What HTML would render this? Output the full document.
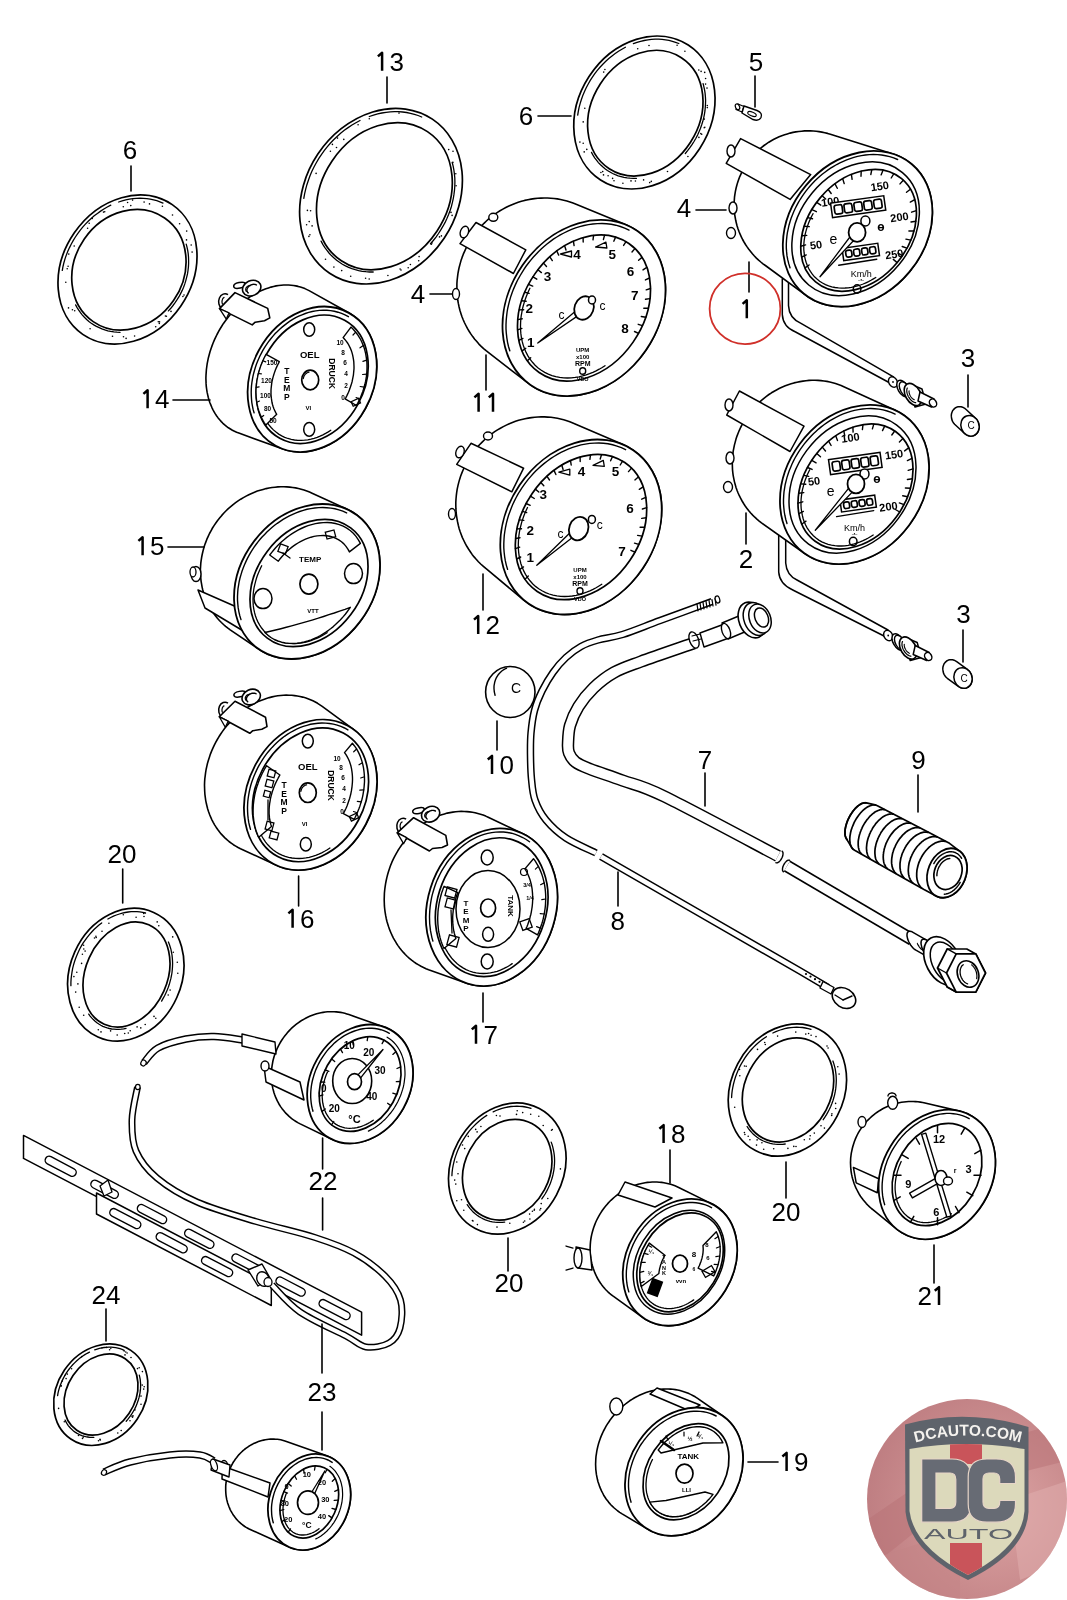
<!DOCTYPE html>
<html><head><meta charset="utf-8"><style>
html,body{margin:0;padding:0;background:#fff;}
svg{display:block;will-change:transform;}
text{font-family:"Liberation Sans",sans-serif;fill:#000;}
</style></head><body>
<svg width="1067" height="1600" viewBox="0 0 1067 1600">
<rect width="1067" height="1600" fill="#fff"/>
<ellipse cx="127.5" cy="269.5" rx="64.6" ry="78.8" fill="none" stroke="#000" stroke-width="1.7" transform="rotate(34.6 127.5 269.5)"/>
<ellipse cx="128.9" cy="269.8" rx="54.2" ry="62.9" fill="none" stroke="#000" stroke-width="1.7" transform="rotate(34.6 128.9 269.8)"/>
<path d="M62.3 270.4 L63 266.5 L63.9 262.7 L65 258.9 L66.3 255.1 L67.8 251.3 L69.5 247.6 L71.3 244 L73.3 240.4 L75.4 237 L77.7 233.6 L80.1 230.3 L82.7 227.1 L85.4 224.1 L88.2 221.2 L91.2 218.4 L94.2 215.8 L97.4 213.4 L100.6 211.1 L103.9 209 L107.3 207 L110.8 205.2" fill="none" stroke="#000" stroke-width="1.3" stroke-linecap="round"/>
<path d="M118.7 202 L122.2 200.8 L125.8 199.9 L129.4 199.2 L132.9 198.6 L136.4 198.3 L140 198.2 L143.4 198.3 L146.9 198.6 L150.2 199.1 L153.6 199.8 L156.8 200.7 L159.9 201.8 L163 203.1" fill="none" stroke="#000" stroke-width="1.3" stroke-linecap="round"/>
<path d="M186.2 244.1 L187 247.2 L187.7 250.4 L188.2 253.7 L188.5 257 L188.6 260.3 L188.6 263.7 L188.4 267.1 L188 270.5 L187.5 273.9 L186.7 277.2 L185.8 280.6 L184.8 283.9 L183.6 287.2 L182.2 290.4 L180.6 293.6 L179 296.7 L177.1 299.7 L175.1 302.7 L173 305.5 L170.8 308.3 L168.4 310.9" fill="none" stroke="#000" stroke-width="1.3" stroke-linecap="round"/>
<path d="M120 332.4 L116.9 332.2 L113.8 331.9 L110.7 331.4 L107.8 330.8 L104.8 329.9 L101.9 328.9 L99.2 327.7 L96.4 326.4 L93.8 324.9 L91.3 323.2 L88.9 321.4 L86.6 319.4 L84.4 317.3 L82.4 315.1 L80.5 312.7 L78.7 310.2 L77.1 307.6 L75.6 304.9" fill="none" stroke="#000" stroke-width="1.3" stroke-linecap="round"/>
<circle cx="68.5" cy="307.9" r="0.8" fill="#000"/>
<circle cx="132.6" cy="200.1" r="0.8" fill="#000"/>
<circle cx="89.2" cy="223.2" r="0.8" fill="#000"/>
<circle cx="159.5" cy="321.9" r="0.8" fill="#000"/>
<circle cx="166.4" cy="316.3" r="0.8" fill="#000"/>
<circle cx="155.7" cy="326.7" r="0.8" fill="#000"/>
<circle cx="68.1" cy="266.2" r="0.8" fill="#000"/>
<circle cx="134.6" cy="336" r="0.8" fill="#000"/>
<circle cx="123.3" cy="206.7" r="0.8" fill="#000"/>
<circle cx="103.5" cy="212.1" r="0.8" fill="#000"/>
<circle cx="184" cy="295" r="0.8" fill="#000"/>
<circle cx="191.2" cy="245" r="0.8" fill="#000"/>
<circle cx="126.1" cy="338.4" r="0.8" fill="#000"/>
<circle cx="74.7" cy="310.7" r="0.8" fill="#000"/>
<circle cx="112.5" cy="336.3" r="0.8" fill="#000"/>
<circle cx="127.6" cy="202.5" r="0.8" fill="#000"/>
<circle cx="92.2" cy="218.4" r="0.8" fill="#000"/>
<circle cx="159.3" cy="323.5" r="0.8" fill="#000"/>
<circle cx="144.1" cy="202.1" r="0.8" fill="#000"/>
<circle cx="72.4" cy="309.7" r="0.8" fill="#000"/>
<circle cx="68.8" cy="254.1" r="0.8" fill="#000"/>
<circle cx="179.6" cy="223.7" r="0.8" fill="#000"/>
<circle cx="90.1" cy="328.8" r="0.8" fill="#000"/>
<circle cx="87.6" cy="228.3" r="0.8" fill="#000"/>
<circle cx="162.4" cy="206.3" r="0.8" fill="#000"/>
<circle cx="182.9" cy="296.5" r="0.8" fill="#000"/>
<circle cx="67.2" cy="268.8" r="0.8" fill="#000"/>
<circle cx="123.5" cy="336.8" r="0.8" fill="#000"/>
<circle cx="165.4" cy="316" r="0.8" fill="#000"/>
<circle cx="172.5" cy="215" r="0.8" fill="#000"/>
<circle cx="192.1" cy="252.1" r="0.8" fill="#000"/>
<circle cx="149.5" cy="203.9" r="0.8" fill="#000"/>
<circle cx="104.7" cy="211.8" r="0.8" fill="#000"/>
<circle cx="186.5" cy="239.9" r="0.8" fill="#000"/>
<circle cx="74.2" cy="246" r="0.8" fill="#000"/>
<circle cx="158.3" cy="321.8" r="0.8" fill="#000"/>
<circle cx="130.8" cy="205.6" r="0.8" fill="#000"/>
<circle cx="186.7" cy="231.1" r="0.8" fill="#000"/>
<circle cx="65.8" cy="282.3" r="0.8" fill="#000"/>
<circle cx="171" cy="311.4" r="0.8" fill="#000"/>
<ellipse cx="381" cy="196.2" rx="75.9" ry="92.6" fill="none" stroke="#000" stroke-width="1.7" transform="rotate(33.7 381 196.2)"/>
<ellipse cx="384.4" cy="196.2" rx="63.1" ry="77.6" fill="none" stroke="#000" stroke-width="1.7" transform="rotate(33.7 384.4 196.2)"/>
<path d="M303.8 198.4 L304.6 193.8 L305.7 189.2 L306.9 184.7 L308.4 180.2 L310 175.7 L311.9 171.3 L314 167 L316.3 162.8 L318.7 158.6 L321.4 154.6 L324.2 150.7 L327.2 146.9 L330.3 143.3 L333.6 139.8 L337.1 136.5 L340.6 133.3 L344.3 130.3 L348.1 127.6 L352 125 L355.9 122.7 L360 120.5" fill="none" stroke="#000" stroke-width="1.3" stroke-linecap="round"/>
<path d="M369.3 116.5 L373.5 115.1 L377.7 113.9 L381.9 113 L386.1 112.3 L390.2 111.9 L394.4 111.7 L398.5 111.7 L402.6 112 L406.6 112.5 L410.5 113.3 L414.4 114.3 L418.1 115.5 L421.7 117" fill="none" stroke="#000" stroke-width="1.3" stroke-linecap="round"/>
<path d="M452.2 162.5 L453.2 166.3 L453.9 170.1 L454.4 174 L454.8 177.9 L454.9 181.9 L454.8 186 L454.5 190.1 L454 194.2 L453.3 198.3 L452.4 202.4 L451.4 206.5 L450.1 210.5 L448.6 214.5 L446.9 218.5 L445.1 222.4 L443 226.2 L440.8 229.9 L438.5 233.5 L436 237.1 L433.3 240.5 L430.5 243.7" fill="none" stroke="#000" stroke-width="1.3" stroke-linecap="round"/>
<path d="M373.2 272 L369.5 272 L365.9 271.7 L362.3 271.3 L358.7 270.6 L355.3 269.7 L351.9 268.7 L348.6 267.4 L345.5 265.9 L342.4 264.2 L339.5 262.3 L336.6 260.3 L334 258 L331.4 255.6 L329 253 L326.8 250.2 L324.7 247.3 L322.8 244.3 L321.1 241.1" fill="none" stroke="#000" stroke-width="1.3" stroke-linecap="round"/>
<circle cx="369.2" cy="279" r="0.8" fill="#000"/>
<circle cx="419.1" cy="256.6" r="0.8" fill="#000"/>
<circle cx="387.9" cy="275.5" r="0.8" fill="#000"/>
<circle cx="310.6" cy="210.7" r="0.8" fill="#000"/>
<circle cx="410.4" cy="264.5" r="0.8" fill="#000"/>
<circle cx="343.8" cy="139.4" r="0.8" fill="#000"/>
<circle cx="448.7" cy="149.6" r="0.8" fill="#000"/>
<circle cx="325.5" cy="259.3" r="0.8" fill="#000"/>
<circle cx="312.1" cy="225.9" r="0.8" fill="#000"/>
<circle cx="452.1" cy="215.4" r="0.8" fill="#000"/>
<circle cx="365.6" cy="278.3" r="0.8" fill="#000"/>
<circle cx="341.7" cy="270.6" r="0.8" fill="#000"/>
<circle cx="358.1" cy="124.7" r="0.8" fill="#000"/>
<circle cx="439.5" cy="236.9" r="0.8" fill="#000"/>
<circle cx="309.2" cy="221.6" r="0.8" fill="#000"/>
<circle cx="451" cy="212.4" r="0.8" fill="#000"/>
<circle cx="330.4" cy="151.3" r="0.8" fill="#000"/>
<circle cx="399" cy="113.1" r="0.8" fill="#000"/>
<circle cx="456.1" cy="185.8" r="0.8" fill="#000"/>
<circle cx="455.8" cy="173.7" r="0.8" fill="#000"/>
<circle cx="307.4" cy="210.4" r="0.8" fill="#000"/>
<circle cx="400.1" cy="269" r="0.8" fill="#000"/>
<circle cx="418.7" cy="260.8" r="0.8" fill="#000"/>
<circle cx="350.7" cy="276.3" r="0.8" fill="#000"/>
<circle cx="308.9" cy="236.4" r="0.8" fill="#000"/>
<circle cx="441.4" cy="235.9" r="0.8" fill="#000"/>
<circle cx="401" cy="270" r="0.8" fill="#000"/>
<circle cx="431.4" cy="244.3" r="0.8" fill="#000"/>
<circle cx="369.3" cy="118.7" r="0.8" fill="#000"/>
<circle cx="333.9" cy="267.1" r="0.8" fill="#000"/>
<circle cx="306.6" cy="224.8" r="0.8" fill="#000"/>
<circle cx="452.9" cy="162.4" r="0.8" fill="#000"/>
<circle cx="316.1" cy="173.4" r="0.8" fill="#000"/>
<circle cx="408.2" cy="267.7" r="0.8" fill="#000"/>
<circle cx="309.9" cy="234.7" r="0.8" fill="#000"/>
<circle cx="453" cy="151.3" r="0.8" fill="#000"/>
<circle cx="432" cy="243" r="0.8" fill="#000"/>
<circle cx="332.4" cy="144.4" r="0.8" fill="#000"/>
<circle cx="337.5" cy="138.1" r="0.8" fill="#000"/>
<circle cx="336.5" cy="147.5" r="0.8" fill="#000"/>
<ellipse cx="644.4" cy="112.5" rx="66" ry="80.5" fill="none" stroke="#000" stroke-width="1.7" transform="rotate(33 644.4 112.5)"/>
<ellipse cx="645.3" cy="113.2" rx="53.7" ry="66.2" fill="none" stroke="#000" stroke-width="1.7" transform="rotate(33 645.3 113.2)"/>
<path d="M577.7 115.2 L578.3 111.3 L579.1 107.3 L580.2 103.4 L581.4 99.5 L582.8 95.6 L584.4 91.8 L586.1 88 L588.1 84.3 L590.1 80.7 L592.4 77.2 L594.8 73.7 L597.3 70.4 L600 67.3 L602.8 64.2 L605.8 61.3 L608.8 58.5 L612 55.9 L615.2 53.5 L618.5 51.2 L621.9 49.2 L625.4 47.3" fill="none" stroke="#000" stroke-width="1.3" stroke-linecap="round"/>
<path d="M633.4 43.7 L637 42.4 L640.6 41.4 L644.2 40.5 L647.9 39.9 L651.5 39.4 L655.1 39.2 L658.6 39.2 L662.1 39.4 L665.6 39.8 L669 40.4 L672.4 41.3 L675.6 42.3 L678.8 43.5" fill="none" stroke="#000" stroke-width="1.3" stroke-linecap="round"/>
<path d="M703.1 83.6 L703.9 86.8 L704.6 90.1 L705.1 93.4 L705.4 96.8 L705.6 100.2 L705.5 103.7 L705.3 107.2 L705 110.7 L704.4 114.3 L703.7 117.8 L702.8 121.3 L701.7 124.8 L700.5 128.2 L699.1 131.6 L697.6 135 L695.9 138.3 L694 141.5 L692 144.7 L689.9 147.7 L687.6 150.7 L685.3 153.5" fill="none" stroke="#000" stroke-width="1.3" stroke-linecap="round"/>
<path d="M636.4 178.4 L633.3 178.4 L630.1 178.2 L627.1 177.9 L624 177.4 L621.1 176.6 L618.2 175.8 L615.3 174.7 L612.6 173.5 L610 172 L607.4 170.5 L605 168.7 L602.7 166.8 L600.5 164.8 L598.4 162.6 L596.5 160.2 L594.7 157.8 L593 155.2 L591.5 152.4" fill="none" stroke="#000" stroke-width="1.3" stroke-linecap="round"/>
<circle cx="707" cy="88.1" r="0.8" fill="#000"/>
<circle cx="600.9" cy="172.5" r="0.8" fill="#000"/>
<circle cx="635.4" cy="181" r="0.8" fill="#000"/>
<circle cx="604.9" cy="69.5" r="0.8" fill="#000"/>
<circle cx="584.2" cy="151.9" r="0.8" fill="#000"/>
<circle cx="698.8" cy="70" r="0.8" fill="#000"/>
<circle cx="705.6" cy="84.1" r="0.8" fill="#000"/>
<circle cx="701.1" cy="71.4" r="0.8" fill="#000"/>
<circle cx="612.6" cy="178.4" r="0.8" fill="#000"/>
<circle cx="579.9" cy="142.1" r="0.8" fill="#000"/>
<circle cx="687.9" cy="156.5" r="0.8" fill="#000"/>
<circle cx="602.7" cy="171.6" r="0.8" fill="#000"/>
<circle cx="704.2" cy="127.8" r="0.8" fill="#000"/>
<circle cx="704.3" cy="119.1" r="0.8" fill="#000"/>
<circle cx="704.8" cy="127.2" r="0.8" fill="#000"/>
<circle cx="614" cy="180.7" r="0.8" fill="#000"/>
<circle cx="622.9" cy="183.2" r="0.8" fill="#000"/>
<circle cx="637.7" cy="48.7" r="0.8" fill="#000"/>
<circle cx="705.6" cy="78.5" r="0.8" fill="#000"/>
<circle cx="649" cy="45.5" r="0.8" fill="#000"/>
<circle cx="667.5" cy="171.5" r="0.8" fill="#000"/>
<circle cx="707.3" cy="107.6" r="0.8" fill="#000"/>
<circle cx="684.9" cy="51.3" r="0.8" fill="#000"/>
<circle cx="631" cy="180.9" r="0.8" fill="#000"/>
<circle cx="586.8" cy="149.4" r="0.8" fill="#000"/>
<circle cx="701.7" cy="134.3" r="0.8" fill="#000"/>
<circle cx="583.2" cy="121.9" r="0.8" fill="#000"/>
<circle cx="677.1" cy="45.2" r="0.8" fill="#000"/>
<circle cx="651.3" cy="181.4" r="0.8" fill="#000"/>
<circle cx="707.3" cy="105.5" r="0.8" fill="#000"/>
<circle cx="643.6" cy="179.9" r="0.8" fill="#000"/>
<circle cx="698.9" cy="137.4" r="0.8" fill="#000"/>
<circle cx="583.2" cy="143.2" r="0.8" fill="#000"/>
<circle cx="649.7" cy="182.6" r="0.8" fill="#000"/>
<circle cx="700.8" cy="133.6" r="0.8" fill="#000"/>
<circle cx="603.7" cy="72.1" r="0.8" fill="#000"/>
<circle cx="584.8" cy="108.2" r="0.8" fill="#000"/>
<circle cx="704.7" cy="72.4" r="0.8" fill="#000"/>
<circle cx="603.5" cy="174.9" r="0.8" fill="#000"/>
<circle cx="608.1" cy="175.8" r="0.8" fill="#000"/>
<ellipse cx="125.8" cy="974.7" rx="55.9" ry="68.2" fill="none" stroke="#000" stroke-width="1.7" transform="rotate(24.1 125.8 974.7)"/>
<ellipse cx="126.5" cy="974.5" rx="40.9" ry="54.5" fill="none" stroke="#000" stroke-width="1.7" transform="rotate(24.1 126.5 974.5)"/>
<path d="M70.9 985.7 L70.9 982.3 L71.1 978.9 L71.5 975.5 L72 972.1 L72.6 968.7 L73.4 965.3 L74.4 962 L75.5 958.7 L76.8 955.4 L78.2 952.2 L79.7 949 L81.4 945.9 L83.2 942.9 L85.2 940.1 L87.2 937.3 L89.4 934.6 L91.7 932 L94 929.5 L96.5 927.2 L99 925.1 L101.7 923" fill="none" stroke="#000" stroke-width="1.3" stroke-linecap="round"/>
<path d="M107.9 919 L110.7 917.5 L113.5 916.1 L116.4 915 L119.4 914 L122.3 913.1 L125.2 912.5 L128.2 912 L131.1 911.7 L134.1 911.6 L137 911.7 L139.8 911.9 L142.7 912.4 L145.5 913" fill="none" stroke="#000" stroke-width="1.3" stroke-linecap="round"/>
<path d="M168.4 942 L169.4 944.4 L170.2 947 L171 949.6 L171.5 952.3 L172 955 L172.3 957.9 L172.5 960.7 L172.6 963.6 L172.5 966.6 L172.3 969.5 L172 972.5 L171.5 975.5 L170.9 978.4 L170.1 981.4 L169.3 984.3 L168.3 987.2 L167.2 990.1 L165.9 992.9 L164.6 995.7 L163.1 998.4 L161.6 1001.1" fill="none" stroke="#000" stroke-width="1.3" stroke-linecap="round"/>
<path d="M126.1 1028.3 L123.7 1028.8 L121.2 1029.2 L118.8 1029.4 L116.4 1029.4 L114 1029.2 L111.7 1029 L109.4 1028.5 L107.2 1027.9 L105 1027.2 L102.8 1026.3 L100.8 1025.2 L98.8 1024 L96.9 1022.7 L95.1 1021.2 L93.3 1019.6 L91.7 1017.9 L90.1 1016.1 L88.7 1014.1" fill="none" stroke="#000" stroke-width="1.3" stroke-linecap="round"/>
<circle cx="98.3" cy="1029.7" r="0.8" fill="#000"/>
<circle cx="137.1" cy="1026.9" r="0.8" fill="#000"/>
<circle cx="79.2" cy="1007.2" r="0.8" fill="#000"/>
<circle cx="102" cy="931.3" r="0.8" fill="#000"/>
<circle cx="77.9" cy="983.9" r="0.8" fill="#000"/>
<circle cx="82.4" cy="954.3" r="0.8" fill="#000"/>
<circle cx="83.6" cy="945.3" r="0.8" fill="#000"/>
<circle cx="73.9" cy="976.6" r="0.8" fill="#000"/>
<circle cx="168.2" cy="995" r="0.8" fill="#000"/>
<circle cx="124.7" cy="1033.5" r="0.8" fill="#000"/>
<circle cx="144" cy="916.5" r="0.8" fill="#000"/>
<circle cx="83.7" cy="1015.2" r="0.8" fill="#000"/>
<circle cx="94.5" cy="938" r="0.8" fill="#000"/>
<circle cx="145.2" cy="1024.5" r="0.8" fill="#000"/>
<circle cx="101" cy="1031.9" r="0.8" fill="#000"/>
<circle cx="157.2" cy="921.9" r="0.8" fill="#000"/>
<circle cx="95.9" cy="936.2" r="0.8" fill="#000"/>
<circle cx="177.3" cy="962.2" r="0.8" fill="#000"/>
<circle cx="108.9" cy="923.2" r="0.8" fill="#000"/>
<circle cx="85.1" cy="951.1" r="0.8" fill="#000"/>
<circle cx="76.8" cy="972.2" r="0.8" fill="#000"/>
<circle cx="81.6" cy="963.4" r="0.8" fill="#000"/>
<circle cx="136.1" cy="917.3" r="0.8" fill="#000"/>
<circle cx="177.8" cy="973.3" r="0.8" fill="#000"/>
<circle cx="96.2" cy="937.5" r="0.8" fill="#000"/>
<circle cx="172.7" cy="936.9" r="0.8" fill="#000"/>
<circle cx="140.8" cy="1027.9" r="0.8" fill="#000"/>
<circle cx="155.8" cy="1018.2" r="0.8" fill="#000"/>
<circle cx="154" cy="1016.4" r="0.8" fill="#000"/>
<circle cx="158.8" cy="925.8" r="0.8" fill="#000"/>
<circle cx="130.2" cy="1030.8" r="0.8" fill="#000"/>
<circle cx="123.3" cy="914.7" r="0.8" fill="#000"/>
<circle cx="173.3" cy="952.3" r="0.8" fill="#000"/>
<circle cx="110.6" cy="1030.9" r="0.8" fill="#000"/>
<circle cx="75.7" cy="992.1" r="0.8" fill="#000"/>
<circle cx="170.1" cy="990.1" r="0.8" fill="#000"/>
<circle cx="128.3" cy="1033" r="0.8" fill="#000"/>
<circle cx="83.8" cy="949" r="0.8" fill="#000"/>
<circle cx="117.2" cy="1035" r="0.8" fill="#000"/>
<circle cx="143.7" cy="913.5" r="0.8" fill="#000"/>
<ellipse cx="507.3" cy="1168.5" rx="55.8" ry="68" fill="none" stroke="#000" stroke-width="1.7" transform="rotate(28.1 507.3 1168.5)"/>
<ellipse cx="507.2" cy="1169.7" rx="42.3" ry="52.3" fill="none" stroke="#000" stroke-width="1.7" transform="rotate(28.1 507.2 1169.7)"/>
<path d="M451.9 1175.7 L452.1 1172.3 L452.5 1169 L453.1 1165.6 L453.9 1162.2 L454.7 1158.9 L455.8 1155.6 L457 1152.3 L458.3 1149.1 L459.8 1145.9 L461.4 1142.8 L463.2 1139.8 L465.1 1136.8 L467.1 1134 L469.2 1131.2 L471.4 1128.6 L473.8 1126.1 L476.2 1123.7 L478.7 1121.4 L481.3 1119.3 L484 1117.3 L486.8 1115.4" fill="none" stroke="#000" stroke-width="1.3" stroke-linecap="round"/>
<path d="M493.2 1111.9 L496.1 1110.5 L499.1 1109.4 L502 1108.4 L505 1107.6 L508 1107 L511 1106.5 L513.9 1106.3 L516.9 1106.2 L519.8 1106.3 L522.7 1106.5 L525.5 1107 L528.3 1107.6 L531 1108.4" fill="none" stroke="#000" stroke-width="1.3" stroke-linecap="round"/>
<path d="M551.2 1142.1 L552.1 1144.6 L552.8 1147.1 L553.4 1149.8 L553.9 1152.4 L554.3 1155.2 L554.5 1157.9 L554.6 1160.7 L554.5 1163.6 L554.3 1166.4 L554 1169.3 L553.5 1172.1 L552.9 1175 L552.2 1177.8 L551.3 1180.6 L550.3 1183.4 L549.2 1186.1 L547.9 1188.8 L546.6 1191.4 L545.1 1194 L543.5 1196.5 L541.8 1198.9" fill="none" stroke="#000" stroke-width="1.3" stroke-linecap="round"/>
<path d="M504.7 1222.1 L502.2 1222.3 L499.7 1222.4 L497.2 1222.3 L494.8 1222.1 L492.4 1221.8 L490 1221.3 L487.7 1220.6 L485.4 1219.8 L483.2 1218.9 L481.1 1217.8 L479.1 1216.6 L477.1 1215.2 L475.2 1213.8 L473.4 1212.2 L471.7 1210.4 L470.1 1208.6 L468.6 1206.6 L467.2 1204.6" fill="none" stroke="#000" stroke-width="1.3" stroke-linecap="round"/>
<circle cx="475.7" cy="1129.4" r="0.8" fill="#000"/>
<circle cx="547.8" cy="1198.5" r="0.8" fill="#000"/>
<circle cx="496.4" cy="1115.5" r="0.8" fill="#000"/>
<circle cx="534.4" cy="1209.2" r="0.8" fill="#000"/>
<circle cx="543.2" cy="1125.5" r="0.8" fill="#000"/>
<circle cx="524.7" cy="1221" r="0.8" fill="#000"/>
<circle cx="541.2" cy="1203.6" r="0.8" fill="#000"/>
<circle cx="472.4" cy="1220.5" r="0.8" fill="#000"/>
<circle cx="458" cy="1173.7" r="0.8" fill="#000"/>
<circle cx="552.3" cy="1129.5" r="0.8" fill="#000"/>
<circle cx="509.8" cy="1223.3" r="0.8" fill="#000"/>
<circle cx="480.9" cy="1126.5" r="0.8" fill="#000"/>
<circle cx="529.9" cy="1219" r="0.8" fill="#000"/>
<circle cx="517.2" cy="1110.7" r="0.8" fill="#000"/>
<circle cx="532.4" cy="1211.3" r="0.8" fill="#000"/>
<circle cx="500" cy="1116" r="0.8" fill="#000"/>
<circle cx="529.6" cy="1214.1" r="0.8" fill="#000"/>
<circle cx="534.2" cy="1210.3" r="0.8" fill="#000"/>
<circle cx="456.8" cy="1162" r="0.8" fill="#000"/>
<circle cx="477.1" cy="1131.9" r="0.8" fill="#000"/>
<circle cx="473" cy="1221" r="0.8" fill="#000"/>
<circle cx="468.3" cy="1136.4" r="0.8" fill="#000"/>
<circle cx="523.4" cy="1222.3" r="0.8" fill="#000"/>
<circle cx="540.7" cy="1208.6" r="0.8" fill="#000"/>
<circle cx="463.8" cy="1210.2" r="0.8" fill="#000"/>
<circle cx="538.8" cy="1116.2" r="0.8" fill="#000"/>
<circle cx="462.5" cy="1145" r="0.8" fill="#000"/>
<circle cx="456.8" cy="1200.7" r="0.8" fill="#000"/>
<circle cx="477.4" cy="1224.6" r="0.8" fill="#000"/>
<circle cx="530.7" cy="1114.2" r="0.8" fill="#000"/>
<circle cx="497" cy="1227.1" r="0.8" fill="#000"/>
<circle cx="560.4" cy="1168.9" r="0.8" fill="#000"/>
<circle cx="551.5" cy="1130.3" r="0.8" fill="#000"/>
<circle cx="464.7" cy="1148.6" r="0.8" fill="#000"/>
<circle cx="455.8" cy="1184.1" r="0.8" fill="#000"/>
<circle cx="516.5" cy="1114.4" r="0.8" fill="#000"/>
<circle cx="461.5" cy="1199.8" r="0.8" fill="#000"/>
<circle cx="522.7" cy="1112.6" r="0.8" fill="#000"/>
<circle cx="454.7" cy="1180.1" r="0.8" fill="#000"/>
<circle cx="539.9" cy="1210" r="0.8" fill="#000"/>
<ellipse cx="787.4" cy="1090" rx="56.2" ry="68.5" fill="none" stroke="#000" stroke-width="1.7" transform="rotate(27.8 787.4 1090)"/>
<ellipse cx="788" cy="1090" rx="43" ry="54.2" fill="none" stroke="#000" stroke-width="1.7" transform="rotate(27.8 788 1090)"/>
<path d="M731.6 1097.5 L731.8 1094.1 L732.2 1090.7 L732.8 1087.3 L733.5 1084 L734.4 1080.6 L735.4 1077.3 L736.6 1074 L737.9 1070.7 L739.4 1067.5 L741 1064.4 L742.8 1061.3 L744.6 1058.3 L746.6 1055.5 L748.8 1052.7 L751 1050 L753.4 1047.4 L755.8 1045 L758.3 1042.7 L761 1040.5 L763.7 1038.5 L766.4 1036.7" fill="none" stroke="#000" stroke-width="1.3" stroke-linecap="round"/>
<path d="M772.9 1033 L775.8 1031.7 L778.8 1030.5 L781.7 1029.5 L784.7 1028.7 L787.7 1028 L790.7 1027.6 L793.7 1027.3 L796.7 1027.2 L799.6 1027.3 L802.5 1027.5 L805.4 1028 L808.2 1028.6 L811 1029.4" fill="none" stroke="#000" stroke-width="1.3" stroke-linecap="round"/>
<path d="M832.9 1061 L833.8 1063.6 L834.5 1066.2 L835.2 1068.9 L835.6 1071.6 L836 1074.4 L836.2 1077.3 L836.3 1080.1 L836.2 1083.1 L836 1086 L835.7 1088.9 L835.2 1091.9 L834.6 1094.8 L833.8 1097.8 L832.9 1100.7 L831.9 1103.5 L830.7 1106.4 L829.4 1109.2 L828 1111.9 L826.5 1114.6 L824.9 1117.2 L823.2 1119.7" fill="none" stroke="#000" stroke-width="1.3" stroke-linecap="round"/>
<path d="M785.2 1144 L782.7 1144.3 L780.2 1144.4 L777.6 1144.4 L775.1 1144.2 L772.7 1143.8 L770.3 1143.3 L767.9 1142.7 L765.6 1141.9 L763.4 1141 L761.2 1139.9 L759.1 1138.7 L757.1 1137.3 L755.2 1135.8 L753.4 1134.2 L751.6 1132.4 L750 1130.5 L748.5 1128.6 L747.1 1126.5" fill="none" stroke="#000" stroke-width="1.3" stroke-linecap="round"/>
<circle cx="814.3" cy="1133.1" r="0.8" fill="#000"/>
<circle cx="756.5" cy="1145.1" r="0.8" fill="#000"/>
<circle cx="810.2" cy="1135.8" r="0.8" fill="#000"/>
<circle cx="837.8" cy="1066.8" r="0.8" fill="#000"/>
<circle cx="749.9" cy="1139.7" r="0.8" fill="#000"/>
<circle cx="748.2" cy="1136.3" r="0.8" fill="#000"/>
<circle cx="787.9" cy="1148.4" r="0.8" fill="#000"/>
<circle cx="757.1" cy="1139.9" r="0.8" fill="#000"/>
<circle cx="835.6" cy="1103.4" r="0.8" fill="#000"/>
<circle cx="761.9" cy="1142.7" r="0.8" fill="#000"/>
<circle cx="744.4" cy="1132.6" r="0.8" fill="#000"/>
<circle cx="831.9" cy="1113.8" r="0.8" fill="#000"/>
<circle cx="739.8" cy="1075.8" r="0.8" fill="#000"/>
<circle cx="773.7" cy="1148.7" r="0.8" fill="#000"/>
<circle cx="831.7" cy="1115.4" r="0.8" fill="#000"/>
<circle cx="809.7" cy="1139" r="0.8" fill="#000"/>
<circle cx="824.4" cy="1128.1" r="0.8" fill="#000"/>
<circle cx="744.9" cy="1134.5" r="0.8" fill="#000"/>
<circle cx="764.7" cy="1042.5" r="0.8" fill="#000"/>
<circle cx="816" cy="1036.6" r="0.8" fill="#000"/>
<circle cx="805.8" cy="1034.1" r="0.8" fill="#000"/>
<circle cx="734.7" cy="1107.2" r="0.8" fill="#000"/>
<circle cx="835.7" cy="1108.5" r="0.8" fill="#000"/>
<circle cx="808.6" cy="1033.5" r="0.8" fill="#000"/>
<circle cx="821" cy="1125.7" r="0.8" fill="#000"/>
<circle cx="839.1" cy="1074.1" r="0.8" fill="#000"/>
<circle cx="811.1" cy="1035.3" r="0.8" fill="#000"/>
<circle cx="793.8" cy="1146.4" r="0.8" fill="#000"/>
<circle cx="746.2" cy="1066.3" r="0.8" fill="#000"/>
<circle cx="828.1" cy="1048" r="0.8" fill="#000"/>
<circle cx="765.3" cy="1044.5" r="0.8" fill="#000"/>
<circle cx="795.8" cy="1032.1" r="0.8" fill="#000"/>
<circle cx="763.7" cy="1149.2" r="0.8" fill="#000"/>
<circle cx="796" cy="1146.5" r="0.8" fill="#000"/>
<circle cx="804.3" cy="1139.8" r="0.8" fill="#000"/>
<circle cx="757.5" cy="1049.4" r="0.8" fill="#000"/>
<circle cx="777.6" cy="1036.1" r="0.8" fill="#000"/>
<circle cx="739.5" cy="1069.5" r="0.8" fill="#000"/>
<circle cx="827" cy="1046" r="0.8" fill="#000"/>
<circle cx="744.5" cy="1066" r="0.8" fill="#000"/>
<ellipse cx="100.8" cy="1394.7" rx="43.9" ry="53.5" fill="none" stroke="#000" stroke-width="1.7" transform="rotate(34.1 100.8 1394.7)"/>
<ellipse cx="101" cy="1394.5" rx="33.8" ry="43.2" fill="none" stroke="#000" stroke-width="1.7" transform="rotate(34.1 101 1394.5)"/>
<path d="M57.6 1395.7 L58 1393.2 L58.6 1390.6 L59.3 1388.1 L60.2 1385.5 L61.2 1383 L62.2 1380.6 L63.4 1378.1 L64.7 1375.8 L66.1 1373.4 L67.6 1371.2 L69.2 1369 L70.9 1366.9 L72.7 1364.8 L74.6 1362.9 L76.5 1361 L78.5 1359.2 L80.6 1357.6 L82.8 1356 L84.9 1354.6 L87.2 1353.3 L89.5 1352.1" fill="none" stroke="#000" stroke-width="1.3" stroke-linecap="round"/>
<path d="M94.7 1349.8 L97.1 1349.1 L99.4 1348.4 L101.8 1347.9 L104.1 1347.5 L106.5 1347.3 L108.8 1347.2 L111.1 1347.2 L113.4 1347.4 L115.7 1347.7 L117.9 1348.1 L120 1348.7 L122.1 1349.4 L124.1 1350.3" fill="none" stroke="#000" stroke-width="1.3" stroke-linecap="round"/>
<path d="M139.3 1375.2 L139.8 1377.3 L140.2 1379.4 L140.4 1381.6 L140.6 1383.9 L140.6 1386.1 L140.5 1388.4 L140.3 1390.7 L140 1393.1 L139.5 1395.4 L139 1397.7 L138.3 1400 L137.5 1402.3 L136.7 1404.6 L135.7 1406.9 L134.6 1409.1 L133.4 1411.2 L132.1 1413.4 L130.8 1415.4 L129.3 1417.4 L127.8 1419.4 L126.2 1421.2" fill="none" stroke="#000" stroke-width="1.3" stroke-linecap="round"/>
<path d="M93.8 1437.4 L91.7 1437.4 L89.7 1437.3 L87.7 1437 L85.7 1436.7 L83.8 1436.2 L81.9 1435.6 L80.1 1434.9 L78.4 1434 L76.7 1433.1 L75.1 1432.1 L73.5 1430.9 L72 1429.6 L70.6 1428.3 L69.3 1426.8 L68.1 1425.3 L67 1423.6 L66 1421.9 L65.1 1420.1" fill="none" stroke="#000" stroke-width="1.3" stroke-linecap="round"/>
<circle cx="106.5" cy="1347.4" r="0.8" fill="#000"/>
<circle cx="125.8" cy="1352" r="0.8" fill="#000"/>
<circle cx="117.8" cy="1433" r="0.8" fill="#000"/>
<circle cx="124.2" cy="1351" r="0.8" fill="#000"/>
<circle cx="125" cy="1354.9" r="0.8" fill="#000"/>
<circle cx="67.3" cy="1374.1" r="0.8" fill="#000"/>
<circle cx="66.1" cy="1378.6" r="0.8" fill="#000"/>
<circle cx="131" cy="1357.5" r="0.8" fill="#000"/>
<circle cx="101.9" cy="1348" r="0.8" fill="#000"/>
<circle cx="98.5" cy="1440.7" r="0.8" fill="#000"/>
<circle cx="127.1" cy="1353" r="0.8" fill="#000"/>
<circle cx="81.8" cy="1356.5" r="0.8" fill="#000"/>
<circle cx="121.2" cy="1430.5" r="0.8" fill="#000"/>
<circle cx="109.6" cy="1349.8" r="0.8" fill="#000"/>
<circle cx="110.8" cy="1348.2" r="0.8" fill="#000"/>
<circle cx="71.6" cy="1368.7" r="0.8" fill="#000"/>
<circle cx="62.3" cy="1381.1" r="0.8" fill="#000"/>
<circle cx="144.2" cy="1386.8" r="0.8" fill="#000"/>
<circle cx="134.9" cy="1409.9" r="0.8" fill="#000"/>
<circle cx="130" cy="1420.8" r="0.8" fill="#000"/>
<circle cx="137.5" cy="1368.6" r="0.8" fill="#000"/>
<circle cx="61" cy="1386.1" r="0.8" fill="#000"/>
<circle cx="83.3" cy="1437.1" r="0.8" fill="#000"/>
<circle cx="82.5" cy="1438.4" r="0.8" fill="#000"/>
<circle cx="100" cy="1439.4" r="0.8" fill="#000"/>
<circle cx="141" cy="1404.2" r="0.8" fill="#000"/>
<circle cx="139.2" cy="1367.7" r="0.8" fill="#000"/>
<circle cx="142.2" cy="1385.1" r="0.8" fill="#000"/>
<circle cx="78.5" cy="1435.4" r="0.8" fill="#000"/>
<circle cx="64.8" cy="1375.5" r="0.8" fill="#000"/>
<circle cx="132.5" cy="1417.3" r="0.8" fill="#000"/>
<circle cx="61.2" cy="1385.8" r="0.8" fill="#000"/>
<circle cx="100.3" cy="1440" r="0.8" fill="#000"/>
<circle cx="64.3" cy="1421.7" r="0.8" fill="#000"/>
<circle cx="132" cy="1416.3" r="0.8" fill="#000"/>
<circle cx="142.4" cy="1371.6" r="0.8" fill="#000"/>
<circle cx="141" cy="1396.1" r="0.8" fill="#000"/>
<circle cx="143.7" cy="1389.1" r="0.8" fill="#000"/>
<circle cx="58.6" cy="1408.4" r="0.8" fill="#000"/>
<circle cx="133" cy="1415.9" r="0.8" fill="#000"/>
<path d="M456.9 287.2 L456.9 283.8 L457.1 280.5 L457.5 277.1 L457.9 273.8 L458.5 270.5 L459.2 267.2 L460.1 263.9 L461 260.6 L462.1 257.4 L463.3 254.2 L464.7 251.1 L466.1 248 L467.7 245 L469.4 242.1 L471.1 239.2 L473 236.3 L475 233.6 L477.1 230.9 L479.3 228.3 L481.6 225.8 L484 223.3 L486.4 221 L489 218.7 L491.6 216.6 L494.3 214.6 L497.1 212.6 L500 210.8 L502.9 209.1 L505.8 207.5 L508.9 206 L511.9 204.7 L515 203.4 L518.2 202.3 L521.4 201.3 L524.6 200.4 L527.9 199.7 L531.1 199.1 L534.4 198.6 L537.7 198.3 L541 198.1 L544.3 198 L547.5 198 L550.8 198.2 L554.1 198.5 L557.3 198.9 L560.5 199.5 L563.7 200.2 L566.9 201 L570 202 L573 203.1 L576.1 204.3 L627.2 225.3 L629.8 226.6 L632.5 228 L635 229.5 L637.4 231.1 L639.8 232.8 L642.1 234.7 L644.3 236.6 L646.4 238.7 L648.4 240.9 L650.3 243.2 L652.1 245.6 L653.8 248.1 L655.4 250.6 L656.9 253.3 L658.3 256.1 L659.5 258.9 L660.7 261.8 L661.7 264.8 L662.6 267.8 L663.4 270.9 L664.1 274.1 L664.6 277.3 L665 280.5 L665.3 283.8 L665.5 287.2 L665.5 290.6 L665.4 293.9 L665.2 297.4 L664.9 300.8 L664.4 304.3 L663.8 307.7 L663.1 311.2 L662.2 314.6 L661.3 318.1 L660.2 321.5 L659 324.9 L657.7 328.3 L656.3 331.6 L654.8 334.9 L653.1 338.2 L651.4 341.4 L649.5 344.6 L647.6 347.7 L645.5 350.8 L643.4 353.7 L641.1 356.7 L638.8 359.5 L636.4 362.3 L633.9 364.9 L631.4 367.5 L628.7 370 L626 372.4 L623.2 374.7 L620.4 376.9 L617.5 379 L614.6 381 L611.6 382.9 L608.5 384.6 L605.5 386.3 L602.4 387.8 L599.2 389.2 L596.1 390.5 L592.9 391.6 L589.7 392.6 L586.5 393.5 L583.3 394.2 L580.1 394.9 L576.9 395.4 L573.8 395.7 L570.6 395.9 L567.4 396 L564.3 395.9 L561.2 395.8 L558.2 395.4 L555.2 395 L552.2 394.4 L549.3 393.6 L546.4 392.8 L543.6 391.8 L540.8 390.7 L538.2 389.4 L535.5 388 L533 386.5 L530.6 384.9 L528.2 383.2 L488.6 352.7 L486.1 350.7 L483.6 348.6 L481.2 346.4 L478.9 344.1 L476.8 341.6 L474.7 339.2 L472.7 336.6 L470.8 333.9 L469.1 331.2 L467.4 328.4 L465.9 325.5 L464.4 322.5 L463.1 319.5 L461.9 316.5 L460.9 313.4 L459.9 310.2 L459.1 307 L458.4 303.7 L457.8 300.5 L457.4 297.2 L457.1 293.9 L456.9 290.5Z" fill="#fff" stroke="#000" stroke-width="1.6" stroke-linejoin="round" stroke-linecap="round"/>
<path d="M476 222.5 L460 243.6 L513.4 273.5 L525.8 249.8Z" fill="#fff" stroke="#000" stroke-width="1.5" stroke-linejoin="round" stroke-linecap="round"/>
<ellipse cx="584" cy="308" rx="74.9" ry="93.7" fill="#fff" stroke="#000" stroke-width="1.8" transform="rotate(34.8 584 308)"/>
<path d="M509.8 350.8 L508.5 346.5 L507.5 342.1 L506.8 337.6 L506.3 333.2 L506 328.9 L506 324.6 L506.2 320.3 L506.6 316.1 L507.1 312 L507.8 308 L508.7 304.1 L509.7 300.2 L510.8 296.4 L512.1 292.7 L513.5 289.1 L515 285.6 L516.6 282.1 L518.3 278.8 L520.2 275.5 L522.1 272.3 L524.1 269.1 L526.2 266 L528.5 263 L530.8 260.1 L533.2 257.2 L535.8 254.4 L538.4 251.7 L541.2 249 L544 246.5 L547 244 L550.1 241.6 L553.4 239.2 L556.8 237 L560.3 234.9 L563.9 233 L567.7 231.1 L571.6 229.4 L575.6 227.9 L579.7 226.6 L584 225.5 L588.4 224.6 L592.8 224 L597.4 223.6 L602 223.5 L606.6 223.7 L611.2 224.3 L615.8 225.2 L620.3 226.5 L624.7 228.1 L629 230.1" fill="none" stroke="#000" stroke-width="1.4" stroke-linecap="round"/>
<ellipse cx="584" cy="308" rx="59.8" ry="78.6" fill="none" stroke="#000" stroke-width="1.7" transform="rotate(34.8 584 308)"/>
<path d="M605 365.7 L602.2 367.5 L599.2 369.2 L596.1 370.8 L592.9 372.3 L589.6 373.7 L586.2 374.9 L582.6 375.9 L579 376.8 L575.2 377.4 L571.4 377.9 L567.5 378 L563.6 377.9 L559.7 377.4 L555.8 376.7 L552 375.6 L548.3 374.2 L544.7 372.4 L541.3 370.3 L538.1 367.9 L535.1 365.3 L532.5 362.3 L530 359.2 L527.9 355.9 L526.1 352.4 L524.5 348.8 L523.2 345.1 L522.2 341.4 L521.4 337.6 L520.9 333.9 L520.6 330.2 L520.5 326.5 L520.6 322.9 L520.8 319.4 L521.2 315.9 L521.8 312.6 L522.4 309.2 L523.2 306 L524.1 302.9 L525.1 299.8 L526.2 296.8 L527.3 293.9 L528.6 291.1 L529.9 288.3" fill="none" stroke="#000" stroke-width="1.3" stroke-linecap="round"/>
<ellipse cx="464.4" cy="232" rx="4" ry="6" fill="#fff" stroke="#000" stroke-width="1.4" transform="rotate(20 464.4 232)"/>
<ellipse cx="493.3" cy="217.3" rx="4.5" ry="4" fill="#fff" stroke="#000" stroke-width="1.4"/>
<line x1="527.4" y1="360.7" x2="530.7" y2="357.7" stroke="#000" stroke-width="1.4" stroke-linecap="round"/>
<line x1="522.1" y1="350.9" x2="525.8" y2="348.3" stroke="#000" stroke-width="1.4" stroke-linecap="round"/>
<line x1="518.9" y1="340.4" x2="522.9" y2="338.4" stroke="#000" stroke-width="1.4" stroke-linecap="round"/>
<line x1="517.6" y1="329.8" x2="521.9" y2="328.4" stroke="#000" stroke-width="1.4" stroke-linecap="round"/>
<line x1="517.8" y1="319.6" x2="522.2" y2="318.8" stroke="#000" stroke-width="1.4" stroke-linecap="round"/>
<line x1="519.2" y1="309.9" x2="523.7" y2="309.8" stroke="#000" stroke-width="1.4" stroke-linecap="round"/>
<line x1="521.6" y1="300.8" x2="526.1" y2="301.3" stroke="#000" stroke-width="1.4" stroke-linecap="round"/>
<line x1="524.7" y1="292.3" x2="529.1" y2="293.4" stroke="#000" stroke-width="1.4" stroke-linecap="round"/>
<line x1="528.5" y1="284.3" x2="532.7" y2="286.1" stroke="#000" stroke-width="1.4" stroke-linecap="round"/>
<line x1="532.9" y1="276.8" x2="536.8" y2="279.2" stroke="#000" stroke-width="1.4" stroke-linecap="round"/>
<line x1="537.9" y1="269.8" x2="541.4" y2="272.6" stroke="#000" stroke-width="1.4" stroke-linecap="round"/>
<line x1="543.5" y1="263.1" x2="546.5" y2="266.5" stroke="#000" stroke-width="1.4" stroke-linecap="round"/>
<line x1="549.8" y1="256.9" x2="552.3" y2="260.6" stroke="#000" stroke-width="1.4" stroke-linecap="round"/>
<line x1="556.8" y1="251" x2="558.7" y2="255.1" stroke="#000" stroke-width="1.4" stroke-linecap="round"/>
<line x1="564.6" y1="245.7" x2="566" y2="250" stroke="#000" stroke-width="1.4" stroke-linecap="round"/>
<line x1="573.4" y1="241.2" x2="574.1" y2="245.6" stroke="#000" stroke-width="1.4" stroke-linecap="round"/>
<line x1="583.1" y1="237.6" x2="583.2" y2="242.1" stroke="#000" stroke-width="1.4" stroke-linecap="round"/>
<line x1="593.6" y1="235.4" x2="593" y2="239.9" stroke="#000" stroke-width="1.4" stroke-linecap="round"/>
<line x1="604.6" y1="235.1" x2="603.4" y2="239.5" stroke="#000" stroke-width="1.4" stroke-linecap="round"/>
<line x1="615.6" y1="237.1" x2="613.8" y2="241.2" stroke="#000" stroke-width="1.4" stroke-linecap="round"/>
<line x1="626" y1="241.6" x2="623.6" y2="245.4" stroke="#000" stroke-width="1.4" stroke-linecap="round"/>
<line x1="634.9" y1="248.6" x2="632" y2="252" stroke="#000" stroke-width="1.4" stroke-linecap="round"/>
<line x1="642" y1="257.4" x2="638.6" y2="260.3" stroke="#000" stroke-width="1.4" stroke-linecap="round"/>
<line x1="646.8" y1="267.4" x2="643" y2="269.9" stroke="#000" stroke-width="1.4" stroke-linecap="round"/>
<line x1="649.5" y1="278" x2="645.4" y2="279.9" stroke="#000" stroke-width="1.4" stroke-linecap="round"/>
<line x1="650.5" y1="288.5" x2="646.2" y2="289.8" stroke="#000" stroke-width="1.4" stroke-linecap="round"/>
<line x1="650" y1="298.6" x2="645.5" y2="299.3" stroke="#000" stroke-width="1.4" stroke-linecap="round"/>
<line x1="648.3" y1="308.2" x2="643.8" y2="308.2" stroke="#000" stroke-width="1.4" stroke-linecap="round"/>
<line x1="645.8" y1="317.2" x2="641.3" y2="316.5" stroke="#000" stroke-width="1.4" stroke-linecap="round"/>
<line x1="642.5" y1="325.6" x2="638.2" y2="324.3" stroke="#000" stroke-width="1.4" stroke-linecap="round"/>
<line x1="638.5" y1="333.4" x2="634.5" y2="331.5" stroke="#000" stroke-width="1.4" stroke-linecap="round"/>
<text x="530.7" y="346.6" font-size="13.5" text-anchor="middle" font-weight="bold">1</text>
<text x="529.3" y="312.9" font-size="13.5" text-anchor="middle" font-weight="bold">2</text>
<text x="547.6" y="280.5" font-size="13.5" text-anchor="middle" font-weight="bold">3</text>
<text x="577" y="259.4" font-size="13.5" text-anchor="middle" font-weight="bold">4</text>
<text x="612.3" y="258.6" font-size="13.5" text-anchor="middle" font-weight="bold">5</text>
<text x="630.5" y="276.3" font-size="13.5" text-anchor="middle" font-weight="bold">6</text>
<text x="634.7" y="300.2" font-size="13.5" text-anchor="middle" font-weight="bold">7</text>
<text x="625" y="332.5" font-size="13.5" text-anchor="middle" font-weight="bold">8</text>
<path d="M560.5 254 L571.5 251 L571.5 257Z" fill="none" stroke="#000" stroke-width="1.3" stroke-linejoin="round" stroke-linecap="round"/>
<path d="M595.6 247 L605.9 242.1 L606.9 248Z" fill="none" stroke="#000" stroke-width="1.3" stroke-linejoin="round" stroke-linecap="round"/>
<path d="M582.2 305.6 L537.8 343 L585.8 310.4Z" fill="#fff" stroke="#000" stroke-width="1.3" stroke-linejoin="round" stroke-linecap="round"/>
<ellipse cx="584" cy="308" rx="9.5" ry="12" fill="#fff" stroke="#000" stroke-width="1.8" transform="rotate(20 584 308)"/>
<ellipse cx="592" cy="300" rx="3.5" ry="4" fill="#fff" stroke="#000" stroke-width="1.5"/>
<text x="561.6" y="318.7" font-size="12" text-anchor="middle" font-weight="normal">c</text>
<text x="602.4" y="310.3" font-size="12" text-anchor="middle" font-weight="normal">c</text>
<text x="582.7" y="352.2" font-size="6" text-anchor="middle" font-weight="bold">UPM</text>
<text x="582.7" y="358.7" font-size="6" text-anchor="middle" font-weight="bold">x100</text>
<text x="582.7" y="365.5" font-size="7" text-anchor="middle" font-weight="bold">RPM</text>
<ellipse cx="582.7" cy="371" rx="3" ry="3.3" fill="none" stroke="#000" stroke-width="1.4"/>
<text x="582.7" y="381" font-size="5.5" text-anchor="middle" font-weight="bold">VDO</text>
<ellipse cx="456" cy="294" rx="3.5" ry="5.5" fill="#fff" stroke="#000" stroke-width="1.4"/>
<path d="M455.8 505.6 L455.8 502.3 L456 499 L456.3 495.7 L456.7 492.4 L457.2 489.1 L457.9 485.9 L458.7 482.6 L459.6 479.4 L460.6 476.2 L461.8 473.1 L463.1 470 L464.5 466.9 L466 463.9 L467.6 461 L469.3 458.1 L471.2 455.3 L473.1 452.5 L475.1 449.9 L477.3 447.3 L479.5 444.8 L481.9 442.4 L484.3 440 L486.8 437.8 L489.3 435.7 L492 433.6 L494.7 431.7 L497.5 429.9 L500.4 428.2 L503.3 426.6 L506.3 425.1 L509.3 423.7 L512.4 422.5 L515.5 421.3 L518.6 420.3 L521.8 419.5 L525 418.7 L528.2 418.1 L531.5 417.6 L534.7 417.2 L538 417 L541.2 416.9 L544.5 416.9 L547.7 417.1 L551 417.3 L554.2 417.8 L557.4 418.3 L560.5 419 L563.7 419.8 L566.8 420.7 L569.8 421.7 L572.8 422.9 L623 444.5 L625.7 445.8 L628.3 447.1 L630.8 448.6 L633.3 450.1 L635.6 451.8 L637.9 453.6 L640.1 455.6 L642.2 457.6 L644.2 459.8 L646.2 462 L648 464.4 L649.7 466.8 L651.3 469.4 L652.8 472 L654.2 474.7 L655.5 477.5 L656.6 480.4 L657.7 483.3 L658.6 486.3 L659.4 489.4 L660.1 492.5 L660.7 495.7 L661.1 498.9 L661.4 502.2 L661.6 505.5 L661.7 508.9 L661.6 512.2 L661.5 515.6 L661.2 519.1 L660.7 522.5 L660.2 525.9 L659.5 529.4 L658.7 532.8 L657.8 536.2 L656.8 539.6 L655.6 543 L654.4 546.4 L653 549.7 L651.5 553 L649.9 556.3 L648.2 559.5 L646.4 562.6 L644.5 565.8 L642.5 568.8 L640.4 571.8 L638.2 574.7 L635.9 577.5 L633.6 580.3 L631.1 583 L628.6 585.6 L626 588.1 L623.3 590.5 L620.6 592.8 L617.8 595 L615 597.1 L612.1 599.1 L609.1 601 L606.1 602.8 L603.1 604.5 L600 606 L596.9 607.4 L593.8 608.7 L590.7 609.9 L587.5 610.9 L584.4 611.8 L581.2 612.6 L578 613.2 L574.9 613.8 L571.7 614.1 L568.6 614.4 L565.5 614.5 L562.4 614.5 L559.3 614.3 L556.2 614 L553.2 613.6 L550.3 613 L547.4 612.3 L544.5 611.5 L541.7 610.5 L539 609.5 L536.3 608.2 L533.7 606.9 L531.2 605.5 L528.7 603.9 L526.4 602.2 L524.1 600.4 L485.5 568.2 L483.1 566.1 L480.7 564 L478.4 561.7 L476.2 559.3 L474.1 556.9 L472.1 554.4 L470.3 551.7 L468.5 549 L466.8 546.3 L465.2 543.4 L463.8 540.5 L462.4 537.6 L461.2 534.5 L460.1 531.5 L459.1 528.4 L458.3 525.2 L457.6 522 L457 518.8 L456.5 515.5 L456.1 512.2 L455.9 508.9Z" fill="#fff" stroke="#000" stroke-width="1.6" stroke-linejoin="round" stroke-linecap="round"/>
<path d="M471 443.3 L456.7 464.3 L511.8 491.8 L523.6 468.2Z" fill="#fff" stroke="#000" stroke-width="1.5" stroke-linejoin="round" stroke-linecap="round"/>
<ellipse cx="581" cy="527" rx="74.4" ry="92.9" fill="#fff" stroke="#000" stroke-width="1.8" transform="rotate(34.2 581 527)"/>
<path d="M507.6 569.4 L506.3 565.1 L505.3 560.7 L504.6 556.3 L504.1 552 L503.8 547.7 L503.8 543.4 L504 539.2 L504.3 535.1 L504.9 531 L505.6 527 L506.4 523.1 L507.4 519.3 L508.5 515.5 L509.8 511.9 L511.2 508.3 L512.6 504.8 L514.2 501.4 L515.9 498 L517.7 494.7 L519.6 491.5 L521.6 488.4 L523.7 485.4 L525.9 482.4 L528.2 479.4 L530.6 476.6 L533.1 473.8 L535.7 471.1 L538.4 468.4 L541.3 465.9 L544.3 463.4 L547.4 461 L550.6 458.7 L553.9 456.5 L557.4 454.4 L561 452.4 L564.8 450.6 L568.6 448.9 L572.6 447.4 L576.8 446.1 L581 444.9 L585.3 444.1 L589.8 443.4 L594.3 443.1 L598.9 443 L603.4 443.3 L608 443.8 L612.6 444.8 L617 446.1 L621.4 447.7 L625.6 449.7" fill="none" stroke="#000" stroke-width="1.4" stroke-linecap="round"/>
<ellipse cx="581" cy="527" rx="59.2" ry="77.9" fill="none" stroke="#000" stroke-width="1.7" transform="rotate(34.2 581 527)"/>
<path d="M601.8 584.3 L599 586 L596.1 587.8 L593 589.4 L589.9 590.9 L586.6 592.2 L583.2 593.4 L579.6 594.5 L576 595.3 L572.3 596 L568.5 596.4 L564.6 596.5 L560.7 596.4 L556.9 595.9 L553 595.1 L549.2 594 L545.6 592.6 L542 590.8 L538.7 588.7 L535.5 586.4 L532.6 583.7 L530 580.8 L527.6 577.6 L525.5 574.3 L523.7 570.9 L522.2 567.3 L520.9 563.7 L520 560 L519.2 556.3 L518.7 552.6 L518.4 548.9 L518.3 545.3 L518.4 541.8 L518.6 538.3 L519 534.8 L519.5 531.5 L520.2 528.2 L521 525 L521.8 521.9 L522.8 518.9 L523.8 516 L525 513.1 L526.2 510.3 L527.5 507.5" fill="none" stroke="#000" stroke-width="1.3" stroke-linecap="round"/>
<ellipse cx="460" cy="452" rx="4" ry="6" fill="#fff" stroke="#000" stroke-width="1.4" transform="rotate(20 460 452)"/>
<ellipse cx="488" cy="436" rx="4.5" ry="4" fill="#fff" stroke="#000" stroke-width="1.4"/>
<ellipse cx="452" cy="514" rx="3.5" ry="5.5" fill="#fff" stroke="#000" stroke-width="1.4"/>
<line x1="525" y1="579.2" x2="528.3" y2="576.1" stroke="#000" stroke-width="1.4" stroke-linecap="round"/>
<line x1="519.8" y1="569.4" x2="523.5" y2="566.9" stroke="#000" stroke-width="1.4" stroke-linecap="round"/>
<line x1="516.7" y1="559" x2="520.7" y2="557" stroke="#000" stroke-width="1.4" stroke-linecap="round"/>
<line x1="515.4" y1="548.6" x2="519.7" y2="547.2" stroke="#000" stroke-width="1.4" stroke-linecap="round"/>
<line x1="515.6" y1="538.5" x2="520" y2="537.7" stroke="#000" stroke-width="1.4" stroke-linecap="round"/>
<line x1="517" y1="528.9" x2="521.5" y2="528.7" stroke="#000" stroke-width="1.4" stroke-linecap="round"/>
<line x1="519.3" y1="519.9" x2="523.8" y2="520.4" stroke="#000" stroke-width="1.4" stroke-linecap="round"/>
<line x1="522.4" y1="511.4" x2="526.7" y2="512.6" stroke="#000" stroke-width="1.4" stroke-linecap="round"/>
<line x1="526.1" y1="503.5" x2="530.2" y2="505.3" stroke="#000" stroke-width="1.4" stroke-linecap="round"/>
<line x1="530.4" y1="496.1" x2="534.3" y2="498.5" stroke="#000" stroke-width="1.4" stroke-linecap="round"/>
<line x1="535.3" y1="489.1" x2="538.8" y2="492" stroke="#000" stroke-width="1.4" stroke-linecap="round"/>
<line x1="540.8" y1="482.5" x2="543.8" y2="485.8" stroke="#000" stroke-width="1.4" stroke-linecap="round"/>
<line x1="547" y1="476.3" x2="549.5" y2="480" stroke="#000" stroke-width="1.4" stroke-linecap="round"/>
<line x1="554" y1="470.4" x2="555.9" y2="474.5" stroke="#000" stroke-width="1.4" stroke-linecap="round"/>
<line x1="561.8" y1="465.2" x2="563.1" y2="469.5" stroke="#000" stroke-width="1.4" stroke-linecap="round"/>
<line x1="570.5" y1="460.6" x2="571.2" y2="465" stroke="#000" stroke-width="1.4" stroke-linecap="round"/>
<line x1="580.1" y1="457" x2="580.2" y2="461.5" stroke="#000" stroke-width="1.4" stroke-linecap="round"/>
<line x1="590.5" y1="454.9" x2="589.9" y2="459.4" stroke="#000" stroke-width="1.4" stroke-linecap="round"/>
<line x1="601.5" y1="454.7" x2="600.2" y2="459" stroke="#000" stroke-width="1.4" stroke-linecap="round"/>
<line x1="612.4" y1="456.7" x2="610.6" y2="460.8" stroke="#000" stroke-width="1.4" stroke-linecap="round"/>
<line x1="622.6" y1="461.2" x2="620.2" y2="465" stroke="#000" stroke-width="1.4" stroke-linecap="round"/>
<line x1="631.5" y1="468.1" x2="628.5" y2="471.6" stroke="#000" stroke-width="1.4" stroke-linecap="round"/>
<line x1="638.3" y1="476.9" x2="634.9" y2="479.9" stroke="#000" stroke-width="1.4" stroke-linecap="round"/>
<line x1="643.1" y1="486.9" x2="639.3" y2="489.3" stroke="#000" stroke-width="1.4" stroke-linecap="round"/>
<line x1="645.8" y1="497.3" x2="641.7" y2="499.2" stroke="#000" stroke-width="1.4" stroke-linecap="round"/>
<line x1="646.7" y1="507.7" x2="642.4" y2="509" stroke="#000" stroke-width="1.4" stroke-linecap="round"/>
<line x1="646.2" y1="517.8" x2="641.7" y2="518.4" stroke="#000" stroke-width="1.4" stroke-linecap="round"/>
<line x1="644.6" y1="527.2" x2="640.1" y2="527.2" stroke="#000" stroke-width="1.4" stroke-linecap="round"/>
<line x1="642.1" y1="536.1" x2="637.6" y2="535.4" stroke="#000" stroke-width="1.4" stroke-linecap="round"/>
<line x1="638.8" y1="544.4" x2="634.5" y2="543.1" stroke="#000" stroke-width="1.4" stroke-linecap="round"/>
<line x1="635" y1="552.2" x2="630.9" y2="550.3" stroke="#000" stroke-width="1.4" stroke-linecap="round"/>
<text x="530.2" y="562.3" font-size="13.5" text-anchor="middle" font-weight="bold">1</text>
<text x="530.2" y="534.8" font-size="13.5" text-anchor="middle" font-weight="bold">2</text>
<text x="543.3" y="499.4" font-size="13.5" text-anchor="middle" font-weight="bold">3</text>
<text x="581.4" y="475.7" font-size="13.5" text-anchor="middle" font-weight="bold">4</text>
<text x="615.5" y="475.7" font-size="13.5" text-anchor="middle" font-weight="bold">5</text>
<text x="630" y="512.5" font-size="13.5" text-anchor="middle" font-weight="bold">6</text>
<text x="622" y="555.8" font-size="13.5" text-anchor="middle" font-weight="bold">7</text>
<path d="M558.8 472.2 L569.8 469.2 L569.8 475.2Z" fill="none" stroke="#000" stroke-width="1.3" stroke-linejoin="round" stroke-linecap="round"/>
<path d="M593 465.3 L603.3 460.4 L604.3 466.3Z" fill="none" stroke="#000" stroke-width="1.3" stroke-linejoin="round" stroke-linecap="round"/>
<path d="M576.7 526.3 L536.8 565.3 L580.7 530.9Z" fill="#fff" stroke="#000" stroke-width="1.3" stroke-linejoin="round" stroke-linecap="round"/>
<ellipse cx="578.7" cy="528.6" rx="9.5" ry="12" fill="#fff" stroke="#000" stroke-width="1.8" transform="rotate(20 578.7 528.6)"/>
<ellipse cx="591.9" cy="519.4" rx="3.5" ry="4" fill="#fff" stroke="#000" stroke-width="1.5"/>
<text x="560.4" y="538.1" font-size="12" text-anchor="middle" font-weight="normal">c</text>
<text x="599.7" y="528.9" font-size="12" text-anchor="middle" font-weight="normal">c</text>
<text x="580" y="572.2" font-size="6" text-anchor="middle" font-weight="bold">UPM</text>
<text x="580" y="578.7" font-size="6" text-anchor="middle" font-weight="bold">x100</text>
<text x="580" y="585.5" font-size="7" text-anchor="middle" font-weight="bold">RPM</text>
<ellipse cx="580" cy="591" rx="3" ry="3.3" fill="none" stroke="#000" stroke-width="1.4"/>
<text x="580" y="601" font-size="5.5" text-anchor="middle" font-weight="bold">VDO</text>
<path d="M782.3 279 L782.3 314.5 Q783 327 795.6 332 L891.8 384 M788.5 282.5 L788.5 305.6 Q789 318 801 323.4 L893.5 376.8" fill="none" stroke="#000" stroke-width="1.5" stroke-linejoin="round" stroke-linecap="round"/>
<path d="M734.1 205.9 L734.1 203 L734.3 200.1 L734.5 197.2 L734.9 194.3 L735.4 191.4 L736 188.5 L736.7 185.7 L737.5 182.9 L738.4 180.2 L739.4 177.4 L740.6 174.8 L741.8 172.1 L743.2 169.5 L744.6 167 L746.1 164.5 L747.8 162.1 L749.5 159.8 L751.3 157.5 L753.2 155.3 L755.2 153.2 L757.3 151.1 L759.5 149.2 L761.7 147.3 L764 145.5 L766.4 143.8 L768.8 142.2 L771.3 140.7 L773.9 139.3 L776.5 138 L779.1 136.8 L781.8 135.7 L784.6 134.8 L787.3 133.9 L790.1 133.1 L793 132.4 L795.8 131.9 L798.7 131.5 L801.6 131.2 L804.5 130.9 L807.4 130.9 L810.4 130.9 L813.3 131 L816.2 131.3 L819 131.6 L821.9 132.1 L824.8 132.7 L827.6 133.4 L830.4 134.2 L893 153.9 L895.5 154.8 L898 155.8 L900.5 156.9 L902.8 158.1 L905.1 159.5 L907.4 160.9 L909.5 162.4 L911.6 164.1 L913.6 165.8 L915.5 167.7 L917.3 169.6 L919 171.7 L920.7 173.8 L922.2 176 L923.6 178.2 L925 180.6 L926.2 183 L927.3 185.6 L928.3 188.1 L929.2 190.8 L930 193.4 L930.7 196.2 L931.2 199 L931.7 201.8 L932 204.7 L932.3 207.7 L932.4 210.6 L932.4 213.6 L932.3 216.6 L932 219.6 L931.7 222.7 L931.2 225.7 L930.6 228.8 L930 231.8 L929.1 234.9 L928.2 237.9 L927.2 240.9 L926.1 243.9 L924.9 246.9 L923.5 249.9 L922.1 252.8 L920.5 255.7 L918.9 258.5 L917.2 261.3 L915.4 264.1 L913.4 266.8 L911.5 269.4 L909.4 272 L907.2 274.5 L905 276.9 L902.7 279.3 L900.3 281.6 L897.8 283.8 L895.3 285.9 L892.8 287.9 L890.1 289.9 L887.5 291.7 L884.8 293.5 L882 295.1 L879.2 296.7 L876.4 298.1 L873.5 299.4 L870.6 300.7 L867.7 301.8 L864.8 302.8 L861.9 303.7 L859 304.4 L856 305.1 L853.1 305.6 L850.2 306.1 L847.2 306.4 L844.4 306.5 L841.5 306.6 L838.6 306.5 L835.8 306.4 L833 306.1 L830.2 305.6 L827.5 305.1 L824.9 304.5 L822.2 303.7 L819.7 302.8 L817.2 301.8 L814.7 300.7 L812.4 299.5 L810.1 298.1 L807.8 296.7 L805.7 295.1 L765.4 265.5 L763 263.8 L760.8 262 L758.6 260.1 L756.4 258.1 L754.4 256 L752.4 253.8 L750.6 251.6 L748.8 249.3 L747.1 246.9 L745.5 244.5 L744 242 L742.6 239.5 L741.3 236.8 L740.1 234.2 L739 231.5 L738 228.8 L737.1 226 L736.4 223.2 L735.7 220.3 L735.2 217.5 L734.7 214.6 L734.4 211.7 L734.2 208.8Z" fill="#fff" stroke="#000" stroke-width="1.6" stroke-linejoin="round" stroke-linecap="round"/>
<path d="M740.6 138.6 L726.2 163.3 L790.1 199.4 L810.7 174.6Z" fill="#fff" stroke="#000" stroke-width="1.5" stroke-linejoin="round" stroke-linecap="round"/>
<ellipse cx="857.6" cy="228.8" rx="67.4" ry="84.3" fill="#fff" stroke="#000" stroke-width="1.8" transform="rotate(39.8 857.6 228.8)"/>
<path d="M790 267.8 L788.8 263.9 L787.8 259.9 L787 255.9 L786.6 251.9 L786.3 247.9 L786.3 244 L786.5 240.1 L786.9 236.2 L787.4 232.5 L788.2 228.8 L789 225.2 L790 221.7 L791.1 218.3 L792.4 214.9 L793.7 211.7 L795.2 208.5 L796.8 205.4 L798.4 202.4 L800.1 199.5 L802 196.7 L803.9 193.9 L805.9 191.2 L807.9 188.6 L810.1 186 L812.4 183.6 L814.7 181.1 L817.1 178.8 L819.6 176.5 L822.2 174.3 L824.9 172.2 L827.7 170.1 L830.6 168.2 L833.6 166.3 L836.7 164.5 L839.9 162.9 L843.3 161.3 L846.7 159.9 L850.2 158.6 L853.9 157.4 L857.6 156.4 L861.4 155.6 L865.4 155 L869.3 154.6 L873.4 154.5 L877.5 154.6 L881.6 155 L885.7 155.7 L889.7 156.6 L893.7 157.9 L897.6 159.5" fill="none" stroke="#000" stroke-width="1.4" stroke-linecap="round"/>
<ellipse cx="855.6" cy="228.8" rx="56.3" ry="73.2" fill="none" stroke="#000" stroke-width="1.5" transform="rotate(39.8 855.6 228.8)"/>
<ellipse cx="858.6" cy="230.3" rx="50.3" ry="67.2" fill="none" stroke="#000" stroke-width="1.7" transform="rotate(39.8 858.6 230.3)"/>
<path d="M875.8 277.5 L873.4 278.9 L871 280.3 L868.5 281.6 L865.9 282.8 L863.2 284 L860.4 285 L857.5 285.9 L854.5 286.7 L851.4 287.3 L848.2 287.8 L845 288 L841.7 288.1 L838.4 287.9 L835.1 287.5 L831.8 286.8 L828.6 285.8 L825.5 284.6 L822.5 283 L819.6 281.2 L817 279.1 L814.5 276.8 L812.3 274.2 L810.4 271.4 L808.7 268.5 L807.3 265.5 L806.1 262.3 L805.2 259.1 L804.5 255.9 L804.1 252.7 L803.8 249.5 L803.8 246.3 L803.9 243.2 L804.2 240.1 L804.7 237.1 L805.2 234.2 L805.9 231.4 L806.7 228.6 L807.6 225.9 L808.5 223.3 L809.5 220.8 L810.6 218.4 L811.8 216 L813 213.7" fill="none" stroke="#000" stroke-width="1.3" stroke-linecap="round"/>
<ellipse cx="731" cy="151" rx="4" ry="6" fill="#fff" stroke="#000" stroke-width="1.4"/>
<ellipse cx="733" cy="208" rx="4" ry="6" fill="#fff" stroke="#000" stroke-width="1.4"/>
<ellipse cx="731" cy="233" rx="4.5" ry="5.5" fill="#fff" stroke="#000" stroke-width="1.4"/>
<line x1="805" y1="267.8" x2="809.1" y2="265" stroke="#000" stroke-width="1.4" stroke-linecap="round"/>
<line x1="801.7" y1="257.1" x2="806.2" y2="254.9" stroke="#000" stroke-width="1.4" stroke-linecap="round"/>
<line x1="800.8" y1="246.2" x2="805.6" y2="244.9" stroke="#000" stroke-width="1.4" stroke-linecap="round"/>
<line x1="801.8" y1="235.8" x2="806.8" y2="235.4" stroke="#000" stroke-width="1.4" stroke-linecap="round"/>
<line x1="804.3" y1="226.3" x2="809.3" y2="226.6" stroke="#000" stroke-width="1.4" stroke-linecap="round"/>
<line x1="807.7" y1="217.6" x2="812.5" y2="218.8" stroke="#000" stroke-width="1.4" stroke-linecap="round"/>
<line x1="811.9" y1="209.6" x2="816.4" y2="211.7" stroke="#000" stroke-width="1.4" stroke-linecap="round"/>
<line x1="816.7" y1="202.4" x2="820.8" y2="205.2" stroke="#000" stroke-width="1.4" stroke-linecap="round"/>
<line x1="822.1" y1="195.7" x2="825.7" y2="199.1" stroke="#000" stroke-width="1.4" stroke-linecap="round"/>
<line x1="828.2" y1="189.5" x2="831.2" y2="193.5" stroke="#000" stroke-width="1.4" stroke-linecap="round"/>
<line x1="835" y1="183.9" x2="837.3" y2="188.3" stroke="#000" stroke-width="1.4" stroke-linecap="round"/>
<line x1="842.7" y1="178.8" x2="844.2" y2="183.6" stroke="#000" stroke-width="1.4" stroke-linecap="round"/>
<line x1="851.4" y1="174.4" x2="852.1" y2="179.4" stroke="#000" stroke-width="1.4" stroke-linecap="round"/>
<line x1="861.2" y1="171.2" x2="861" y2="176.2" stroke="#000" stroke-width="1.4" stroke-linecap="round"/>
<line x1="871.8" y1="169.6" x2="870.8" y2="174.5" stroke="#000" stroke-width="1.4" stroke-linecap="round"/>
<line x1="883" y1="170.2" x2="881.1" y2="174.9" stroke="#000" stroke-width="1.4" stroke-linecap="round"/>
<line x1="893.9" y1="173.7" x2="891.2" y2="178" stroke="#000" stroke-width="1.4" stroke-linecap="round"/>
<line x1="903.3" y1="180.2" x2="900" y2="183.9" stroke="#000" stroke-width="1.4" stroke-linecap="round"/>
<line x1="910.4" y1="189.2" x2="906.5" y2="192.3" stroke="#000" stroke-width="1.4" stroke-linecap="round"/>
<line x1="914.7" y1="199.7" x2="910.3" y2="202.1" stroke="#000" stroke-width="1.4" stroke-linecap="round"/>
<line x1="916.3" y1="210.6" x2="911.6" y2="212.2" stroke="#000" stroke-width="1.4" stroke-linecap="round"/>
<line x1="915.9" y1="221.2" x2="911" y2="222" stroke="#000" stroke-width="1.4" stroke-linecap="round"/>
<line x1="913.9" y1="231" x2="908.9" y2="231" stroke="#000" stroke-width="1.4" stroke-linecap="round"/>
<line x1="910.8" y1="240.1" x2="905.9" y2="239.1" stroke="#000" stroke-width="1.4" stroke-linecap="round"/>
<line x1="906.9" y1="248.2" x2="902.2" y2="246.5" stroke="#000" stroke-width="1.4" stroke-linecap="round"/>
<line x1="902.3" y1="255.7" x2="898" y2="253.2" stroke="#000" stroke-width="1.4" stroke-linecap="round"/>
<line x1="897.1" y1="262.6" x2="893.3" y2="259.4" stroke="#000" stroke-width="1.4" stroke-linecap="round"/>
<text x="815.9" y="248.7" font-size="11" text-anchor="middle" font-weight="bold" transform="rotate(-8 815.9 244.7)">50</text>
<text x="830.3" y="205.4" font-size="11" text-anchor="middle" font-weight="bold" transform="rotate(-8 830.3 201.4)">100</text>
<text x="879.8" y="190" font-size="11" text-anchor="middle" font-weight="bold" transform="rotate(-8 879.8 186)">150</text>
<text x="899.4" y="220.9" font-size="11" text-anchor="middle" font-weight="bold" transform="rotate(-8 899.4 216.9)">200</text>
<text x="894.2" y="258" font-size="11" text-anchor="middle" font-weight="bold" transform="rotate(-8 894.2 254)">250</text>
<rect x="831.3" y="199.4" width="53.7" height="14.6" rx="0" fill="#fff" stroke="#000" stroke-width="1.5" transform="rotate(-8 858.1 206.7)"/>
<rect x="834.3" y="202.2" width="7.9" height="9" rx="2" fill="none" stroke="#000" stroke-width="1.7" transform="rotate(-8 858.1 206.7)"/>
<rect x="844.2" y="202.2" width="7.9" height="9" rx="2" fill="none" stroke="#000" stroke-width="1.7" transform="rotate(-8 858.1 206.7)"/>
<rect x="854.2" y="202.2" width="7.9" height="9" rx="2" fill="none" stroke="#000" stroke-width="1.7" transform="rotate(-8 858.1 206.7)"/>
<rect x="864.1" y="202.2" width="7.9" height="9" rx="2" fill="none" stroke="#000" stroke-width="1.7" transform="rotate(-8 858.1 206.7)"/>
<rect x="874.1" y="202.2" width="7.9" height="9" rx="2" fill="none" stroke="#000" stroke-width="1.7" transform="rotate(-8 858.1 206.7)"/>
<rect x="842.7" y="245.7" width="36.1" height="12.5" rx="0" fill="#fff" stroke="#000" stroke-width="1.5" transform="rotate(-8 860.8 251.9)"/>
<rect x="845.7" y="248.5" width="6" height="6.9" rx="2" fill="none" stroke="#000" stroke-width="1.7" transform="rotate(-8 860.8 251.9)"/>
<rect x="853.7" y="248.5" width="6" height="6.9" rx="2" fill="none" stroke="#000" stroke-width="1.7" transform="rotate(-8 860.8 251.9)"/>
<rect x="861.8" y="248.5" width="6" height="6.9" rx="2" fill="none" stroke="#000" stroke-width="1.7" transform="rotate(-8 860.8 251.9)"/>
<rect x="869.8" y="248.5" width="6" height="6.9" rx="2" fill="none" stroke="#000" stroke-width="1.7" transform="rotate(-8 860.8 251.9)"/>
<ellipse cx="865.4" cy="221" rx="4.5" ry="5" fill="#fff" stroke="#000" stroke-width="1.5"/>
<path d="M854.8 230.5 L820 276.7 L859.4 234.3Z" fill="#fff" stroke="#000" stroke-width="1.3" stroke-linejoin="round" stroke-linecap="round"/>
<ellipse cx="857.1" cy="232.4" rx="8.5" ry="9.5" fill="#fff" stroke="#000" stroke-width="1.8"/>
<text x="833.4" y="243.6" font-size="14" text-anchor="middle" font-weight="normal">e</text>
<text x="880.8" y="230.5" font-size="12" text-anchor="middle" font-weight="bold">ɵ</text>
<text x="861.2" y="276.8" font-size="9" text-anchor="middle" font-weight="normal">Km/h</text>
<text x="861.2" y="281.9" font-size="5" text-anchor="middle" font-weight="normal">ᵕᵜᵕ</text>
<ellipse cx="857.1" cy="289" rx="3.8" ry="4.2" fill="none" stroke="#000" stroke-width="1.5"/>
<line x1="838.7" y1="265.2" x2="876.8" y2="259.2" stroke="#000" stroke-width="1.4" stroke-linecap="round"/>
<path d="M778.7 533 L778.7 572 Q779.5 584 792.8 590 L886 637 M785.7 536 L785.7 563 Q786.5 575 797 580 L888 630" fill="none" stroke="#000" stroke-width="1.5" stroke-linejoin="round" stroke-linecap="round"/>
<path d="M732.3 463.5 L732.4 460.4 L732.5 457.3 L732.8 454.3 L733.2 451.2 L733.8 448.1 L734.4 445.1 L735.2 442.1 L736 439.1 L737 436.1 L738.1 433.2 L739.3 430.3 L740.6 427.5 L742.1 424.7 L743.6 421.9 L745.2 419.3 L746.9 416.6 L748.8 414.1 L750.7 411.6 L752.7 409.1 L754.7 406.8 L756.9 404.5 L759.2 402.4 L761.5 400.3 L763.9 398.3 L766.4 396.4 L768.9 394.5 L771.5 392.8 L774.2 391.2 L776.9 389.7 L779.6 388.3 L782.4 387 L785.3 385.8 L788.2 384.7 L791.1 383.8 L794 382.9 L797 382.2 L800 381.6 L803 381.1 L806 380.7 L809 380.4 L812 380.3 L815 380.3 L818 380.4 L821 380.6 L824 381 L826.9 381.4 L829.8 382 L832.7 382.7 L835.5 383.5 L838.3 384.5 L841.1 385.5 L843.8 386.7 L895.8 410.6 L898.2 411.8 L900.5 413.1 L902.8 414.5 L905 416 L907.1 417.7 L909.1 419.4 L911.1 421.2 L912.9 423.2 L914.7 425.2 L916.4 427.4 L918 429.6 L919.5 431.9 L920.8 434.2 L922.1 436.7 L923.3 439.2 L924.4 441.8 L925.3 444.5 L926.2 447.2 L926.9 450 L927.5 452.9 L928.1 455.7 L928.5 458.7 L928.8 461.6 L928.9 464.6 L929 467.7 L929 470.8 L928.8 473.8 L928.5 476.9 L928.1 480.1 L927.6 483.2 L927 486.3 L926.2 489.4 L925.4 492.5 L924.4 495.6 L923.4 498.7 L922.2 501.8 L920.9 504.8 L919.5 507.8 L918.1 510.8 L916.5 513.7 L914.8 516.6 L913.1 519.4 L911.2 522.2 L909.3 524.9 L907.2 527.5 L905.1 530.1 L903 532.7 L900.7 535.1 L898.4 537.5 L896 539.8 L893.5 542 L891 544.1 L888.4 546.1 L885.8 548 L883.1 549.9 L880.4 551.6 L877.6 553.2 L874.8 554.7 L872 556.1 L869.1 557.4 L866.3 558.6 L863.4 559.7 L860.5 560.6 L857.5 561.5 L854.6 562.2 L851.7 562.8 L848.8 563.3 L845.9 563.6 L843 563.9 L840.1 564 L837.2 564 L834.4 563.9 L831.6 563.6 L828.8 563.2 L826.1 562.7 L823.4 562.1 L820.8 561.4 L818.2 560.5 L815.7 559.5 L813.2 558.5 L810.8 557.2 L808.5 555.9 L806.2 554.5 L804 553 L761.5 522.9 L759.2 521.1 L756.9 519.2 L754.8 517.2 L752.7 515.1 L750.7 513 L748.8 510.7 L747 508.4 L745.2 506 L743.6 503.5 L742.1 501 L740.7 498.4 L739.3 495.7 L738.1 493 L737 490.2 L736 487.4 L735.2 484.5 L734.4 481.6 L733.8 478.6 L733.2 475.6 L732.8 472.6 L732.5 469.6 L732.4 466.5Z" fill="#fff" stroke="#000" stroke-width="1.6" stroke-linejoin="round" stroke-linecap="round"/>
<path d="M739.4 391 L726.7 415 L790 451.5 L804 426.2Z" fill="#fff" stroke="#000" stroke-width="1.5" stroke-linejoin="round" stroke-linecap="round"/>
<ellipse cx="854.5" cy="484.5" rx="68.1" ry="85.1" fill="#fff" stroke="#000" stroke-width="1.8" transform="rotate(36.4 854.5 484.5)"/>
<path d="M787 523.5 L785.8 519.5 L784.9 515.5 L784.2 511.5 L783.8 507.5 L783.5 503.5 L783.5 499.6 L783.7 495.7 L784 491.9 L784.6 488.2 L785.2 484.5 L786.1 480.9 L787 477.4 L788.1 474 L789.3 470.6 L790.6 467.4 L791.9 464.2 L793.4 461.1 L795 458 L796.7 455.1 L798.5 452.2 L800.3 449.3 L802.3 446.6 L804.3 443.9 L806.5 441.2 L808.7 438.7 L811 436.2 L813.4 433.7 L815.9 431.4 L818.5 429.1 L821.2 426.9 L824 424.7 L827 422.7 L830 420.7 L833.2 418.8 L836.4 417.1 L839.8 415.4 L843.3 413.9 L846.9 412.6 L850.7 411.4 L854.5 410.4 L858.4 409.6 L862.4 409 L866.5 408.6 L870.7 408.5 L874.8 408.7 L879 409.1 L883.1 409.9 L887.2 411 L891.2 412.4 L895.1 414.1" fill="none" stroke="#000" stroke-width="1.4" stroke-linecap="round"/>
<ellipse cx="852.5" cy="484.5" rx="57" ry="74" fill="none" stroke="#000" stroke-width="1.5" transform="rotate(36.4 852.5 484.5)"/>
<ellipse cx="855.5" cy="486.5" rx="50.9" ry="68" fill="none" stroke="#000" stroke-width="1.7" transform="rotate(36.4 855.5 486.5)"/>
<path d="M873.2 535 L870.8 536.5 L868.3 538 L865.7 539.4 L863 540.7 L860.2 541.9 L857.3 542.9 L854.3 543.9 L851.2 544.7 L848.1 545.3 L844.8 545.8 L841.5 546 L838.1 546 L834.8 545.7 L831.4 545.1 L828.1 544.3 L824.9 543.2 L821.8 541.8 L818.8 540.1 L816 538.1 L813.4 535.8 L811.1 533.3 L809 530.6 L807.1 527.8 L805.5 524.8 L804.2 521.7 L803.1 518.5 L802.3 515.2 L801.7 512 L801.2 508.8 L801 505.6 L801 502.4 L801.1 499.3 L801.4 496.3 L801.8 493.3 L802.3 490.4 L803 487.6 L803.7 484.8 L804.5 482.1 L805.4 479.5 L806.4 477 L807.4 474.6 L808.5 472.2 L809.7 469.8" fill="none" stroke="#000" stroke-width="1.3" stroke-linecap="round"/>
<ellipse cx="729" cy="405" rx="4" ry="6" fill="#fff" stroke="#000" stroke-width="1.4"/>
<ellipse cx="730" cy="458" rx="4" ry="6" fill="#fff" stroke="#000" stroke-width="1.4"/>
<ellipse cx="728" cy="487" rx="4.5" ry="5.5" fill="#fff" stroke="#000" stroke-width="1.4"/>
<line x1="801.9" y1="524" x2="806" y2="521.2" stroke="#000" stroke-width="1.4" stroke-linecap="round"/>
<line x1="798.9" y1="513.6" x2="803.4" y2="511.4" stroke="#000" stroke-width="1.4" stroke-linecap="round"/>
<line x1="798" y1="503.2" x2="802.8" y2="501.8" stroke="#000" stroke-width="1.4" stroke-linecap="round"/>
<line x1="798.8" y1="493.2" x2="803.8" y2="492.6" stroke="#000" stroke-width="1.4" stroke-linecap="round"/>
<line x1="800.8" y1="483.9" x2="805.8" y2="484.2" stroke="#000" stroke-width="1.4" stroke-linecap="round"/>
<line x1="803.8" y1="475.4" x2="808.7" y2="476.4" stroke="#000" stroke-width="1.4" stroke-linecap="round"/>
<line x1="807.5" y1="467.5" x2="812.1" y2="469.4" stroke="#000" stroke-width="1.4" stroke-linecap="round"/>
<line x1="811.8" y1="460.3" x2="816.1" y2="462.8" stroke="#000" stroke-width="1.4" stroke-linecap="round"/>
<line x1="816.7" y1="453.5" x2="820.5" y2="456.7" stroke="#000" stroke-width="1.4" stroke-linecap="round"/>
<line x1="822.3" y1="447.1" x2="825.5" y2="451" stroke="#000" stroke-width="1.4" stroke-linecap="round"/>
<line x1="828.6" y1="441.2" x2="831.1" y2="445.5" stroke="#000" stroke-width="1.4" stroke-linecap="round"/>
<line x1="835.7" y1="435.8" x2="837.5" y2="440.5" stroke="#000" stroke-width="1.4" stroke-linecap="round"/>
<line x1="843.8" y1="431" x2="844.8" y2="435.9" stroke="#000" stroke-width="1.4" stroke-linecap="round"/>
<line x1="852.9" y1="427.1" x2="853.1" y2="432.1" stroke="#000" stroke-width="1.4" stroke-linecap="round"/>
<line x1="863" y1="424.6" x2="862.4" y2="429.6" stroke="#000" stroke-width="1.4" stroke-linecap="round"/>
<line x1="873.8" y1="424.1" x2="872.4" y2="428.9" stroke="#000" stroke-width="1.4" stroke-linecap="round"/>
<line x1="884.7" y1="426.1" x2="882.5" y2="430.6" stroke="#000" stroke-width="1.4" stroke-linecap="round"/>
<line x1="894.7" y1="431" x2="891.8" y2="435" stroke="#000" stroke-width="1.4" stroke-linecap="round"/>
<line x1="902.9" y1="438.5" x2="899.4" y2="442" stroke="#000" stroke-width="1.4" stroke-linecap="round"/>
<line x1="908.6" y1="447.9" x2="904.6" y2="450.9" stroke="#000" stroke-width="1.4" stroke-linecap="round"/>
<line x1="911.9" y1="458.3" x2="907.4" y2="460.6" stroke="#000" stroke-width="1.4" stroke-linecap="round"/>
<line x1="913" y1="468.8" x2="908.2" y2="470.3" stroke="#000" stroke-width="1.4" stroke-linecap="round"/>
<line x1="912.4" y1="478.8" x2="907.4" y2="479.5" stroke="#000" stroke-width="1.4" stroke-linecap="round"/>
<line x1="910.4" y1="488.2" x2="905.4" y2="488" stroke="#000" stroke-width="1.4" stroke-linecap="round"/>
<line x1="907.6" y1="496.8" x2="902.7" y2="495.8" stroke="#000" stroke-width="1.4" stroke-linecap="round"/>
<line x1="904" y1="504.7" x2="899.3" y2="502.9" stroke="#000" stroke-width="1.4" stroke-linecap="round"/>
<line x1="899.7" y1="512" x2="895.4" y2="509.5" stroke="#000" stroke-width="1.4" stroke-linecap="round"/>
<text x="813.9" y="485" font-size="11" text-anchor="middle" font-weight="bold" transform="rotate(-8 813.9 481)">50</text>
<text x="850.4" y="441.5" font-size="11" text-anchor="middle" font-weight="bold" transform="rotate(-8 850.4 437.5)">100</text>
<text x="894" y="458.3" font-size="11" text-anchor="middle" font-weight="bold" transform="rotate(-8 894 454.3)">150</text>
<text x="888.4" y="510.4" font-size="11" text-anchor="middle" font-weight="bold" transform="rotate(-8 888.4 506.4)">200</text>
<rect x="829.3" y="456" width="52" height="15" rx="0" fill="#fff" stroke="#000" stroke-width="1.5" transform="rotate(-8 855.3 463.5)"/>
<rect x="832.3" y="458.8" width="7.6" height="9.4" rx="2" fill="none" stroke="#000" stroke-width="1.7" transform="rotate(-8 855.3 463.5)"/>
<rect x="841.9" y="458.8" width="7.6" height="9.4" rx="2" fill="none" stroke="#000" stroke-width="1.7" transform="rotate(-8 855.3 463.5)"/>
<rect x="851.5" y="458.8" width="7.6" height="9.4" rx="2" fill="none" stroke="#000" stroke-width="1.7" transform="rotate(-8 855.3 463.5)"/>
<rect x="861.1" y="458.8" width="7.6" height="9.4" rx="2" fill="none" stroke="#000" stroke-width="1.7" transform="rotate(-8 855.3 463.5)"/>
<rect x="870.7" y="458.8" width="7.6" height="9.4" rx="2" fill="none" stroke="#000" stroke-width="1.7" transform="rotate(-8 855.3 463.5)"/>
<rect x="840.6" y="497.5" width="35.1" height="12.1" rx="0" fill="#fff" stroke="#000" stroke-width="1.5" transform="rotate(-8 858.2 503.6)"/>
<rect x="843.6" y="500.3" width="5.8" height="6.5" rx="2" fill="none" stroke="#000" stroke-width="1.7" transform="rotate(-8 858.2 503.6)"/>
<rect x="851.4" y="500.3" width="5.8" height="6.5" rx="2" fill="none" stroke="#000" stroke-width="1.7" transform="rotate(-8 858.2 503.6)"/>
<rect x="859.2" y="500.3" width="5.8" height="6.5" rx="2" fill="none" stroke="#000" stroke-width="1.7" transform="rotate(-8 858.2 503.6)"/>
<rect x="866.9" y="500.3" width="5.8" height="6.5" rx="2" fill="none" stroke="#000" stroke-width="1.7" transform="rotate(-8 858.2 503.6)"/>
<ellipse cx="864.5" cy="474" rx="4.5" ry="5" fill="#fff" stroke="#000" stroke-width="1.5"/>
<path d="M853.7 481.9 L815.3 530.2 L858.3 485.9Z" fill="#fff" stroke="#000" stroke-width="1.3" stroke-linejoin="round" stroke-linecap="round"/>
<ellipse cx="856" cy="483.9" rx="8.5" ry="9.5" fill="#fff" stroke="#000" stroke-width="1.8"/>
<text x="830.7" y="495.9" font-size="14" text-anchor="middle" font-weight="normal">e</text>
<text x="877" y="482.5" font-size="12" text-anchor="middle" font-weight="bold">ɵ</text>
<text x="854.6" y="530.6" font-size="9" text-anchor="middle" font-weight="normal">Km/h</text>
<text x="854.6" y="535.7" font-size="5" text-anchor="middle" font-weight="normal">ᵕᵜᵕ</text>
<ellipse cx="853.2" cy="541.5" rx="3.8" ry="4.2" fill="none" stroke="#000" stroke-width="1.5"/>
<line x1="836.6" y1="516.6" x2="873.7" y2="510.6" stroke="#000" stroke-width="1.4" stroke-linecap="round"/>
<path d="M205.9 378.2 L206 375.3 L206.2 372.4 L206.4 369.5 L206.8 366.5 L207.2 363.6 L207.8 360.6 L208.4 357.7 L209.2 354.7 L210 351.8 L211 348.8 L212 345.9 L213.1 343 L214.3 340.1 L215.6 337.3 L217 334.5 L218.5 331.7 L220 329 L221.7 326.3 L223.3 323.7 L225.1 321.2 L227 318.7 L228.9 316.2 L230.8 313.9 L232.9 311.6 L235 309.4 L237.1 307.2 L239.3 305.1 L241.6 303.2 L243.9 301.3 L246.2 299.5 L248.6 297.8 L251 296.2 L253.4 294.7 L255.9 293.3 L258.4 292 L260.9 290.8 L263.4 289.7 L265.9 288.7 L268.5 287.9 L271 287.1 L273.6 286.5 L276.1 285.9 L278.7 285.5 L281.2 285.2 L283.7 285 L286.2 285 L288.6 285 L291.1 285.2 L293.5 285.5 L295.8 285.9 L298.1 286.4 L300.4 287 L302.7 287.8 L304.9 288.6 L307 289.6 L309.1 290.6 L348.7 312.8 L350.8 314 L352.8 315.3 L354.7 316.7 L356.6 318.2 L358.4 319.8 L360.1 321.5 L361.8 323.3 L363.4 325.1 L364.9 327.1 L366.3 329.1 L367.6 331.2 L368.9 333.3 L370 335.6 L371.1 337.9 L372.1 340.3 L373 342.7 L373.8 345.2 L374.5 347.7 L375.1 350.3 L375.6 352.9 L376 355.6 L376.3 358.3 L376.6 361.1 L376.7 363.9 L376.7 366.7 L376.6 369.5 L376.4 372.3 L376.1 375.1 L375.8 378 L375.3 380.9 L374.7 383.7 L374.1 386.5 L373.3 389.4 L372.4 392.2 L371.5 395 L370.4 397.8 L369.3 400.5 L368.1 403.2 L366.8 405.9 L365.4 408.5 L363.9 411.1 L362.3 413.6 L360.7 416.1 L359 418.6 L357.2 420.9 L355.4 423.2 L353.5 425.4 L351.5 427.6 L349.4 429.7 L347.4 431.7 L345.2 433.6 L343 435.5 L340.8 437.3 L338.5 438.9 L336.1 440.5 L333.8 442 L331.4 443.4 L328.9 444.7 L326.5 445.9 L324 446.9 L321.5 447.9 L319 448.8 L316.4 449.6 L313.9 450.2 L311.4 450.8 L308.9 451.2 L306.3 451.6 L303.8 451.8 L301.3 451.9 L298.8 451.9 L296.4 451.8 L293.9 451.5 L291.5 451.2 L289.1 450.8 L286.8 450.2 L284.5 449.5 L282.2 448.7 L238.8 433.1 L236.6 432.3 L234.5 431.3 L232.4 430.2 L230.4 429 L228.4 427.8 L226.5 426.4 L224.7 424.9 L222.9 423.3 L221.3 421.6 L219.7 419.8 L218.1 417.9 L216.7 416 L215.3 413.9 L214.1 411.8 L212.9 409.6 L211.8 407.3 L210.8 404.9 L209.8 402.5 L209 400 L208.3 397.5 L207.7 394.9 L207.1 392.2 L206.7 389.5 L206.3 386.7 L206.1 383.9 L206 381.1Z" fill="#fff" stroke="#000" stroke-width="1.6" stroke-linejoin="round" stroke-linecap="round"/>
<ellipse cx="312.2" cy="379.3" rx="60.7" ry="75.8" fill="#fff" stroke="#000" stroke-width="1.8" transform="rotate(28.8 312.2 379.3)"/>
<path d="M254.1 412.9 L253.1 409.4 L252.4 405.9 L251.8 402.5 L251.5 399 L251.3 395.6 L251.2 392.3 L251.3 388.9 L251.5 385.7 L251.9 382.5 L252.4 379.3 L253 376.2 L253.7 373.2 L254.5 370.2 L255.4 367.2 L256.4 364.3 L257.5 361.5 L258.7 358.7 L259.9 356 L261.3 353.4 L262.7 350.7 L264.2 348.1 L265.8 345.6 L267.5 343.1 L269.3 340.7 L271.2 338.3 L273.2 335.9 L275.2 333.6 L277.4 331.4 L279.7 329.2 L282.1 327.1 L284.6 325.1 L287.2 323.1 L289.9 321.2 L292.7 319.4 L295.7 317.7 L298.8 316.2 L302 314.8 L305.3 313.5 L308.7 312.4 L312.2 311.5 L315.8 310.9 L319.4 310.4 L323.1 310.2 L326.9 310.3 L330.6 310.6 L334.3 311.2 L338 312.2 L341.6 313.4 L345 314.9 L348.4 316.7" fill="none" stroke="#000" stroke-width="1.4" stroke-linecap="round"/>
<ellipse cx="312.2" cy="379.3" rx="52.1" ry="67.3" fill="none" stroke="#000" stroke-width="1.7" transform="rotate(28.8 312.2 379.3)"/>
<path d="M330.8 430.3 L328.3 431.9 L325.6 433.4 L322.9 434.8 L320.1 436.1 L317.2 437.3 L314.1 438.3 L311 439.1 L307.8 439.8 L304.5 440.2 L301.2 440.4 L297.8 440.3 L294.5 440 L291.2 439.4 L287.9 438.5 L284.7 437.3 L281.7 435.9 L278.7 434.1 L276 432.1 L273.4 429.9 L271.1 427.5 L268.9 424.9 L267 422.1 L265.4 419.3 L263.9 416.3 L262.6 413.3 L261.6 410.2 L260.8 407.1 L260.1 404 L259.7 400.9 L259.4 397.8 L259.2 394.8 L259.2 391.8 L259.3 388.8 L259.6 386 L259.9 383.1 L260.4 380.4 L260.9 377.6 L261.5 375 L262.2 372.4 L263 369.8 L263.9 367.3 L264.8 364.8 L265.8 362.4" fill="none" stroke="#000" stroke-width="1.3" stroke-linecap="round"/>
<ellipse cx="239.6" cy="285.3" rx="6" ry="2.8" fill="#fff" stroke="#000" stroke-width="1.5" transform="rotate(-12 239.6 285.3)"/>
<ellipse cx="251.7" cy="288.1" rx="9.5" ry="7.5" fill="#fff" stroke="#000" stroke-width="1.6" transform="rotate(-25 251.7 288.1)"/>
<path d="M248.2 292.9 L248 292.8 L247.8 292.6 L247.7 292.4 L247.5 292.2 L247.4 292 L247.3 291.8 L247.2 291.6 L247.1 291.4 L247 291.1 L247 290.9 L246.9 290.7 L246.9 290.4 L246.9 290.2 L246.9 289.9 L246.9 289.7 L247 289.4 L247 289.2 L247.1 288.9 L247.2 288.7 L247.3 288.4 L247.4 288.2 L247.5 287.9 L247.7 287.7 L247.9 287.4 L248 287.2 L248.2 287 L248.4 286.7 L248.6 286.5 L248.9 286.3 L249.1 286.1 L249.3 285.9 L249.6 285.7 L249.9 285.6 L250.1 285.4 L250.4 285.2 L250.7 285.1 L251 285 L251.3 284.8 L251.6 284.7 L251.9 284.6 L252.2 284.6 L252.5 284.5 L252.8 284.4 L253.1 284.4 L253.4 284.4 L253.7 284.3 L254 284.3 L254.3 284.4 L254.6 284.4 L254.9 284.4 L255.1 284.5 L255.4 284.5 L255.7 284.6 L255.9 284.7 L256.2 284.8 L256.4 284.9" fill="none" stroke="#000" stroke-width="1.4" stroke-linecap="round"/>
<path d="M246.3 291.4 L246.2 291.2 L246.1 291.1 L246.1 290.9 L246 290.7 L245.9 290.5 L245.9 290.4 L245.8 290.2 L245.8 290 L245.8 289.8 L245.7 289.6 L245.7 289.4 L245.7 289.3 L245.8 289.1 L245.8 288.9 L245.8 288.7 L245.9 288.5 L246 288.3 L246 288.1 L246.1 288 L246.2 287.8 L246.3 287.6 L246.4 287.4 L246.5 287.3 L246.7 287.1 L246.8 287 L247 286.8 L247.1 286.7 L247.3 286.5 L247.4 286.4 L247.6 286.3 L247.8 286.2 L248 286.1 L248.2 286 L248.4 285.9 L248.6 285.8 L248.7 285.8 L249 285.7 L249.2 285.6 L249.4 285.6 L249.6 285.6 L249.8 285.6 L250 285.6 L250.2 285.6" fill="none" stroke="#000" stroke-width="1.2" stroke-linecap="round"/>
<path d="M228 294.7 A6 7.5 0 0 0 222 308.7" fill="#fff" stroke="#000" stroke-width="1.5"/>
<path d="M222.4 304 L222.4 303.8 L222.3 303.5 L222.2 303.3 L222.2 303.1 L222.1 302.9 L222.1 302.6 L222.1 302.4 L222 302.2 L222 301.9 L222 301.7 L222 301.5 L222 301.2 L222.1 301 L222.1 300.8 L222.1 300.5 L222.2 300.3 L222.2 300.1 L222.3 299.9 L222.4 299.6 L222.4 299.4 L222.5 299.2 L222.6 299 L222.7 298.8 L222.8 298.7 L222.9 298.5 L223 298.3 L223.2 298.2 L223.3 298 L223.4 297.9 L223.6 297.8 L223.7 297.7 L223.9 297.6 L224 297.5" fill="none" stroke="#000" stroke-width="1.2" stroke-linecap="round"/>
<path d="M235 292.6 L267.7 308.4 L269.8 317.9 L264.5 320.7 L255.2 322.2 L252.2 324.9 L219.5 308.6Z" fill="#fff" stroke="#000" stroke-width="1.6" stroke-linejoin="round" stroke-linecap="round"/>
<path d="M219.5 308.6 L226.3 319.1 L229 312.9Z" fill="#fff" stroke="#000" stroke-width="1.3" stroke-linejoin="round" stroke-linecap="round"/>
<ellipse cx="309.2" cy="329.5" rx="5.5" ry="6.8" fill="none" stroke="#000" stroke-width="1.5"/>
<ellipse cx="309.2" cy="429.4" rx="5.5" ry="6.8" fill="none" stroke="#000" stroke-width="1.5"/>
<ellipse cx="310.2" cy="380" rx="8.5" ry="9.8" fill="none" stroke="#000" stroke-width="1.7"/>
<path d="M303.3 378.6 L303.4 378.2 L303.5 377.8 L303.6 377.4 L303.7 377 L303.9 376.6 L304 376.2 L304.2 375.8 L304.4 375.5 L304.6 375.1 L304.9 374.8 L305.1 374.5 L305.4 374.2 L305.7 373.9 L305.9 373.6 L306.3 373.4 L306.6 373.2 L306.9 373 L307.2 372.8 L307.6 372.6 L307.9 372.4 L308.3 372.3 L308.6 372.2 L309 372.1" fill="none" stroke="#000" stroke-width="1.2" stroke-linecap="round"/>
<text x="309.7" y="358.2" font-size="9.5" text-anchor="middle" font-weight="bold">OEL</text>
<text x="308.4" y="410.1" font-size="6" text-anchor="middle" font-weight="bold">VI</text>
<path d="M265.9 425.1 L264.3 422.8 L262.9 420.4 L261.6 417.9 L260.5 415.4 L259.5 412.8 L258.6 410.3 L257.9 407.7 L257.3 405.1 L256.8 402.5 L256.5 399.9 L256.2 397.3 L256.1 394.8 L256 392.2 L256 389.7 L256.2 387.3 L256.4 384.8 L256.7 382.4 L257 380.1 L257.5 377.7 L257.9 375.4 L258.5 373.2 L259.1 371 L259.8 368.8 L260.5 366.6 L261.3 364.5 L262.2 362.4 L263.1 360.3 L264 358.3 L265 356.3 L266.1 354.3 L279.3 361.7 L278.6 363.1 L277.9 364.5 L277.2 365.9 L276.5 367.4 L275.9 368.8 L275.3 370.3 L274.7 371.9 L274.2 373.4 L273.7 375 L273.2 376.6 L272.8 378.2 L272.4 379.9 L272 381.6 L271.7 383.4 L271.5 385.1 L271.3 386.9 L271.1 388.8 L271 390.6 L271 392.6 L271 394.5 L271.2 396.5 L271.4 398.4 L271.7 400.5 L272 402.5 L272.5 404.5 L273.1 406.5 L273.8 408.5 L274.7 410.5 L275.6 412.4 L276.7 414.3Z" fill="#fff" stroke="#000" stroke-width="1.4" stroke-linejoin="round" stroke-linecap="round"/>
<path d="M351 327.1 L353.2 329.3 L355.3 331.7 L357.3 334.2 L359 336.8 L360.6 339.5 L361.9 342.3 L363.1 345.1 L364.2 348 L365 350.9 L365.7 353.8 L366.2 356.8 L366.6 359.7 L366.9 362.5 L367 365.4 L367 368.2 L366.9 371 L366.7 373.7 L366.4 376.4 L366 379.1 L365.5 381.7 L364.9 384.3 L364.2 386.8 L363.5 389.3 L362.7 391.7 L361.8 394.1 L360.9 396.4 L359.9 398.8 L358.8 401 L357.7 403.3 L356.5 405.5 L345.1 398.9 L346 397.3 L346.9 395.6 L347.7 393.9 L348.5 392.2 L349.2 390.4 L349.9 388.6 L350.5 386.8 L351.1 385 L351.7 383.1 L352.2 381.2 L352.6 379.2 L353 377.2 L353.4 375.1 L353.6 373 L353.8 370.9 L354 368.7 L354 366.5 L353.9 364.2 L353.8 361.9 L353.5 359.6 L353.1 357.3 L352.6 354.9 L352 352.6 L351.2 350.2 L350.2 347.9 L349.1 345.7 L347.9 343.5 L346.4 341.4 L344.8 339.4 L343.1 337.6Z" fill="#fff" stroke="#000" stroke-width="1.4" stroke-linejoin="round" stroke-linecap="round"/>
<text x="286.9" y="374.2" font-size="8.5" text-anchor="middle" font-weight="bold">T</text>
<text x="286.9" y="382.7" font-size="8.5" text-anchor="middle" font-weight="bold">E</text>
<text x="286.9" y="391.2" font-size="8.5" text-anchor="middle" font-weight="bold">M</text>
<text x="286.9" y="399.7" font-size="8.5" text-anchor="middle" font-weight="bold">P</text>
<text x="332.4" y="376.8" font-size="8.5" text-anchor="middle" font-weight="bold" transform="rotate(90 332.4 373.7)">DRUCK</text>
<line x1="355.7" y1="332.1" x2="353" y2="335" stroke="#000" stroke-width="1.2" stroke-linecap="round"/>
<line x1="363.3" y1="345.6" x2="360" y2="347.8" stroke="#000" stroke-width="1.2" stroke-linecap="round"/>
<line x1="366.7" y1="360.1" x2="362.9" y2="361.4" stroke="#000" stroke-width="1.2" stroke-linecap="round"/>
<line x1="366.6" y1="374.1" x2="362.6" y2="374.5" stroke="#000" stroke-width="1.2" stroke-linecap="round"/>
<line x1="364.1" y1="387.1" x2="360.2" y2="386.5" stroke="#000" stroke-width="1.2" stroke-linecap="round"/>
<line x1="359.8" y1="399" x2="356.1" y2="397.5" stroke="#000" stroke-width="1.2" stroke-linecap="round"/>
<text x="340" y="345.3" font-size="6.5" text-anchor="middle" font-weight="bold">10</text>
<text x="343" y="355.3" font-size="6.5" text-anchor="middle" font-weight="bold">8</text>
<text x="345" y="365.3" font-size="6.5" text-anchor="middle" font-weight="bold">6</text>
<text x="346" y="376.3" font-size="6.5" text-anchor="middle" font-weight="bold">4</text>
<text x="346" y="388.3" font-size="6.5" text-anchor="middle" font-weight="bold">2</text>
<text x="343" y="400.3" font-size="6.5" text-anchor="middle" font-weight="bold">0</text>
<text x="272" y="365.3" font-size="6.5" text-anchor="middle" font-weight="bold">150</text>
<text x="266.5" y="383.3" font-size="6.5" text-anchor="middle" font-weight="bold">120</text>
<text x="265.5" y="398.3" font-size="6.5" text-anchor="middle" font-weight="bold">100</text>
<text x="267.5" y="411.3" font-size="6.5" text-anchor="middle" font-weight="bold">80</text>
<text x="273" y="423.3" font-size="6.5" text-anchor="middle" font-weight="bold">50</text>
<line x1="261.3" y1="417.3" x2="263.7" y2="415.5" stroke="#000" stroke-width="1.2" stroke-linecap="round"/>
<line x1="256.8" y1="402.2" x2="259.5" y2="401" stroke="#000" stroke-width="1.2" stroke-linecap="round"/>
<line x1="256.2" y1="387.3" x2="259.1" y2="386.9" stroke="#000" stroke-width="1.2" stroke-linecap="round"/>
<line x1="258.4" y1="373.5" x2="261.4" y2="373.8" stroke="#000" stroke-width="1.2" stroke-linecap="round"/>
<line x1="262.9" y1="360.8" x2="265.7" y2="361.9" stroke="#000" stroke-width="1.2" stroke-linecap="round"/>
<rect x="351.8" y="399.8" width="8" height="5" rx="0" fill="none" stroke="#000" stroke-width="1.3" transform="rotate(-25 355.8 402.3)"/>
<path d="M204.5 785.1 L204.6 782 L204.8 778.9 L205.2 775.8 L205.6 772.7 L206.1 769.5 L206.8 766.4 L207.5 763.3 L208.4 760.2 L209.4 757.2 L210.4 754.1 L211.6 751.1 L212.9 748.2 L214.3 745.2 L215.7 742.4 L217.3 739.5 L218.9 736.8 L220.7 734 L222.5 731.4 L224.4 728.8 L226.4 726.3 L228.5 723.9 L230.6 721.5 L232.9 719.2 L235.2 717 L237.5 714.9 L239.9 712.9 L242.4 711 L244.9 709.1 L247.4 707.4 L250.1 705.8 L252.7 704.3 L255.4 702.9 L258.1 701.6 L260.9 700.4 L263.7 699.4 L266.4 698.4 L269.3 697.6 L272.1 696.9 L274.9 696.3 L277.8 695.8 L280.6 695.5 L283.4 695.2 L286.2 695.1 L289 695.2 L291.8 695.3 L294.6 695.6 L297.3 696 L300 696.5 L302.7 697.1 L305.3 697.8 L307.9 698.7 L310.4 699.7 L312.9 700.8 L315.3 702 L317.6 703.3 L319.9 704.8 L322.2 706.3 L353.5 729.4 L355.5 730.9 L357.4 732.6 L359.2 734.3 L360.9 736.1 L362.6 738 L364.2 740 L365.7 742 L367.1 744.2 L368.4 746.4 L369.7 748.7 L370.8 751.1 L371.9 753.5 L372.8 756 L373.7 758.6 L374.4 761.2 L375.1 763.9 L375.7 766.6 L376.1 769.3 L376.5 772.1 L376.8 775 L376.9 777.8 L377 780.7 L377 783.6 L376.8 786.6 L376.6 789.5 L376.2 792.5 L375.8 795.4 L375.2 798.4 L374.6 801.3 L373.8 804.3 L373 807.2 L372 810.1 L371 813 L369.9 815.8 L368.6 818.6 L367.3 821.4 L365.9 824.2 L364.4 826.9 L362.9 829.5 L361.2 832.1 L359.5 834.6 L357.7 837.1 L355.8 839.5 L353.9 841.9 L351.8 844.1 L349.8 846.3 L347.6 848.4 L345.4 850.5 L343.2 852.4 L340.9 854.3 L338.5 856 L336.1 857.7 L333.7 859.3 L331.2 860.7 L328.8 862.1 L326.2 863.4 L323.7 864.5 L321.1 865.6 L318.5 866.5 L315.9 867.4 L313.3 868.1 L310.7 868.7 L308.1 869.2 L305.5 869.5 L302.9 869.8 L300.3 870 L297.7 870 L295.2 869.9 L292.6 869.7 L290.1 869.4 L287.7 869 L285.2 868.4 L282.9 867.8 L280.5 867 L278.2 866.1 L275.9 865.1 L240.5 848.7 L238.1 847.5 L235.7 846.1 L233.4 844.7 L231.2 843.1 L229 841.5 L226.9 839.7 L224.9 837.9 L223 835.9 L221.1 833.9 L219.4 831.8 L217.7 829.5 L216.1 827.2 L214.6 824.8 L213.2 822.4 L211.9 819.8 L210.7 817.2 L209.6 814.5 L208.6 811.8 L207.7 809 L207 806.2 L206.3 803.3 L205.7 800.3 L205.3 797.4 L204.9 794.3 L204.7 791.3 L204.6 788.2Z" fill="#fff" stroke="#000" stroke-width="1.6" stroke-linejoin="round" stroke-linecap="round"/>
<ellipse cx="310.5" cy="794.8" rx="62.7" ry="78.4" fill="#fff" stroke="#000" stroke-width="1.8" transform="rotate(28 310.5 794.8)"/>
<path d="M250.5 829.4 L249.5 825.8 L248.7 822.2 L248.2 818.7 L247.8 815.1 L247.6 811.6 L247.5 808.1 L247.6 804.7 L247.8 801.3 L248.2 798 L248.7 794.8 L249.3 791.5 L250 788.4 L250.8 785.3 L251.7 782.3 L252.8 779.3 L253.9 776.3 L255.1 773.5 L256.4 770.6 L257.7 767.9 L259.2 765.1 L260.8 762.5 L262.4 759.8 L264.2 757.2 L266 754.7 L267.9 752.2 L270 749.7 L272.1 747.4 L274.4 745 L276.7 742.7 L279.2 740.5 L281.8 738.4 L284.5 736.3 L287.3 734.4 L290.3 732.5 L293.4 730.8 L296.6 729.2 L299.9 727.7 L303.3 726.4 L306.9 725.3 L310.5 724.3 L314.2 723.7 L318 723.2 L321.9 723 L325.7 723.1 L329.6 723.5 L333.4 724.1 L337.2 725.1 L340.9 726.4 L344.5 728 L347.9 729.9" fill="none" stroke="#000" stroke-width="1.4" stroke-linecap="round"/>
<ellipse cx="310.5" cy="794.8" rx="54.2" ry="69.9" fill="none" stroke="#000" stroke-width="1.7" transform="rotate(28 310.5 794.8)"/>
<path d="M329.9 848 L327.3 849.7 L324.6 851.3 L321.7 852.8 L318.8 854.2 L315.7 855.4 L312.5 856.4 L309.2 857.3 L305.9 857.9 L302.5 858.3 L299 858.5 L295.5 858.4 L292 858 L288.6 857.4 L285.2 856.4 L281.9 855.1 L278.7 853.6 L275.7 851.8 L272.9 849.7 L270.2 847.3 L267.8 844.8 L265.6 842.1 L263.6 839.2 L261.9 836.2 L260.4 833.1 L259.1 830 L258 826.8 L257.2 823.5 L256.5 820.3 L256 817.1 L255.7 813.9 L255.5 810.8 L255.5 807.7 L255.6 804.7 L255.8 801.7 L256.2 798.7 L256.6 795.8 L257.2 793 L257.8 790.2 L258.5 787.5 L259.4 784.9 L260.2 782.3 L261.2 779.7 L262.2 777.2" fill="none" stroke="#000" stroke-width="1.3" stroke-linecap="round"/>
<ellipse cx="239.8" cy="694.1" rx="6" ry="2.8" fill="#fff" stroke="#000" stroke-width="1.5" transform="rotate(-12 239.8 694.1)"/>
<ellipse cx="251.2" cy="697" rx="9.5" ry="7.5" fill="#fff" stroke="#000" stroke-width="1.6" transform="rotate(-25 251.2 697)"/>
<path d="M247.7 701.8 L247.5 701.6 L247.4 701.4 L247.2 701.2 L247.1 701.1 L246.9 700.9 L246.8 700.6 L246.7 700.4 L246.6 700.2 L246.6 700 L246.5 699.7 L246.5 699.5 L246.4 699.3 L246.4 699 L246.4 698.8 L246.5 698.5 L246.5 698.3 L246.6 698 L246.6 697.8 L246.7 697.5 L246.8 697.2 L247 697 L247.1 696.7 L247.2 696.5 L247.4 696.3 L247.6 696 L247.8 695.8 L248 695.6 L248.2 695.4 L248.4 695.2 L248.6 694.9 L248.9 694.8 L249.1 694.6 L249.4 694.4 L249.7 694.2 L249.9 694.1 L250.2 693.9 L250.5 693.8 L250.8 693.7 L251.1 693.6 L251.4 693.5 L251.7 693.4 L252 693.3 L252.3 693.3 L252.6 693.2 L252.9 693.2 L253.2 693.2 L253.5 693.2 L253.8 693.2 L254.1 693.2 L254.4 693.3 L254.7 693.3 L255 693.4 L255.2 693.4 L255.5 693.5 L255.7 693.6 L256 693.7" fill="none" stroke="#000" stroke-width="1.4" stroke-linecap="round"/>
<path d="M245.9 700.2 L245.8 700 L245.7 699.9 L245.6 699.7 L245.5 699.6 L245.5 699.4 L245.4 699.2 L245.4 699 L245.3 698.8 L245.3 698.7 L245.3 698.5 L245.3 698.3 L245.3 698.1 L245.3 697.9 L245.3 697.7 L245.4 697.5 L245.4 697.3 L245.5 697.2 L245.6 697 L245.7 696.8 L245.7 696.6 L245.8 696.4 L246 696.3 L246.1 696.1 L246.2 695.9 L246.4 695.8 L246.5 695.6 L246.6 695.5 L246.8 695.4 L247 695.2 L247.1 695.1 L247.3 695 L247.5 694.9 L247.7 694.8 L247.9 694.7 L248.1 694.7 L248.3 694.6 L248.5 694.5 L248.7 694.5 L248.9 694.4 L249.1 694.4 L249.3 694.4 L249.5 694.4 L249.7 694.4" fill="none" stroke="#000" stroke-width="1.2" stroke-linecap="round"/>
<path d="M228 703.1 A6 7.5 0 0 0 222 717.1" fill="#fff" stroke="#000" stroke-width="1.5"/>
<path d="M222.4 712.3 L222.3 712.1 L222.3 711.9 L222.2 711.7 L222.1 711.5 L222.1 711.2 L222.1 711 L222 710.8 L222 710.5 L222 710.3 L222 710.1 L222 709.8 L222 709.6 L222 709.4 L222.1 709.1 L222.1 708.9 L222.2 708.7 L222.2 708.4 L222.3 708.2 L222.3 708 L222.4 707.8 L222.5 707.6 L222.6 707.4 L222.7 707.2 L222.8 707 L222.9 706.9 L223 706.7 L223.1 706.6 L223.3 706.4 L223.4 706.3 L223.5 706.2 L223.7 706.1 L223.8 706 L224 705.9" fill="none" stroke="#000" stroke-width="1.2" stroke-linecap="round"/>
<path d="M235 701.2 L265.5 717.2 L267 726.6 L261.8 729.3 L252.8 730.7 L249.8 733.3 L219.3 716.8Z" fill="#fff" stroke="#000" stroke-width="1.6" stroke-linejoin="round" stroke-linecap="round"/>
<path d="M219.3 716.8 L225.3 727.3 L228.2 721.2Z" fill="#fff" stroke="#000" stroke-width="1.3" stroke-linejoin="round" stroke-linecap="round"/>
<ellipse cx="307.8" cy="741.1" rx="5.5" ry="6.8" fill="none" stroke="#000" stroke-width="1.5"/>
<ellipse cx="305.8" cy="844.2" rx="5.5" ry="6.8" fill="none" stroke="#000" stroke-width="1.5"/>
<ellipse cx="307.8" cy="792.7" rx="8.5" ry="9.8" fill="none" stroke="#000" stroke-width="1.7"/>
<path d="M300.9 791.3 L301 790.9 L301.1 790.5 L301.2 790.1 L301.3 789.7 L301.5 789.3 L301.6 788.9 L301.8 788.5 L302 788.2 L302.2 787.8 L302.5 787.5 L302.7 787.2 L303 786.9 L303.3 786.6 L303.5 786.3 L303.9 786.1 L304.2 785.9 L304.5 785.7 L304.8 785.5 L305.2 785.3 L305.5 785.1 L305.9 785 L306.2 784.9 L306.6 784.8" fill="none" stroke="#000" stroke-width="1.2" stroke-linecap="round"/>
<text x="307.8" y="770.3" font-size="9.5" text-anchor="middle" font-weight="bold">OEL</text>
<text x="304.7" y="825.8" font-size="6" text-anchor="middle" font-weight="bold">VI</text>
<path d="M258.7 837.2 L257.5 834.5 L256.5 831.8 L255.6 829.1 L254.9 826.3 L254.3 823.6 L253.8 820.8 L253.5 818.1 L253.2 815.4 L253.1 812.8 L253.1 810.1 L253.2 807.5 L253.3 805 L253.6 802.5 L253.9 800 L254.3 797.6 L254.7 795.2 L255.2 792.9 L255.8 790.6 L256.4 788.3 L257.1 786.1 L257.9 783.9 L258.6 781.8 L259.5 779.6 L260.3 777.6 L261.3 775.5 L262.2 773.5 L263.3 771.5 L264.3 769.5 L265.4 767.6 L266.6 765.7 L279.9 775 L279.1 776.3 L278.4 777.6 L277.7 779 L277 780.3 L276.3 781.7 L275.6 783.1 L275 784.5 L274.4 786 L273.8 787.4 L273.3 788.9 L272.7 790.5 L272.2 792 L271.8 793.6 L271.3 795.2 L270.9 796.9 L270.5 798.5 L270.2 800.3 L269.9 802.1 L269.6 803.9 L269.4 805.8 L269.2 807.7 L269.1 809.6 L269.1 811.6 L269.1 813.7 L269.3 815.8 L269.5 817.9 L269.8 820 L270.3 822.2 L270.8 824.4 L271.5 826.5Z" fill="#fff" stroke="#000" stroke-width="1.4" stroke-linejoin="round" stroke-linecap="round"/>
<path d="M352.4 743.3 L354.3 745.7 L356.1 748.2 L357.7 750.9 L359.1 753.6 L360.3 756.4 L361.3 759.2 L362.2 762.1 L362.9 764.9 L363.5 767.8 L363.9 770.6 L364.2 773.5 L364.4 776.3 L364.5 779 L364.5 781.7 L364.3 784.4 L364.1 787 L363.8 789.6 L363.4 792.1 L363 794.6 L362.5 797.1 L361.9 799.5 L361.2 801.8 L360.5 804.1 L359.8 806.4 L359 808.6 L358.1 810.8 L357.2 813 L356.2 815.1 L355.2 817.2 L354.1 819.3 L343.4 813.6 L344.2 812 L345 810.4 L345.8 808.8 L346.5 807.2 L347.2 805.5 L347.8 803.8 L348.4 802 L349 800.3 L349.6 798.5 L350.1 796.6 L350.6 794.8 L351 792.8 L351.4 790.9 L351.7 788.9 L352 786.8 L352.2 784.7 L352.4 782.5 L352.5 780.3 L352.5 778.1 L352.4 775.8 L352.2 773.5 L351.9 771.1 L351.5 768.7 L351 766.3 L350.3 763.9 L349.5 761.6 L348.5 759.2 L347.3 756.9 L346 754.7 L344.5 752.6Z" fill="#fff" stroke="#000" stroke-width="1.4" stroke-linejoin="round" stroke-linecap="round"/>
<text x="284.1" y="788.1" font-size="8.5" text-anchor="middle" font-weight="bold">T</text>
<text x="284.1" y="796.6" font-size="8.5" text-anchor="middle" font-weight="bold">E</text>
<text x="284.1" y="805.1" font-size="8.5" text-anchor="middle" font-weight="bold">M</text>
<text x="284.1" y="813.6" font-size="8.5" text-anchor="middle" font-weight="bold">P</text>
<text x="331.5" y="788.6" font-size="8.5" text-anchor="middle" font-weight="bold" transform="rotate(90 331.5 785.5)">DRUCK</text>
<line x1="356.6" y1="749" x2="353.7" y2="751.8" stroke="#000" stroke-width="1.2" stroke-linecap="round"/>
<line x1="362.4" y1="762.7" x2="359" y2="764.8" stroke="#000" stroke-width="1.2" stroke-linecap="round"/>
<line x1="364.4" y1="776.7" x2="360.7" y2="778" stroke="#000" stroke-width="1.2" stroke-linecap="round"/>
<line x1="363.8" y1="789.8" x2="359.8" y2="790.2" stroke="#000" stroke-width="1.2" stroke-linecap="round"/>
<line x1="361.2" y1="801.8" x2="357.3" y2="801.3" stroke="#000" stroke-width="1.2" stroke-linecap="round"/>
<line x1="357.3" y1="812.8" x2="353.5" y2="811.5" stroke="#000" stroke-width="1.2" stroke-linecap="round"/>
<text x="337" y="761.3" font-size="6.5" text-anchor="middle" font-weight="bold">10</text>
<text x="341" y="770.3" font-size="6.5" text-anchor="middle" font-weight="bold">8</text>
<text x="343" y="780.3" font-size="6.5" text-anchor="middle" font-weight="bold">6</text>
<text x="344" y="791.3" font-size="6.5" text-anchor="middle" font-weight="bold">4</text>
<text x="344" y="803.3" font-size="6.5" text-anchor="middle" font-weight="bold">2</text>
<text x="342" y="814.3" font-size="6.5" text-anchor="middle" font-weight="bold">0</text>
<rect x="268" y="770" width="7" height="7" rx="0" fill="none" stroke="#000" stroke-width="1.3" transform="rotate(15 271.5 773.5)"/>
<rect x="266" y="780" width="7" height="7" rx="0" fill="none" stroke="#000" stroke-width="1.3" transform="rotate(15 269.5 783.5)"/>
<rect x="264" y="791" width="6" height="6" rx="0" fill="none" stroke="#000" stroke-width="1.3" transform="rotate(15 267 794)"/>
<rect x="266" y="822" width="7" height="8" rx="0" fill="none" stroke="#000" stroke-width="1.3" transform="rotate(15 269.5 826)"/>
<rect x="270" y="832" width="8" height="7" rx="0" fill="none" stroke="#000" stroke-width="1.3" transform="rotate(15 274 835.5)"/>
<rect x="350" y="814.6" width="8" height="5" rx="0" fill="none" stroke="#000" stroke-width="1.3" transform="rotate(-25 354 817.1)"/>
<line x1="268" y1="800" x2="268" y2="820" stroke="#000" stroke-width="1.3" stroke-linecap="round"/>
<path d="M200.4 572.2 L200.4 569.2 L200.6 566.2 L200.8 563.1 L201.2 560.1 L201.7 557 L202.3 554 L203 551 L203.8 548 L204.7 545 L205.8 542.1 L206.9 539.2 L208.2 536.3 L209.5 533.5 L211 530.8 L212.5 528 L214.2 525.4 L216 522.8 L217.8 520.2 L219.8 517.8 L221.8 515.4 L223.9 513 L226.1 510.8 L228.3 508.6 L230.7 506.6 L233.1 504.6 L235.6 502.7 L238.1 500.9 L240.7 499.2 L243.4 497.6 L246.1 496.1 L248.8 494.7 L251.6 493.4 L254.5 492.2 L257.3 491.1 L260.2 490.2 L263.1 489.4 L266.1 488.6 L269 488 L272 487.5 L275 487.2 L277.9 486.9 L280.9 486.8 L283.9 486.8 L286.8 486.9 L289.8 487.1 L292.7 487.5 L295.6 487.9 L298.4 488.5 L301.2 489.2 L304 490 L306.8 491 L309.5 492 L312.1 493.2 L348.2 509.7 L350.6 510.9 L352.8 512.2 L355 513.7 L357.1 515.2 L359.2 516.8 L361.2 518.5 L363 520.4 L364.8 522.3 L366.5 524.3 L368.1 526.4 L369.7 528.6 L371.1 530.8 L372.4 533.2 L373.6 535.6 L374.8 538.1 L375.8 540.6 L376.7 543.2 L377.5 545.9 L378.2 548.7 L378.8 551.4 L379.2 554.3 L379.6 557.1 L379.8 560 L380 563 L380 566 L379.9 569 L379.7 572 L379.4 575 L379 578 L378.4 581.1 L377.8 584.1 L377 587.1 L376.2 590.2 L375.2 593.2 L374.1 596.2 L372.9 599.2 L371.7 602.1 L370.3 605 L368.8 607.9 L367.2 610.8 L365.6 613.5 L363.8 616.3 L362 619 L360 621.6 L358 624.2 L355.9 626.7 L353.8 629.1 L351.6 631.5 L349.2 633.8 L346.9 636 L344.4 638.1 L341.9 640.1 L339.4 642.1 L336.8 643.9 L334.2 645.7 L331.5 647.4 L328.8 648.9 L326 650.4 L323.2 651.7 L320.4 652.9 L317.6 654.1 L314.8 655.1 L311.9 656 L309.1 656.8 L306.2 657.4 L303.3 658 L300.4 658.4 L297.6 658.7 L294.8 658.9 L291.9 659 L289.2 659 L286.4 658.8 L283.7 658.5 L281 658.1 L278.3 657.6 L275.7 657 L273.1 656.2 L270.6 655.3 L268.2 654.4 L265.8 653.3 L263.4 652.1 L261.2 650.8 L259 649.3 L230.2 629.9 L227.9 628.2 L225.6 626.4 L223.5 624.5 L221.4 622.5 L219.4 620.5 L217.4 618.3 L215.6 616.1 L213.9 613.8 L212.2 611.4 L210.7 609 L209.2 606.4 L207.9 603.8 L206.7 601.2 L205.5 598.5 L204.5 595.7 L203.6 592.9 L202.8 590 L202.1 587.1 L201.6 584.2 L201.1 581.3 L200.8 578.3 L200.6 575.3Z" fill="#fff" stroke="#000" stroke-width="1.6" stroke-linejoin="round" stroke-linecap="round"/>
<path d="M198 590 L248 612 L245 632 L205 608Z" fill="#fff" stroke="#000" stroke-width="1.5" stroke-linejoin="round" stroke-linecap="round"/>
<ellipse cx="307" cy="581.5" rx="66.5" ry="83.1" fill="#fff" stroke="#000" stroke-width="1.8" transform="rotate(37.1 307 581.5)"/>
<path d="M241 619.6 L239.8 615.7 L238.9 611.8 L238.2 607.9 L237.8 604 L237.5 600.1 L237.5 596.3 L237.7 592.5 L238 588.7 L238.6 585.1 L239.2 581.5 L240 578 L241 574.6 L242 571.2 L243.2 567.9 L244.5 564.7 L245.9 561.6 L247.3 558.6 L248.9 555.6 L250.6 552.7 L252.3 549.9 L254.1 547.2 L256 544.5 L258 541.9 L260.1 539.3 L262.3 536.8 L264.6 534.4 L266.9 532 L269.4 529.7 L271.9 527.5 L274.6 525.3 L277.3 523.3 L280.2 521.3 L283.1 519.4 L286.2 517.6 L289.4 515.9 L292.7 514.3 L296.1 512.8 L299.6 511.5 L303.3 510.3 L307 509.3 L310.8 508.6 L314.7 508 L318.7 507.6 L322.7 507.5 L326.8 507.7 L330.9 508.1 L334.9 508.8 L338.9 509.9 L342.8 511.2 L346.6 512.9" fill="none" stroke="#000" stroke-width="1.4" stroke-linecap="round"/>
<ellipse cx="309" cy="583" rx="52.4" ry="69.1" fill="none" stroke="#000" stroke-width="1.7" transform="rotate(37.1 309 583)"/>
<path d="M327.1 632.7 L324.6 634.3 L322.1 635.7 L319.4 637.1 L316.7 638.4 L313.8 639.5 L310.9 640.6 L307.8 641.5 L304.7 642.3 L301.4 642.9 L298.1 643.3 L294.8 643.5 L291.3 643.4 L287.9 643.1 L284.5 642.6 L281.2 641.7 L277.9 640.6 L274.7 639.2 L271.7 637.4 L268.9 635.4 L266.2 633.2 L263.8 630.7 L261.6 628 L259.7 625.1 L258 622.1 L256.6 618.9 L255.4 615.7 L254.5 612.4 L253.8 609.1 L253.3 605.9 L253.1 602.6 L253 599.4 L253.1 596.2 L253.3 593 L253.7 590 L254.2 587 L254.9 584.1 L255.6 581.3 L256.4 578.5 L257.3 575.8 L258.3 573.2 L259.4 570.7 L260.5 568.2 L261.7 565.8" fill="none" stroke="#000" stroke-width="1.3" stroke-linecap="round"/>
<ellipse cx="196" cy="574" rx="5" ry="7.5" fill="#fff" stroke="#000" stroke-width="1.4"/>
<ellipse cx="193" cy="572" rx="3" ry="5" fill="#fff" stroke="#000" stroke-width="1.3"/>
<path d="M269.7 555 L271.6 552.6 L273.5 550.3 L275.4 548 L277.5 545.8 L279.7 543.6 L281.9 541.5 L284.3 539.5 L286.8 537.4 L289.4 535.5 L292.1 533.6 L295 531.8 L298 530.1 L301.2 528.5 L304.5 527 L308 525.7 L311.6 524.6 L315.4 523.6 L319.2 523 L323.2 522.6 L327.3 522.5 L331.3 522.8 L335.4 523.5 L339.3 524.6 L343.2 526.2 L346.8 528.1 L350.2 530.5 L353.3 533.3 L356 536.4 L358.4 539.8 L360.4 543.4 L349.4 551.9 L347.9 549.1 L346 546.4 L343.9 543.9 L341.5 541.8 L338.8 539.9 L335.9 538.3 L332.9 537.1 L329.8 536.3 L326.6 535.7 L323.4 535.5 L320.2 535.6 L317.1 535.9 L314 536.4 L311 537.2 L308.2 538.1 L305.5 539.2 L302.9 540.3 L300.4 541.6 L298 543 L295.8 544.4 L293.6 545.9 L291.6 547.4 L289.7 549 L287.8 550.6 L286 552.3 L284.3 554 L282.7 555.7 L281.2 557.5 L279.7 559.3 L278.3 561.2Z" fill="#fff" stroke="#000" stroke-width="1.4" stroke-linejoin="round" stroke-linecap="round"/>
<text x="310.2" y="562.1" font-size="8" text-anchor="middle" font-weight="bold">TEMP</text>
<rect x="279" y="545" width="8" height="8" rx="0" fill="none" stroke="#000" stroke-width="1.3" transform="rotate(20 283 549)"/>
<line x1="283" y1="553" x2="290" y2="558" stroke="#000" stroke-width="1.3" stroke-linecap="round"/>
<rect x="326" y="531" width="9" height="7" rx="0" fill="none" stroke="#000" stroke-width="1.3" transform="rotate(-15 330.5 534.5)"/>
<ellipse cx="263" cy="598.6" rx="9" ry="10" fill="none" stroke="#000" stroke-width="1.5"/>
<ellipse cx="353.5" cy="573.6" rx="9" ry="10" fill="none" stroke="#000" stroke-width="1.5"/>
<ellipse cx="308.9" cy="584.1" rx="9" ry="10" fill="none" stroke="#000" stroke-width="1.7"/>
<path d="M264.9 632.5 L267.8 635.1 L270.9 637.5 L274.3 639.5 L277.9 641 L281.6 642.2 L285.4 643 L289.3 643.4 L293.2 643.5 L297 643.2 L300.7 642.7 L304.3 642 L307.8 641 L311.2 639.8 L314.4 638.5 L317.5 637.1 L320.4 635.5 L323.2 633.8 L325.9 632.1 L328.5 630.3 L330.9 628.5 L333.3 626.6 L335.5 624.6 L337.6 622.6 L339.7 620.6 L341.6 618.5 L343.5 616.4 L345.3 614.2 L347 612 L348.7 609.7 L350.3 607.3 L350.3 607.3 L345 609.3 L339.6 611.1 L334.3 613 L328.9 614.7 L323.6 616.5 L318.3 618.2 L312.9 619.8 L307.6 621.4 L302.3 622.9 L296.9 624.4 L291.6 625.9 L286.3 627.3 L280.9 628.7 L275.6 630 L270.3 631.2 L264.9 632.5Z" fill="#fff" stroke="#000" stroke-width="1.4" stroke-linejoin="round" stroke-linecap="round"/>
<text x="312.9" y="613.2" font-size="6" text-anchor="middle" font-weight="bold">VTT</text>
<path d="M384.2 899.6 L384.3 896.4 L384.4 893.2 L384.7 890 L385.1 886.9 L385.6 883.7 L386.2 880.5 L386.9 877.4 L387.7 874.3 L388.6 871.2 L389.6 868.2 L390.7 865.1 L391.9 862.2 L393.3 859.2 L394.7 856.4 L396.2 853.6 L397.8 850.8 L399.5 848.1 L401.3 845.5 L403.1 842.9 L405.1 840.4 L407.1 838 L409.2 835.7 L411.4 833.5 L413.6 831.4 L415.9 829.3 L418.3 827.4 L420.7 825.5 L423.2 823.8 L425.7 822.2 L428.3 820.6 L430.9 819.2 L433.6 817.9 L436.2 816.7 L439 815.6 L441.7 814.7 L444.5 813.9 L447.2 813.1 L450.1 812.6 L452.9 812.1 L455.7 811.8 L458.5 811.5 L461.3 811.4 L464.1 811.5 L466.9 811.6 L469.6 811.9 L472.4 812.3 L475.1 812.8 L477.8 813.5 L480.5 814.2 L483.1 815.1 L485.7 816.1 L488.2 817.3 L522.8 833.6 L525 834.8 L527.2 836 L529.4 837.4 L531.5 838.9 L533.5 840.5 L535.5 842.2 L537.3 844 L539.2 845.9 L540.9 847.9 L542.6 850 L544.2 852.1 L545.7 854.4 L547.1 856.7 L548.5 859.1 L549.7 861.6 L550.9 864.2 L552 866.8 L552.9 869.5 L553.8 872.2 L554.6 875 L555.3 877.9 L555.9 880.8 L556.4 883.7 L556.8 886.7 L557.1 889.7 L557.3 892.7 L557.4 895.8 L557.4 898.8 L557.3 901.9 L557.1 905 L556.8 908.1 L556.4 911.2 L555.8 914.3 L555.2 917.4 L554.5 920.4 L553.7 923.5 L552.8 926.5 L551.8 929.5 L550.8 932.4 L549.6 935.3 L548.3 938.2 L547 941 L545.5 943.8 L544 946.5 L542.4 949.1 L540.7 951.7 L539 954.2 L537.1 956.7 L535.2 959.1 L533.3 961.4 L531.2 963.5 L529.1 965.7 L527 967.7 L524.8 969.6 L522.5 971.5 L520.2 973.2 L517.9 974.9 L515.5 976.4 L513.1 977.8 L510.6 979.1 L508.1 980.3 L505.6 981.4 L503.1 982.4 L500.6 983.3 L498 984 L495.4 984.7 L492.8 985.2 L490.3 985.5 L487.7 985.8 L485.1 986 L482.6 986 L480 985.9 L477.5 985.7 L475 985.3 L472.5 984.9 L470 984.3 L467.6 983.6 L465.2 982.8 L428.6 969.7 L426 968.7 L423.5 967.5 L421 966.3 L418.6 964.9 L416.2 963.5 L413.9 961.9 L411.6 960.2 L409.4 958.4 L407.3 956.5 L405.3 954.5 L403.4 952.4 L401.5 950.2 L399.7 948 L398 945.6 L396.4 943.2 L394.9 940.7 L393.4 938.1 L392.1 935.4 L390.9 932.7 L389.7 929.9 L388.7 927.1 L387.8 924.2 L386.9 921.2 L386.2 918.2 L385.6 915.2 L385.1 912.1 L384.7 909 L384.4 905.9 L384.3 902.7Z" fill="#fff" stroke="#000" stroke-width="1.6" stroke-linejoin="round" stroke-linecap="round"/>
<ellipse cx="491.7" cy="907.2" rx="64.1" ry="80.1" fill="#fff" stroke="#000" stroke-width="1.8" transform="rotate(17.5 491.7 907.2)"/>
<path d="M432.9 941.1 L431.9 937.6 L431.2 934.2 L430.5 930.7 L430.1 927.2 L429.7 923.8 L429.6 920.4 L429.5 917.1 L429.6 913.7 L429.8 910.4 L430.1 907.2 L430.5 904 L431 900.8 L431.6 897.7 L432.3 894.6 L433.2 891.5 L434.1 888.5 L435.1 885.5 L436.2 882.5 L437.4 879.6 L438.8 876.6 L440.2 873.8 L441.7 870.9 L443.4 868.1 L445.2 865.3 L447 862.5 L449.1 859.8 L451.2 857.2 L453.5 854.6 L455.9 852 L458.4 849.6 L461.1 847.2 L464 844.9 L467 842.8 L470.1 840.7 L473.4 838.9 L476.8 837.2 L480.4 835.7 L484 834.4 L487.8 833.4 L491.7 832.6 L495.6 832.1 L499.6 831.9 L503.6 832 L507.6 832.5 L511.5 833.2 L515.4 834.3 L519.1 835.8 L522.7 837.5 L526.2 839.5 L529.5 841.8" fill="none" stroke="#000" stroke-width="1.4" stroke-linecap="round"/>
<ellipse cx="491.7" cy="907.2" rx="54.6" ry="70.6" fill="none" stroke="#000" stroke-width="1.7" transform="rotate(17.5 491.7 907.2)"/>
<path d="M512.2 963.6 L509.5 965.5 L506.6 967.2 L503.6 968.7 L500.4 970.1 L497.2 971.3 L493.8 972.2 L490.4 972.9 L486.9 973.4 L483.3 973.5 L479.8 973.3 L476.2 972.9 L472.8 972.1 L469.4 971 L466.1 969.6 L463 967.9 L460 965.9 L457.2 963.7 L454.6 961.3 L452.2 958.8 L450.1 956 L448.1 953.2 L446.3 950.2 L444.8 947.2 L443.5 944.1 L442.3 941.1 L441.3 938 L440.5 934.9 L439.8 931.8 L439.3 928.7 L438.9 925.7 L438.7 922.7 L438.5 919.7 L438.5 916.8 L438.6 913.9 L438.8 911.1 L439 908.3 L439.4 905.5 L439.8 902.8 L440.3 900.1 L440.9 897.4 L441.6 894.8 L442.4 892.1 L443.2 889.6" fill="none" stroke="#000" stroke-width="1.3" stroke-linecap="round"/>
<ellipse cx="418.6" cy="810.7" rx="6" ry="2.8" fill="#fff" stroke="#000" stroke-width="1.5" transform="rotate(-12 418.6 810.7)"/>
<ellipse cx="430.6" cy="814.2" rx="9.5" ry="7.5" fill="#fff" stroke="#000" stroke-width="1.6" transform="rotate(-25 430.6 814.2)"/>
<path d="M427.1 819 L427 818.8 L426.8 818.6 L426.6 818.5 L426.5 818.3 L426.3 818.1 L426.2 817.9 L426.1 817.6 L426 817.4 L426 817.2 L425.9 817 L425.9 816.7 L425.8 816.5 L425.8 816.2 L425.8 816 L425.9 815.7 L425.9 815.5 L426 815.2 L426 815 L426.1 814.7 L426.2 814.5 L426.4 814.2 L426.5 814 L426.6 813.7 L426.8 813.5 L427 813.2 L427.2 813 L427.4 812.8 L427.6 812.6 L427.8 812.4 L428 812.2 L428.3 812 L428.5 811.8 L428.8 811.6 L429.1 811.4 L429.3 811.3 L429.6 811.2 L429.9 811 L430.2 810.9 L430.5 810.8 L430.8 810.7 L431.1 810.6 L431.4 810.5 L431.7 810.5 L432 810.4 L432.3 810.4 L432.6 810.4 L432.9 810.4 L433.2 810.4 L433.5 810.4 L433.8 810.5 L434.1 810.5 L434.4 810.6 L434.6 810.7 L434.9 810.7 L435.1 810.9 L435.4 811" fill="none" stroke="#000" stroke-width="1.4" stroke-linecap="round"/>
<path d="M425.3 817.4 L425.2 817.3 L425.1 817.1 L425 816.9 L424.9 816.8 L424.9 816.6 L424.8 816.4 L424.8 816.2 L424.7 816.1 L424.7 815.9 L424.7 815.7 L424.7 815.5 L424.7 815.3 L424.7 815.1 L424.7 814.9 L424.8 814.7 L424.8 814.6 L424.9 814.4 L425 814.2 L425.1 814 L425.2 813.8 L425.3 813.7 L425.4 813.5 L425.5 813.3 L425.6 813.2 L425.8 813 L425.9 812.9 L426.1 812.7 L426.2 812.6 L426.4 812.5 L426.6 812.3 L426.7 812.2 L426.9 812.1 L427.1 812 L427.3 811.9 L427.5 811.9 L427.7 811.8 L427.9 811.7 L428.1 811.7 L428.3 811.7 L428.5 811.6 L428.7 811.6 L428.9 811.6 L429.1 811.6" fill="none" stroke="#000" stroke-width="1.2" stroke-linecap="round"/>
<path d="M406.1 819.2 A6 7.5 0 0 0 400.1 833.2" fill="#fff" stroke="#000" stroke-width="1.5"/>
<path d="M400.5 828.5 L400.4 828.2 L400.4 828 L400.3 827.8 L400.2 827.6 L400.2 827.4 L400.2 827.1 L400.1 826.9 L400.1 826.7 L400.1 826.4 L400.1 826.2 L400.1 825.9 L400.1 825.7 L400.1 825.5 L400.2 825.2 L400.2 825 L400.3 824.8 L400.3 824.5 L400.4 824.3 L400.4 824.1 L400.5 823.9 L400.6 823.7 L400.7 823.5 L400.8 823.3 L400.9 823.1 L401 823 L401.1 822.8 L401.2 822.7 L401.4 822.5 L401.5 822.4 L401.6 822.3 L401.8 822.2 L401.9 822.1 L402.1 822" fill="none" stroke="#000" stroke-width="1.2" stroke-linecap="round"/>
<path d="M413.6 817.7 L445.8 835.4 L447.5 845 L442 847.5 L432.5 848.5 L429.4 851 L397.2 832.8Z" fill="#fff" stroke="#000" stroke-width="1.6" stroke-linejoin="round" stroke-linecap="round"/>
<path d="M397.2 832.8 L403.6 843.7 L406.6 837.7Z" fill="#fff" stroke="#000" stroke-width="1.3" stroke-linejoin="round" stroke-linecap="round"/>
<ellipse cx="487.2" cy="857.5" rx="6" ry="7.5" fill="none" stroke="#000" stroke-width="1.5"/>
<ellipse cx="487.2" cy="961.5" rx="6" ry="7.5" fill="none" stroke="#000" stroke-width="1.5"/>
<ellipse cx="488" cy="909" rx="32" ry="38.5" fill="none" stroke="#000" stroke-width="1.5"/>
<ellipse cx="488.1" cy="908" rx="7.5" ry="9" fill="none" stroke="#000" stroke-width="1.7"/>
<ellipse cx="488.1" cy="934.3" rx="5.5" ry="7" fill="none" stroke="#000" stroke-width="1.5"/>
<path d="M444 948.5 L443 946.3 L442.1 944.1 L441.3 941.8 L440.6 939.6 L440 937.4 L439.5 935.1 L439 932.9 L438.6 930.7 L438.3 928.5 L438.1 926.3 L437.9 924.1 L437.8 921.9 L437.7 919.8 L437.7 917.7 L437.8 915.6 L437.9 913.5 L438 911.5 L438.2 909.4 L438.5 907.4 L438.8 905.4 L439.1 903.4 L439.5 901.5 L439.9 899.5 L440.4 897.6 L440.9 895.7 L441.4 893.8 L442 891.9 L442.7 890 L443.3 888.1 L444.1 886.3 L457.8 892.7 L457.3 894 L456.8 895.3 L456.3 896.7 L455.9 898 L455.5 899.4 L455.1 900.7 L454.8 902.1 L454.5 903.5 L454.2 904.9 L453.9 906.3 L453.6 907.7 L453.4 909.2 L453.2 910.6 L453.1 912.1 L452.9 913.6 L452.8 915.1 L452.7 916.7 L452.7 918.2 L452.7 919.8 L452.7 921.4 L452.8 923 L452.9 924.7 L453.1 926.4 L453.3 928.1 L453.6 929.8 L453.9 931.5 L454.3 933.2 L454.8 935 L455.3 936.8 L455.9 938.5Z" fill="#fff" stroke="#000" stroke-width="1.4" stroke-linejoin="round" stroke-linecap="round"/>
<path d="M533.5 858.7 L535.3 861.2 L536.9 863.8 L538.4 866.4 L539.7 869.1 L540.9 871.9 L541.9 874.6 L542.8 877.4 L543.5 880.2 L544.2 882.9 L544.7 885.6 L545.1 888.4 L545.4 891.1 L545.6 893.7 L545.7 896.4 L545.7 899 L545.6 901.6 L545.5 904.1 L545.3 906.6 L545 909.1 L544.6 911.6 L544.2 914 L543.7 916.4 L543.2 918.8 L542.6 921.2 L541.9 923.5 L541.1 925.8 L540.3 928.1 L539.4 930.4 L538.5 932.7 L537.5 934.9 L526.1 928.4 L526.9 926.7 L527.6 925 L528.2 923.2 L528.8 921.5 L529.4 919.8 L529.9 918 L530.3 916.2 L530.8 914.5 L531.2 912.6 L531.5 910.8 L531.8 909 L532.1 907.1 L532.3 905.2 L532.5 903.2 L532.6 901.3 L532.7 899.3 L532.7 897.3 L532.6 895.2 L532.5 893.1 L532.3 891 L532.1 888.8 L531.7 886.6 L531.3 884.4 L530.7 882.2 L530.1 879.9 L529.3 877.7 L528.4 875.5 L527.4 873.2 L526.2 871 L524.9 868.9Z" fill="#fff" stroke="#000" stroke-width="1.4" stroke-linejoin="round" stroke-linecap="round"/>
<rect x="446" y="888" width="10" height="9" rx="0" fill="none" stroke="#000" stroke-width="1.3" transform="rotate(15 451 892.5)"/>
<rect x="446" y="899" width="9" height="9" rx="0" fill="none" stroke="#000" stroke-width="1.3" transform="rotate(15 450.5 903.5)"/>
<rect x="448" y="936" width="10" height="10" rx="0" fill="none" stroke="#000" stroke-width="1.3" transform="rotate(15 453 941)"/>
<line x1="451" y1="910" x2="452" y2="933" stroke="#000" stroke-width="1.3" stroke-linecap="round"/>
<text x="466" y="905.7" font-size="8" text-anchor="middle" font-weight="bold">T</text>
<text x="466" y="914.2" font-size="8" text-anchor="middle" font-weight="bold">E</text>
<text x="466" y="922.7" font-size="8" text-anchor="middle" font-weight="bold">M</text>
<text x="466" y="931.2" font-size="8" text-anchor="middle" font-weight="bold">P</text>
<text x="511" y="908.9" font-size="8" text-anchor="middle" font-weight="bold" transform="rotate(90 511 906)">TANK</text>
<line x1="538.4" y1="866.4" x2="535.4" y2="869.1" stroke="#000" stroke-width="1.2" stroke-linecap="round"/>
<line x1="544.2" y1="882.9" x2="540.6" y2="884.7" stroke="#000" stroke-width="1.2" stroke-linecap="round"/>
<line x1="545.7" y1="899" x2="541.8" y2="899.7" stroke="#000" stroke-width="1.2" stroke-linecap="round"/>
<line x1="544.2" y1="914" x2="540.2" y2="913.6" stroke="#000" stroke-width="1.2" stroke-linecap="round"/>
<line x1="540.3" y1="928.1" x2="536.6" y2="926.6" stroke="#000" stroke-width="1.2" stroke-linecap="round"/>
<ellipse cx="524" cy="872" rx="3.5" ry="3.5" fill="none" stroke="#000" stroke-width="1.2"/>
<text x="527" y="887" font-size="5.5" text-anchor="middle" font-weight="bold">3/4</text>
<text x="530" y="900" font-size="5.5" text-anchor="middle" font-weight="bold">1/4</text>
<rect x="521" y="920" width="10" height="9" rx="0" fill="none" stroke="#000" stroke-width="1.3" transform="rotate(-20 526 924.5)"/>
<path d="M271.3 1074.8 L271.4 1072.5 L271.5 1070.2 L271.8 1067.9 L272.1 1065.6 L272.5 1063.3 L272.9 1061 L273.5 1058.8 L274.1 1056.5 L274.9 1054.3 L275.7 1052.1 L276.6 1049.9 L277.5 1047.8 L278.6 1045.6 L279.7 1043.6 L280.9 1041.5 L282.2 1039.5 L283.5 1037.6 L284.9 1035.7 L286.4 1033.9 L287.9 1032.1 L289.5 1030.4 L291.1 1028.7 L292.8 1027.2 L294.6 1025.6 L296.4 1024.2 L298.2 1022.8 L300.1 1021.5 L302.1 1020.2 L304.1 1019.1 L306.1 1018 L308.1 1017 L310.2 1016.1 L312.3 1015.2 L314.4 1014.5 L316.6 1013.8 L318.8 1013.2 L320.9 1012.8 L323.1 1012.4 L325.3 1012 L327.5 1011.8 L329.7 1011.7 L331.9 1011.7 L334.1 1011.7 L336.3 1011.9 L338.4 1012.1 L340.6 1012.4 L342.7 1012.8 L344.8 1013.3 L346.9 1013.9 L348.9 1014.6 L383.4 1026.8 L385.3 1027.5 L387.1 1028.2 L388.8 1029 L390.6 1029.9 L392.2 1030.9 L393.9 1032 L395.4 1033.2 L396.9 1034.4 L398.4 1035.7 L399.8 1037.1 L401.2 1038.6 L402.4 1040.1 L403.6 1041.7 L404.8 1043.4 L405.9 1045.1 L406.9 1046.9 L407.8 1048.7 L408.7 1050.6 L409.5 1052.6 L410.2 1054.6 L410.8 1056.6 L411.4 1058.7 L411.8 1060.8 L412.2 1063 L412.5 1065.2 L412.8 1067.4 L412.9 1069.7 L413 1071.9 L413 1074.2 L412.9 1076.5 L412.7 1078.8 L412.5 1081.2 L412.1 1083.5 L411.7 1085.8 L411.2 1088.2 L410.6 1090.5 L410 1092.8 L409.3 1095.1 L408.5 1097.3 L407.6 1099.6 L406.6 1101.8 L405.6 1104 L404.5 1106.2 L403.4 1108.4 L402.1 1110.5 L400.8 1112.5 L399.5 1114.5 L398.1 1116.5 L396.6 1118.5 L395 1120.3 L393.5 1122.1 L391.8 1123.9 L390.1 1125.6 L388.4 1127.2 L386.6 1128.8 L384.8 1130.3 L382.9 1131.7 L381.1 1133 L379.1 1134.3 L377.2 1135.5 L375.2 1136.6 L373.2 1137.6 L371.2 1138.6 L369.1 1139.5 L367.1 1140.2 L365 1140.9 L362.9 1141.5 L360.9 1142.1 L358.8 1142.5 L356.7 1142.8 L354.6 1143.1 L352.6 1143.2 L350.5 1143.3 L348.5 1143.3 L346.5 1143.2 L344.5 1143 L342.5 1142.7 L340.6 1142.3 L338.7 1141.8 L336.8 1141.2 L334.9 1140.5 L333.1 1139.8 L331.4 1139 L299.7 1123.6 L297.8 1122.6 L296 1121.5 L294.2 1120.3 L292.4 1119.1 L290.8 1117.8 L289.1 1116.4 L287.6 1114.9 L286 1113.4 L284.6 1111.8 L283.2 1110.1 L281.9 1108.4 L280.6 1106.6 L279.4 1104.8 L278.4 1102.8 L277.3 1100.9 L276.4 1098.9 L275.5 1096.9 L274.7 1094.8 L274 1092.7 L273.4 1090.5 L272.8 1088.4 L272.4 1086.2 L272 1083.9 L271.7 1081.7 L271.5 1079.4 L271.4 1077.1Z" fill="#fff" stroke="#000" stroke-width="1.6" stroke-linejoin="round" stroke-linecap="round"/>
<path d="M264 1066 L300 1082 L304 1100 L266 1082Z" fill="#fff" stroke="#000" stroke-width="1.5" stroke-linejoin="round" stroke-linecap="round"/>
<ellipse cx="360.1" cy="1084" rx="49.6" ry="62.1" fill="#fff" stroke="#000" stroke-width="1.8" transform="rotate(29.4 360.1 1084)"/>
<path d="M313 1111.2 L312.2 1108.4 L311.6 1105.6 L311.2 1102.8 L310.9 1100 L310.7 1097.2 L310.7 1094.5 L310.8 1091.8 L311 1089.2 L311.3 1086.6 L311.7 1084 L312.2 1081.5 L312.8 1079 L313.5 1076.6 L314.2 1074.2 L315 1071.9 L315.9 1069.6 L316.9 1067.4 L317.9 1065.2 L319 1063.1 L320.2 1060.9 L321.4 1058.9 L322.7 1056.8 L324.1 1054.8 L325.5 1052.9 L327 1050.9 L328.6 1049 L330.3 1047.2 L332.1 1045.4 L333.9 1043.6 L335.8 1041.9 L337.8 1040.3 L339.9 1038.7 L342.1 1037.2 L344.4 1035.7 L346.8 1034.4 L349.3 1033.1 L351.9 1032 L354.5 1031 L357.3 1030.1 L360.1 1029.3 L363 1028.8 L365.9 1028.4 L368.9 1028.2 L372 1028.2 L375 1028.5 L378 1029 L380.9 1029.7 L383.8 1030.7 L386.7 1031.9 L389.4 1033.3" fill="none" stroke="#000" stroke-width="1.4" stroke-linecap="round"/>
<ellipse cx="360.1" cy="1084" rx="37.6" ry="50" fill="none" stroke="#000" stroke-width="1.7" transform="rotate(29.4 360.1 1084)"/>
<path d="M373.3 1120.2 L371.5 1121.4 L369.7 1122.5 L367.7 1123.6 L365.7 1124.6 L363.6 1125.5 L361.5 1126.3 L359.2 1127 L356.9 1127.6 L354.5 1128 L352.1 1128.2 L349.7 1128.3 L347.2 1128.1 L344.8 1127.8 L342.4 1127.2 L340 1126.4 L337.8 1125.3 L335.6 1124.1 L333.6 1122.6 L331.8 1121 L330.1 1119.2 L328.6 1117.3 L327.2 1115.2 L326 1113.1 L325 1110.8 L324.2 1108.6 L323.5 1106.3 L323 1104 L322.6 1101.8 L322.4 1099.5 L322.2 1097.3 L322.2 1095.1 L322.3 1092.9 L322.4 1090.8 L322.7 1088.7 L323 1086.7 L323.3 1084.7 L323.8 1082.8 L324.3 1080.9 L324.8 1079.1 L325.4 1077.3 L326 1075.5 L326.7 1073.8 L327.5 1072.1" fill="none" stroke="#000" stroke-width="1.3" stroke-linecap="round"/>
<path d="M387.1 1037.2 L389.5 1038.8 L391.8 1040.5 L393.9 1042.5 L395.8 1044.6 L397.5 1046.9 L399 1049.3 L400.4 1051.7 L401.5 1054.3 L402.5 1056.9 L403.3 1059.5 L403.9 1062.1 L404.4 1064.8 L404.7 1067.4 L404.9 1070 L405 1072.5 L405 1075 L404.8 1077.5 L404.5 1079.9 L404.2 1082.3 L403.8 1084.7 L403.3 1087 L402.7 1089.2 L402 1091.4 L401.3 1093.5 L400.5 1095.7 L399.6 1097.7 L398.7 1099.7 L397.8 1101.7 L396.7 1103.7 L395.6 1105.6 L394.5 1107.5 L393.3 1109.4 L392 1111.2 L390.6 1113 L389.2 1114.7 L387.8 1116.4 L386.2 1118.1 L384.6 1119.8 L382.8 1121.4 L381.1 1123 L379.2 1124.5 L377.2 1126 L375.1 1127.4 L373 1128.7 L370.7 1129.9 L368.4 1131.1" fill="none" stroke="#000" stroke-width="1.2" stroke-linecap="round"/>
<line x1="331.5" y1="1124.8" x2="333.8" y2="1121.5" stroke="#000" stroke-width="1.3" stroke-linecap="round"/>
<line x1="322" y1="1111.4" x2="325.3" y2="1109" stroke="#000" stroke-width="1.3" stroke-linecap="round"/>
<line x1="319.2" y1="1096.1" x2="323" y2="1094.9" stroke="#000" stroke-width="1.3" stroke-linecap="round"/>
<line x1="320.8" y1="1082" x2="324.8" y2="1082.2" stroke="#000" stroke-width="1.3" stroke-linecap="round"/>
<line x1="325.2" y1="1069.8" x2="328.9" y2="1071.3" stroke="#000" stroke-width="1.3" stroke-linecap="round"/>
<line x1="331.7" y1="1058.9" x2="334.7" y2="1061.6" stroke="#000" stroke-width="1.3" stroke-linecap="round"/>
<line x1="340.5" y1="1049.1" x2="342.5" y2="1052.6" stroke="#000" stroke-width="1.3" stroke-linecap="round"/>
<line x1="352.5" y1="1041" x2="353.2" y2="1044.9" stroke="#000" stroke-width="1.3" stroke-linecap="round"/>
<line x1="367.8" y1="1036.8" x2="367.2" y2="1040.7" stroke="#000" stroke-width="1.3" stroke-linecap="round"/>
<line x1="384" y1="1040.1" x2="382.1" y2="1043.6" stroke="#000" stroke-width="1.3" stroke-linecap="round"/>
<line x1="395.8" y1="1051.7" x2="392.8" y2="1054.4" stroke="#000" stroke-width="1.3" stroke-linecap="round"/>
<line x1="400.7" y1="1066.9" x2="397" y2="1068.5" stroke="#000" stroke-width="1.3" stroke-linecap="round"/>
<line x1="400.3" y1="1081.5" x2="396.3" y2="1081.7" stroke="#000" stroke-width="1.3" stroke-linecap="round"/>
<line x1="396.7" y1="1094.3" x2="392.8" y2="1093.2" stroke="#000" stroke-width="1.3" stroke-linecap="round"/>
<line x1="390.9" y1="1105.6" x2="387.6" y2="1103.3" stroke="#000" stroke-width="1.3" stroke-linecap="round"/>
<ellipse cx="352.2" cy="1081" rx="19.5" ry="22.5" fill="none" stroke="#000" stroke-width="1.6"/>
<path d="M356.3 1083.3 L383 1049.5 L352.7 1080.1Z" fill="#fff" stroke="#000" stroke-width="1.3" stroke-linejoin="round" stroke-linecap="round"/>
<ellipse cx="354.5" cy="1081.7" rx="7" ry="8" fill="#fff" stroke="#000" stroke-width="1.7"/>
<text x="349.2" y="1049.3" font-size="10" text-anchor="middle" font-weight="bold">10</text>
<text x="368.7" y="1056.1" font-size="10" text-anchor="middle" font-weight="bold">20</text>
<text x="380" y="1074.1" font-size="10" text-anchor="middle" font-weight="bold">30</text>
<text x="371.7" y="1099.6" font-size="10" text-anchor="middle" font-weight="bold">40</text>
<text x="323.7" y="1092.1" font-size="10" text-anchor="middle" font-weight="bold">0</text>
<text x="334.2" y="1111.6" font-size="10" text-anchor="middle" font-weight="bold">20</text>
<text x="354.5" y="1122.5" font-size="11" text-anchor="middle" font-weight="bold">°C</text>
<ellipse cx="265" cy="1066" rx="4" ry="5" fill="#fff" stroke="#000" stroke-width="1.4"/>
<path d="M225.7 1488.5 L225.7 1486.7 L225.8 1484.8 L226 1483 L226.3 1481.2 L226.6 1479.3 L227 1477.5 L227.5 1475.7 L228 1473.9 L228.6 1472.1 L229.3 1470.4 L230 1468.7 L230.8 1467 L231.6 1465.3 L232.5 1463.6 L233.4 1462 L234.5 1460.5 L235.5 1458.9 L236.7 1457.5 L237.8 1456 L239 1454.6 L240.3 1453.3 L241.6 1452 L243 1450.7 L244.4 1449.5 L245.8 1448.4 L247.3 1447.3 L248.8 1446.3 L250.3 1445.4 L251.9 1444.5 L253.5 1443.6 L255.1 1442.9 L256.8 1442.2 L258.4 1441.6 L260.1 1441 L261.8 1440.5 L263.6 1440.1 L265.3 1439.7 L267 1439.5 L268.7 1439.3 L270.5 1439.1 L272.2 1439.1 L273.9 1439.1 L275.7 1439.2 L277.4 1439.3 L279.1 1439.5 L280.8 1439.8 L282.4 1440.2 L284.1 1440.7 L285.7 1441.2 L327.6 1456.1 L329.1 1456.7 L330.5 1457.3 L331.9 1458.1 L333.2 1458.9 L334.5 1459.7 L335.8 1460.6 L337 1461.6 L338.2 1462.7 L339.3 1463.8 L340.4 1465 L341.4 1466.2 L342.4 1467.5 L343.4 1468.8 L344.3 1470.2 L345.1 1471.6 L345.9 1473.1 L346.6 1474.6 L347.3 1476.2 L347.9 1477.8 L348.4 1479.5 L348.9 1481.2 L349.4 1482.9 L349.7 1484.6 L350 1486.4 L350.3 1488.2 L350.4 1490 L350.6 1491.8 L350.6 1493.7 L350.6 1495.5 L350.5 1497.4 L350.4 1499.3 L350.2 1501.2 L349.9 1503 L349.6 1504.9 L349.2 1506.8 L348.7 1508.7 L348.2 1510.5 L347.6 1512.4 L347 1514.2 L346.3 1516 L345.6 1517.8 L344.8 1519.6 L343.9 1521.3 L343 1523 L342 1524.7 L341 1526.4 L339.9 1528 L338.8 1529.5 L337.7 1531.1 L336.5 1532.5 L335.2 1534 L333.9 1535.3 L332.6 1536.7 L331.3 1538 L329.9 1539.2 L328.4 1540.3 L327 1541.4 L325.5 1542.5 L324 1543.5 L322.5 1544.4 L320.9 1545.2 L319.4 1546 L317.8 1546.7 L316.2 1547.4 L314.6 1548 L313 1548.5 L311.4 1548.9 L309.8 1549.3 L308.1 1549.6 L306.5 1549.8 L304.9 1549.9 L303.3 1550 L301.7 1550 L300.1 1549.9 L298.5 1549.8 L297 1549.5 L295.4 1549.2 L293.9 1548.9 L292.4 1548.4 L290.9 1547.9 L289.5 1547.3 L250.8 1529.7 L249.2 1529 L247.7 1528.2 L246.2 1527.4 L244.8 1526.5 L243.4 1525.5 L242 1524.4 L240.7 1523.3 L239.4 1522.2 L238.2 1521 L237 1519.7 L235.8 1518.4 L234.8 1517 L233.7 1515.6 L232.8 1514.2 L231.9 1512.7 L231 1511.1 L230.2 1509.6 L229.5 1507.9 L228.8 1506.3 L228.2 1504.6 L227.6 1502.9 L227.2 1501.2 L226.7 1499.4 L226.4 1497.6 L226.1 1495.8 L225.9 1494 L225.8 1492.2 L225.7 1490.4Z" fill="#fff" stroke="#000" stroke-width="1.6" stroke-linejoin="round" stroke-linecap="round"/>
<path d="M222.4 1466 L270 1483 L268 1497 L222 1479Z" fill="#fff" stroke="#000" stroke-width="1.5" stroke-linejoin="round" stroke-linecap="round"/>
<ellipse cx="309.3" cy="1502" rx="39.6" ry="49.4" fill="#fff" stroke="#000" stroke-width="1.8" transform="rotate(23.6 309.3 1502)"/>
<path d="M273.3 1522.8 L272.7 1520.6 L272.3 1518.5 L271.9 1516.3 L271.7 1514.2 L271.6 1512.1 L271.5 1510 L271.5 1508 L271.6 1506 L271.8 1504 L272.1 1502 L272.4 1500.1 L272.8 1498.2 L273.3 1496.3 L273.8 1494.4 L274.3 1492.6 L275 1490.8 L275.6 1489.1 L276.4 1487.3 L277.2 1485.6 L278 1483.9 L278.9 1482.3 L279.9 1480.6 L280.9 1479 L282 1477.4 L283.1 1475.8 L284.4 1474.3 L285.6 1472.8 L287 1471.3 L288.4 1469.8 L289.9 1468.4 L291.5 1467.1 L293.2 1465.8 L294.9 1464.5 L296.7 1463.3 L298.6 1462.2 L300.6 1461.2 L302.7 1460.3 L304.8 1459.4 L307 1458.8 L309.3 1458.2 L311.6 1457.8 L314 1457.6 L316.3 1457.5 L318.7 1457.6 L321.1 1457.9 L323.5 1458.4 L325.8 1459.1 L328 1460 L330.1 1461.1 L332.2 1462.4" fill="none" stroke="#000" stroke-width="1.4" stroke-linecap="round"/>
<ellipse cx="309.3" cy="1502" rx="27.5" ry="37.4" fill="none" stroke="#000" stroke-width="1.7" transform="rotate(23.6 309.3 1502)"/>
<path d="M319 1528.7 L317.7 1529.7 L316.4 1530.6 L315 1531.5 L313.5 1532.3 L311.9 1533 L310.3 1533.6 L308.6 1534.2 L306.9 1534.6 L305.1 1534.9 L303.3 1535 L301.5 1535 L299.7 1534.8 L298 1534.4 L296.2 1533.8 L294.6 1533.1 L293 1532.2 L291.5 1531.1 L290.2 1529.9 L289 1528.6 L287.8 1527.1 L286.9 1525.6 L286 1524.1 L285.3 1522.5 L284.7 1520.9 L284.2 1519.2 L283.8 1517.6 L283.5 1516 L283.2 1514.3 L283.1 1512.8 L283 1511.2 L283 1509.7 L283 1508.2 L283.1 1506.7 L283.3 1505.3 L283.5 1503.9 L283.7 1502.5 L284 1501.2 L284.3 1499.9 L284.6 1498.6 L285 1497.3 L285.4 1496.1 L285.8 1494.8 L286.3 1493.6" fill="none" stroke="#000" stroke-width="1.3" stroke-linecap="round"/>
<path d="M329.9 1466.3 L331.7 1467.6 L333.3 1469.1 L334.8 1470.7 L336.1 1472.4 L337.3 1474.2 L338.4 1476 L339.4 1477.9 L340.2 1479.9 L340.8 1481.8 L341.4 1483.8 L341.8 1485.8 L342.2 1487.7 L342.4 1489.7 L342.5 1491.6 L342.6 1493.5 L342.6 1495.3 L342.5 1497.2 L342.3 1499 L342.1 1500.8 L341.9 1502.5 L341.5 1504.2 L341.1 1505.9 L340.7 1507.5 L340.2 1509.2 L339.7 1510.8 L339.1 1512.3 L338.5 1513.9 L337.8 1515.4 L337.1 1516.9 L336.3 1518.4 L335.5 1519.9 L334.6 1521.4 L333.7 1522.8 L332.7 1524.2 L331.7 1525.6 L330.6 1527 L329.5 1528.4 L328.2 1529.7 L327 1531 L325.6 1532.3 L324.2 1533.5 L322.6 1534.7 L321 1535.9 L319.4 1537 L317.6 1538 L315.8 1538.9" fill="none" stroke="#000" stroke-width="1.2" stroke-linecap="round"/>
<line x1="288.2" y1="1532.1" x2="290.5" y2="1528.9" stroke="#000" stroke-width="1.3" stroke-linecap="round"/>
<line x1="281.8" y1="1521.8" x2="285.1" y2="1519.4" stroke="#000" stroke-width="1.3" stroke-linecap="round"/>
<line x1="280" y1="1510.6" x2="283.8" y2="1509.5" stroke="#000" stroke-width="1.3" stroke-linecap="round"/>
<line x1="281" y1="1500.6" x2="285" y2="1500.8" stroke="#000" stroke-width="1.3" stroke-linecap="round"/>
<line x1="283.8" y1="1491.6" x2="287.5" y2="1493.1" stroke="#000" stroke-width="1.3" stroke-linecap="round"/>
<line x1="288.2" y1="1483.4" x2="291.2" y2="1486.1" stroke="#000" stroke-width="1.3" stroke-linecap="round"/>
<line x1="294.6" y1="1475.7" x2="296.5" y2="1479.2" stroke="#000" stroke-width="1.3" stroke-linecap="round"/>
<line x1="303.5" y1="1469.2" x2="304.2" y2="1473.1" stroke="#000" stroke-width="1.3" stroke-linecap="round"/>
<line x1="315.2" y1="1466" x2="314.5" y2="1470" stroke="#000" stroke-width="1.3" stroke-linecap="round"/>
<line x1="327.1" y1="1469.3" x2="325.2" y2="1472.8" stroke="#000" stroke-width="1.3" stroke-linecap="round"/>
<line x1="335.2" y1="1478.5" x2="332.3" y2="1481.2" stroke="#000" stroke-width="1.3" stroke-linecap="round"/>
<line x1="338.4" y1="1489.7" x2="334.7" y2="1491.3" stroke="#000" stroke-width="1.3" stroke-linecap="round"/>
<line x1="338.1" y1="1500.2" x2="334.2" y2="1500.4" stroke="#000" stroke-width="1.3" stroke-linecap="round"/>
<line x1="335.9" y1="1509.5" x2="332" y2="1508.4" stroke="#000" stroke-width="1.3" stroke-linecap="round"/>
<line x1="332" y1="1517.9" x2="328.7" y2="1515.6" stroke="#000" stroke-width="1.3" stroke-linecap="round"/>
<path d="M310.1 1503.7 L324.8 1471 L305.9 1501.5Z" fill="#fff" stroke="#000" stroke-width="1.3" stroke-linejoin="round" stroke-linecap="round"/>
<ellipse cx="308" cy="1502.6" rx="10.5" ry="11.8" fill="#fff" stroke="#000" stroke-width="1.7"/>
<text x="306.8" y="1476.8" font-size="7.5" text-anchor="middle" font-weight="bold">10</text>
<text x="286.5" y="1488.7" font-size="7.5" text-anchor="middle" font-weight="bold">0</text>
<text x="325.3" y="1502.1" font-size="7.5" text-anchor="middle" font-weight="bold">30</text>
<text x="322" y="1485.2" font-size="7.5" text-anchor="middle" font-weight="bold">20</text>
<text x="284.8" y="1505.5" font-size="7.5" text-anchor="middle" font-weight="bold">80</text>
<text x="288.2" y="1522.4" font-size="7.5" text-anchor="middle" font-weight="bold">20</text>
<text x="322" y="1519" font-size="7.5" text-anchor="middle" font-weight="bold">40</text>
<text x="306.8" y="1527.8" font-size="8.5" text-anchor="middle" font-weight="bold">°C</text>
<ellipse cx="224" cy="1465" rx="3.5" ry="4.5" fill="#fff" stroke="#000" stroke-width="1.4"/>
<path d="M590.1 1249.3 L590.2 1246.8 L590.3 1244.4 L590.5 1241.9 L590.8 1239.5 L591.2 1237 L591.7 1234.6 L592.3 1232.2 L593 1229.8 L593.7 1227.5 L594.6 1225.1 L595.5 1222.8 L596.5 1220.5 L597.6 1218.3 L598.8 1216.1 L600.1 1213.9 L601.4 1211.8 L602.8 1209.7 L604.3 1207.7 L605.9 1205.8 L607.5 1203.9 L609.2 1202 L610.9 1200.3 L612.8 1198.6 L614.6 1197 L616.6 1195.4 L618.5 1193.9 L620.6 1192.5 L622.6 1191.2 L624.8 1190 L626.9 1188.8 L629.1 1187.7 L631.3 1186.8 L633.6 1185.9 L635.9 1185 L638.1 1184.3 L640.5 1183.7 L642.8 1183.2 L645.1 1182.8 L647.5 1182.4 L649.9 1182.2 L652.2 1182 L654.6 1182 L656.9 1182 L659.3 1182.2 L661.6 1182.4 L663.9 1182.8 L666.2 1183.2 L668.4 1183.7 L670.7 1184.3 L672.9 1185 L675 1185.8 L677.1 1186.7 L679.2 1187.7 L710.9 1203.4 L712.8 1204.3 L714.6 1205.4 L716.4 1206.5 L718.1 1207.7 L719.7 1209 L721.3 1210.4 L722.8 1211.9 L724.3 1213.4 L725.7 1215 L727 1216.7 L728.2 1218.5 L729.4 1220.3 L730.5 1222.2 L731.5 1224.2 L732.5 1226.2 L733.3 1228.2 L734.1 1230.4 L734.8 1232.5 L735.4 1234.7 L735.9 1237 L736.3 1239.3 L736.7 1241.6 L736.9 1244 L737.1 1246.4 L737.2 1248.8 L737.2 1251.2 L737.1 1253.7 L736.9 1256.2 L736.6 1258.7 L736.3 1261.1 L735.9 1263.6 L735.3 1266.1 L734.7 1268.6 L734 1271 L733.2 1273.5 L732.4 1275.9 L731.4 1278.4 L730.4 1280.8 L729.3 1283.1 L728.1 1285.4 L726.9 1287.7 L725.5 1290 L724.1 1292.2 L722.7 1294.4 L721.1 1296.5 L719.6 1298.6 L717.9 1300.6 L716.2 1302.5 L714.4 1304.4 L712.6 1306.2 L710.7 1308 L708.8 1309.7 L706.9 1311.3 L704.9 1312.8 L702.8 1314.3 L700.7 1315.7 L698.6 1317 L696.5 1318.2 L694.3 1319.3 L692.1 1320.3 L689.9 1321.3 L687.7 1322.1 L685.5 1322.9 L683.2 1323.6 L681 1324.2 L678.8 1324.6 L676.5 1325 L674.3 1325.3 L672 1325.5 L669.8 1325.6 L667.6 1325.6 L665.5 1325.5 L663.3 1325.3 L661.1 1325 L659 1324.6 L657 1324.1 L654.9 1323.5 L652.9 1322.8 L651 1322.1 L649.1 1321.2 L647.2 1320.3 L645.4 1319.2 L643.6 1318.1 L641.9 1316.9 L613.2 1296.2 L611.4 1294.8 L609.6 1293.4 L607.9 1291.8 L606.3 1290.2 L604.7 1288.5 L603.2 1286.7 L601.8 1284.9 L600.4 1283 L599.1 1281 L597.9 1279 L596.8 1277 L595.8 1274.8 L594.8 1272.7 L594 1270.5 L593.2 1268.2 L592.5 1266 L591.9 1263.7 L591.4 1261.3 L590.9 1258.9 L590.6 1256.5 L590.3 1254.1 L590.2 1251.7Z" fill="#fff" stroke="#000" stroke-width="1.6" stroke-linejoin="round" stroke-linecap="round"/>
<path d="M618 1195 L625 1182 L672 1198 L655 1207Z" fill="#fff" stroke="#000" stroke-width="1.5" stroke-linejoin="round" stroke-linecap="round"/>
<ellipse cx="680" cy="1262.3" rx="53.3" ry="66.6" fill="#fff" stroke="#000" stroke-width="1.8" transform="rotate(31.3 680 1262.3)"/>
<path d="M628.8 1291.9 L628 1288.8 L627.3 1285.8 L626.8 1282.7 L626.5 1279.7 L626.3 1276.7 L626.3 1273.7 L626.4 1270.8 L626.7 1267.9 L627 1265.1 L627.5 1262.3 L628 1259.6 L628.7 1256.9 L629.4 1254.3 L630.3 1251.7 L631.2 1249.2 L632.2 1246.8 L633.2 1244.4 L634.4 1242 L635.6 1239.7 L636.9 1237.4 L638.2 1235.2 L639.7 1233 L641.2 1230.9 L642.8 1228.8 L644.4 1226.7 L646.2 1224.7 L648 1222.8 L649.9 1220.8 L651.9 1219 L654 1217.2 L656.1 1215.4 L658.4 1213.8 L660.8 1212.2 L663.2 1210.6 L665.8 1209.2 L668.4 1207.9 L671.2 1206.6 L674 1205.6 L677 1204.6 L680 1203.8 L683.1 1203.2 L686.3 1202.8 L689.5 1202.5 L692.7 1202.5 L696 1202.8 L699.2 1203.2 L702.4 1204 L705.5 1204.9 L708.6 1206.2 L711.5 1207.7" fill="none" stroke="#000" stroke-width="1.4" stroke-linecap="round"/>
<ellipse cx="679" cy="1262.3" rx="41.7" ry="55.1" fill="none" stroke="#000" stroke-width="1.5" transform="rotate(31.3 679 1262.3)"/>
<ellipse cx="680" cy="1262.3" rx="39.2" ry="52.6" fill="none" stroke="#000" stroke-width="1.7" transform="rotate(31.3 680 1262.3)"/>
<path d="M693.7 1299.9 L691.9 1301.1 L689.9 1302.3 L687.9 1303.5 L685.9 1304.5 L683.7 1305.5 L681.4 1306.4 L679.1 1307.1 L676.7 1307.7 L674.2 1308.2 L671.7 1308.5 L669.1 1308.6 L666.5 1308.5 L663.9 1308.2 L661.4 1307.6 L658.9 1306.9 L656.5 1305.8 L654.2 1304.6 L652 1303.1 L650 1301.4 L648.2 1299.6 L646.6 1297.6 L645.1 1295.4 L643.8 1293.1 L642.8 1290.8 L641.9 1288.4 L641.2 1286 L640.6 1283.6 L640.2 1281.2 L639.9 1278.7 L639.8 1276.4 L639.8 1274 L639.9 1271.7 L640.1 1269.5 L640.4 1267.3 L640.7 1265.2 L641.2 1263.1 L641.6 1261.1 L642.2 1259.1 L642.8 1257.1 L643.5 1255.2 L644.2 1253.4 L644.9 1251.6 L645.7 1249.8" fill="none" stroke="#000" stroke-width="1.3" stroke-linecap="round"/>
<path d="M576 1247 L590 1250 L592 1270 L578 1268Z" fill="#fff" stroke="#000" stroke-width="1.4" stroke-linejoin="round" stroke-linecap="round"/>
<ellipse cx="578" cy="1258" rx="4" ry="10" fill="#fff" stroke="#000" stroke-width="1.4"/>
<line x1="573" y1="1248" x2="566" y2="1246" stroke="#000" stroke-width="1.3" stroke-linecap="round"/>
<line x1="573" y1="1268" x2="566" y2="1270" stroke="#000" stroke-width="1.3" stroke-linecap="round"/>
<path d="M641.3 1286.5 L640.7 1283.9 L640.2 1281.4 L640 1278.8 L639.8 1276.3 L639.8 1273.8 L639.9 1271.4 L640.1 1269 L640.5 1266.7 L640.9 1264.5 L641.3 1262.3 L641.9 1260.2 L642.5 1258.1 L643.2 1256.1 L643.9 1254.1 L644.7 1252.2 L645.5 1250.3 L646.4 1248.4 L647.3 1246.6 L648.3 1244.9 L649.3 1243.1 L664.9 1255.3 L664.5 1255.9 L664.1 1256.6 L663.8 1257.3 L663.4 1258 L663.1 1258.8 L662.7 1259.5 L662.4 1260.3 L662 1261.1 L661.7 1261.9 L661.4 1262.8 L661.1 1263.7 L660.7 1264.6 L660.4 1265.6 L660.2 1266.6 L659.9 1267.6 L659.6 1268.7 L659.4 1269.8 L659.2 1271 L659 1272.2 L658.9 1273.5Z" fill="#fff" stroke="#000" stroke-width="1.4" stroke-linejoin="round" stroke-linecap="round"/>
<line x1="640.5" y1="1283.3" x2="644.1" y2="1281.4" stroke="#000" stroke-width="1.2" stroke-linecap="round"/>
<line x1="639.9" y1="1272.3" x2="643.8" y2="1271.3" stroke="#000" stroke-width="1.2" stroke-linecap="round"/>
<line x1="641.3" y1="1262.3" x2="645.3" y2="1262.3" stroke="#000" stroke-width="1.2" stroke-linecap="round"/>
<line x1="644.2" y1="1253.4" x2="648.1" y2="1254.3" stroke="#000" stroke-width="1.2" stroke-linecap="round"/>
<line x1="648.1" y1="1245.3" x2="651.6" y2="1247.2" stroke="#000" stroke-width="1.2" stroke-linecap="round"/>
<text x="651" y="1254.2" font-size="6" text-anchor="middle" font-weight="bold">¼</text>
<text x="650" y="1276.2" font-size="6" text-anchor="middle" font-weight="bold">¾</text>
<rect x="650" y="1280" width="10" height="15" rx="0" fill="#000" stroke="#000" stroke-width="1.6" transform="rotate(20 655 1287.5)"/>
<path d="M716.3 1231.8 L717.4 1234.2 L718.3 1236.7 L719 1239.2 L719.5 1241.6 L719.9 1244.1 L720.1 1246.6 L720.2 1249 L720.2 1251.4 L720 1253.7 L719.8 1256 L719.5 1258.2 L719.1 1260.4 L718.6 1262.5 L718.1 1264.6 L717.5 1266.6 L716.8 1268.5 L716.1 1270.4 L715.4 1272.3 L714.6 1274.1 L713.7 1275.9 L698.1 1268.2 L698.5 1267.4 L698.9 1266.5 L699.3 1265.7 L699.7 1264.8 L700.1 1263.9 L700.4 1262.9 L700.8 1262 L701.1 1261 L701.4 1259.9 L701.8 1258.9 L702.1 1257.7 L702.3 1256.6 L702.6 1255.4 L702.8 1254.1 L703 1252.8 L703.1 1251.4 L703.2 1250 L703.2 1248.6 L703.1 1247.1 L703 1245.6Z" fill="#fff" stroke="#000" stroke-width="1.4" stroke-linejoin="round" stroke-linecap="round"/>
<line x1="718.2" y1="1236.5" x2="714.9" y2="1238.7" stroke="#000" stroke-width="1.2" stroke-linecap="round"/>
<line x1="720.1" y1="1246.5" x2="716.4" y2="1248" stroke="#000" stroke-width="1.2" stroke-linecap="round"/>
<line x1="719.8" y1="1256" x2="715.9" y2="1256.6" stroke="#000" stroke-width="1.2" stroke-linecap="round"/>
<line x1="718.1" y1="1264.6" x2="714.1" y2="1264.4" stroke="#000" stroke-width="1.2" stroke-linecap="round"/>
<line x1="715.3" y1="1272.4" x2="711.5" y2="1271.3" stroke="#000" stroke-width="1.2" stroke-linecap="round"/>
<text x="707" y="1247.2" font-size="6" text-anchor="middle" font-weight="bold">8</text>
<text x="708" y="1260.2" font-size="6" text-anchor="middle" font-weight="bold">6</text>
<rect x="703" y="1268" width="11" height="7" rx="0" fill="none" stroke="#000" stroke-width="1.3" transform="rotate(-30 708.5 1271.5)"/>
<ellipse cx="680" cy="1263.7" rx="7.5" ry="8.5" fill="none" stroke="#000" stroke-width="1.8"/>
<text x="680.9" y="1283.2" font-size="6" text-anchor="middle" font-weight="bold">vvn</text>
<text x="694" y="1256.9" font-size="8" text-anchor="middle" font-weight="bold">8</text>
<text x="694" y="1270.8" font-size="5" text-anchor="middle" font-weight="bold">6</text>
<text x="664" y="1258.7" font-size="5.5" text-anchor="middle" font-weight="bold">T</text>
<text x="664" y="1264.2" font-size="5.5" text-anchor="middle" font-weight="bold">A</text>
<text x="664" y="1269.7" font-size="5.5" text-anchor="middle" font-weight="bold">N</text>
<text x="664" y="1275.2" font-size="5.5" text-anchor="middle" font-weight="bold">K</text>
<path d="M850.5 1162.6 L850.6 1160.2 L850.7 1157.8 L851 1155.5 L851.3 1153.1 L851.8 1150.8 L852.3 1148.5 L852.9 1146.2 L853.6 1143.9 L854.4 1141.6 L855.2 1139.4 L856.2 1137.2 L857.2 1135 L858.3 1132.9 L859.5 1130.9 L860.8 1128.9 L862.2 1126.9 L863.6 1125 L865.1 1123.1 L866.7 1121.3 L868.4 1119.6 L870.1 1118 L871.8 1116.4 L873.7 1114.8 L875.5 1113.4 L877.5 1112 L879.5 1110.7 L881.5 1109.5 L883.6 1108.3 L885.8 1107.3 L887.9 1106.3 L890.1 1105.4 L892.4 1104.6 L894.6 1103.9 L896.9 1103.3 L899.2 1102.8 L901.5 1102.3 L903.9 1102 L906.2 1101.7 L908.6 1101.5 L910.9 1101.5 L913.3 1101.5 L915.6 1101.6 L918 1101.8 L920.3 1102.1 L922.7 1102.5 L925 1103 L960.6 1111.4 L962.6 1112 L964.7 1112.7 L966.7 1113.5 L968.6 1114.4 L970.5 1115.4 L972.4 1116.4 L974.2 1117.6 L975.9 1118.8 L977.6 1120.2 L979.2 1121.6 L980.8 1123.1 L982.3 1124.7 L983.7 1126.3 L985 1128 L986.3 1129.8 L987.5 1131.7 L988.6 1133.6 L989.6 1135.6 L990.6 1137.7 L991.5 1139.8 L992.2 1142 L992.9 1144.2 L993.5 1146.4 L994.1 1148.7 L994.5 1151.1 L994.9 1153.5 L995.1 1155.9 L995.3 1158.3 L995.4 1160.8 L995.4 1163.3 L995.3 1165.8 L995.1 1168.3 L994.8 1170.8 L994.5 1173.4 L994 1175.9 L993.5 1178.4 L992.8 1181 L992.1 1183.5 L991.3 1186 L990.4 1188.5 L989.5 1191 L988.4 1193.4 L987.3 1195.8 L986.1 1198.2 L984.8 1200.5 L983.5 1202.8 L982 1205.1 L980.5 1207.3 L979 1209.5 L977.3 1211.5 L975.6 1213.6 L973.9 1215.6 L972.1 1217.5 L970.2 1219.4 L968.3 1221.2 L966.4 1222.9 L964.4 1224.5 L962.3 1226.1 L960.2 1227.6 L958.1 1229 L956 1230.3 L953.8 1231.5 L951.6 1232.7 L949.3 1233.7 L947.1 1234.7 L944.8 1235.6 L942.5 1236.4 L940.2 1237 L938 1237.6 L935.7 1238.1 L933.4 1238.5 L931.1 1238.8 L928.8 1239 L926.5 1239.1 L924.3 1239.1 L922.1 1239 L919.9 1238.8 L917.7 1238.5 L915.5 1238.1 L913.4 1237.6 L911.4 1237 L909.3 1236.3 L907.3 1235.5 L905.4 1234.6 L903.5 1233.6 L901.6 1232.6 L899.8 1231.4 L898.1 1230.2 L896.4 1228.8 L873.2 1209.9 L871.4 1208.5 L869.6 1206.9 L867.9 1205.2 L866.3 1203.6 L864.8 1201.8 L863.3 1200 L861.8 1198.1 L860.5 1196.2 L859.2 1194.2 L858.1 1192.1 L857 1190 L855.9 1187.9 L855 1185.7 L854.1 1183.5 L853.4 1181.3 L852.7 1179 L852.1 1176.7 L851.6 1174.4 L851.2 1172.1 L850.9 1169.7 L850.7 1167.3 L850.6 1165Z" fill="#fff" stroke="#000" stroke-width="1.6" stroke-linejoin="round" stroke-linecap="round"/>
<path d="M853.4 1167.4 L878.7 1178.7 L877.3 1192.7 L856.2 1182.9Z" fill="#fff" stroke="#000" stroke-width="1.5" stroke-linejoin="round" stroke-linecap="round"/>
<ellipse cx="937" cy="1174.5" rx="54.4" ry="68" fill="#fff" stroke="#000" stroke-width="1.8" transform="rotate(31.4 937 1174.5)"/>
<path d="M884.7 1204.7 L883.8 1201.6 L883.1 1198.5 L882.6 1195.4 L882.3 1192.3 L882.1 1189.2 L882.1 1186.2 L882.2 1183.2 L882.5 1180.2 L882.8 1177.3 L883.3 1174.5 L883.9 1171.7 L884.6 1169 L885.3 1166.3 L886.2 1163.7 L887.1 1161.1 L888.1 1158.6 L889.2 1156.2 L890.4 1153.7 L891.6 1151.4 L892.9 1149.1 L894.3 1146.8 L895.8 1144.6 L897.3 1142.4 L898.9 1140.2 L900.6 1138.1 L902.4 1136.1 L904.3 1134.1 L906.2 1132.1 L908.3 1130.2 L910.4 1128.4 L912.6 1126.6 L914.9 1124.9 L917.3 1123.3 L919.8 1121.7 L922.5 1120.2 L925.2 1118.9 L928 1117.6 L930.9 1116.5 L933.9 1115.5 L937 1114.7 L940.2 1114.1 L943.4 1113.7 L946.7 1113.4 L950 1113.4 L953.3 1113.7 L956.6 1114.1 L959.9 1114.9 L963.1 1115.9 L966.2 1117.1 L969.2 1118.7" fill="none" stroke="#000" stroke-width="1.4" stroke-linecap="round"/>
<ellipse cx="937" cy="1174.5" rx="40.8" ry="54.4" fill="none" stroke="#000" stroke-width="1.7" transform="rotate(31.4 937 1174.5)"/>
<path d="M951.3 1213.7 L949.4 1215 L947.4 1216.2 L945.3 1217.4 L943.1 1218.5 L940.8 1219.5 L938.5 1220.3 L936.1 1221.1 L933.5 1221.7 L931 1222.2 L928.3 1222.5 L925.7 1222.6 L923 1222.5 L920.3 1222.1 L917.7 1221.6 L915.1 1220.7 L912.6 1219.7 L910.2 1218.4 L908 1216.9 L905.9 1215.1 L904 1213.2 L902.3 1211.1 L900.7 1208.9 L899.4 1206.6 L898.3 1204.1 L897.3 1201.7 L896.6 1199.2 L896 1196.6 L895.6 1194.1 L895.3 1191.6 L895.1 1189.2 L895.1 1186.7 L895.2 1184.3 L895.4 1182 L895.7 1179.7 L896 1177.5 L896.5 1175.3 L897 1173.2 L897.5 1171.1 L898.2 1169.1 L898.8 1167.1 L899.6 1165.2 L900.4 1163.3 L901.2 1161.5" fill="none" stroke="#000" stroke-width="1.3" stroke-linecap="round"/>
<ellipse cx="892.7" cy="1102.8" rx="5" ry="6.5" fill="#fff" stroke="#000" stroke-width="1.4"/>
<ellipse cx="862" cy="1122" rx="4" ry="5.5" fill="#fff" stroke="#000" stroke-width="1.4"/>
<path d="M888 1096 L888 1095.8 L888 1095.7 L888 1095.5 L888.1 1095.4 L888.1 1095.2 L888.2 1095.1 L888.3 1094.9 L888.3 1094.8 L888.4 1094.6 L888.5 1094.5 L888.6 1094.4 L888.8 1094.2 L888.9 1094.1 L889 1094 L889.2 1093.9 L889.3 1093.8 L889.5 1093.7 L889.6 1093.6 L889.8 1093.5 L890 1093.4 L890.2 1093.3 L890.4 1093.3 L890.6 1093.2 L890.8 1093.1 L891 1093.1 L891.2 1093.1 L891.4 1093 L891.6 1093 L891.8 1093 L892 1093 L892.2 1093 L892.4 1093 L892.6 1093 L892.8 1093.1 L893 1093.1 L893.2 1093.1 L893.4 1093.2 L893.6 1093.3 L893.8 1093.3 L894 1093.4 L894.2 1093.5 L894.4 1093.6 L894.5 1093.7 L894.7 1093.8 L894.8 1093.9 L895 1094 L895.1 1094.1 L895.2 1094.2 L895.4 1094.4 L895.5 1094.5 L895.6 1094.6 L895.7 1094.8 L895.7 1094.9 L895.8 1095.1 L895.9 1095.2 L895.9 1095.4 L896 1095.5 L896 1095.7 L896 1095.8 L896 1096" fill="none" stroke="#000" stroke-width="1.3" stroke-linecap="round"/>
<line x1="981" y1="1175.3" x2="974" y2="1175.3" stroke="#000" stroke-width="1.5" stroke-linecap="round"/>
<line x1="972.8" y1="1195.7" x2="966.8" y2="1192.2" stroke="#000" stroke-width="1.5" stroke-linecap="round"/>
<line x1="959" y1="1212.6" x2="955.5" y2="1206.5" stroke="#000" stroke-width="1.5" stroke-linecap="round"/>
<line x1="937.5" y1="1224.8" x2="937.5" y2="1217.8" stroke="#000" stroke-width="1.5" stroke-linecap="round"/>
<line x1="910.3" y1="1222.4" x2="913.8" y2="1216.4" stroke="#000" stroke-width="1.5" stroke-linecap="round"/>
<line x1="894.1" y1="1200.4" x2="900.2" y2="1196.9" stroke="#000" stroke-width="1.5" stroke-linecap="round"/>
<line x1="894" y1="1175.3" x2="901" y2="1175.3" stroke="#000" stroke-width="1.5" stroke-linecap="round"/>
<line x1="902.2" y1="1154.9" x2="908.2" y2="1158.4" stroke="#000" stroke-width="1.5" stroke-linecap="round"/>
<line x1="916" y1="1138" x2="919.5" y2="1144.1" stroke="#000" stroke-width="1.5" stroke-linecap="round"/>
<line x1="937.5" y1="1125.8" x2="937.5" y2="1132.8" stroke="#000" stroke-width="1.5" stroke-linecap="round"/>
<line x1="964.7" y1="1128.2" x2="961.2" y2="1134.2" stroke="#000" stroke-width="1.5" stroke-linecap="round"/>
<line x1="980.9" y1="1150.2" x2="974.8" y2="1153.7" stroke="#000" stroke-width="1.5" stroke-linecap="round"/>
<text x="939.1" y="1143.3" font-size="11" text-anchor="middle" font-weight="bold">12</text>
<text x="968.6" y="1172.8" font-size="11" text-anchor="middle" font-weight="bold">3</text>
<text x="936.3" y="1216.4" font-size="11" text-anchor="middle" font-weight="bold">6</text>
<text x="908.2" y="1188.3" font-size="11" text-anchor="middle" font-weight="bold">9</text>
<path d="M921.6 1134.3 L946.9 1217.2 L951.1 1216 L925.8 1133.1Z" fill="#fff" stroke="#000" stroke-width="1.4" stroke-linejoin="round" stroke-linecap="round"/>
<path d="M939.1 1176.3 L909.6 1193.1 L912.4 1197.9 L941.9 1181.1Z" fill="#fff" stroke="#000" stroke-width="1.4" stroke-linejoin="round" stroke-linecap="round"/>
<ellipse cx="941" cy="1178" rx="6" ry="7.5" fill="#fff" stroke="#000" stroke-width="1.6"/>
<ellipse cx="948" cy="1181" rx="4.5" ry="4" fill="#fff" stroke="#000" stroke-width="1.4"/>
<text x="955" y="1172.5" font-size="7" text-anchor="middle" font-weight="bold">r</text>
<path d="M595.6 1464.2 L595.7 1461.6 L595.8 1459 L596 1456.4 L596.4 1453.8 L596.8 1451.2 L597.3 1448.7 L597.9 1446.1 L598.6 1443.5 L599.4 1441 L600.3 1438.4 L601.3 1435.9 L602.4 1433.4 L603.5 1431 L604.8 1428.6 L606.1 1426.2 L607.5 1423.9 L609 1421.7 L610.5 1419.4 L612.2 1417.3 L613.9 1415.2 L615.6 1413.1 L617.5 1411.2 L619.4 1409.2 L621.4 1407.4 L623.4 1405.7 L625.5 1404 L627.6 1402.3 L629.7 1400.8 L632 1399.4 L634.2 1398 L636.5 1396.8 L638.8 1395.6 L641.2 1394.5 L643.6 1393.5 L646 1392.6 L648.4 1391.8 L650.9 1391.1 L653.3 1390.5 L655.8 1390 L658.3 1389.6 L660.7 1389.3 L663.2 1389.1 L665.6 1389 L668.1 1389 L670.5 1389.1 L672.9 1389.3 L675.3 1389.6 L677.7 1390 L680 1390.5 L682.3 1391.2 L684.6 1391.9 L686.8 1392.7 L689 1393.6 L691.1 1394.6 L693.2 1395.7 L695.2 1396.8 L697.2 1398.1 L722.2 1415.5 L723.9 1416.7 L725.6 1418 L727.2 1419.4 L728.7 1420.9 L730.2 1422.5 L731.6 1424.1 L732.9 1425.8 L734.2 1427.6 L735.4 1429.5 L736.5 1431.4 L737.5 1433.4 L738.4 1435.4 L739.3 1437.5 L740 1439.7 L740.7 1441.9 L741.3 1444.1 L741.8 1446.4 L742.2 1448.8 L742.6 1451.1 L742.8 1453.5 L743 1455.9 L743 1458.4 L743 1460.8 L742.8 1463.3 L742.6 1465.8 L742.3 1468.3 L741.9 1470.8 L741.4 1473.4 L740.8 1475.9 L740.2 1478.4 L739.4 1480.9 L738.6 1483.3 L737.7 1485.8 L736.7 1488.2 L735.6 1490.7 L734.4 1493 L733.2 1495.4 L731.9 1497.7 L730.5 1500 L729 1502.2 L727.5 1504.4 L725.9 1506.5 L724.2 1508.6 L722.5 1510.7 L720.7 1512.6 L718.9 1514.5 L717 1516.3 L715 1518.1 L713 1519.8 L711 1521.4 L708.9 1523 L706.8 1524.4 L704.6 1525.8 L702.4 1527.1 L700.2 1528.3 L698 1529.5 L695.7 1530.5 L693.4 1531.4 L691.1 1532.3 L688.8 1533.1 L686.5 1533.7 L684.2 1534.3 L681.9 1534.8 L679.6 1535.2 L677.3 1535.4 L675 1535.6 L672.7 1535.7 L670.4 1535.7 L668.2 1535.6 L666 1535.3 L663.8 1535 L661.6 1534.6 L659.5 1534.1 L657.4 1533.5 L655.4 1532.8 L653.4 1532 L651.4 1531.2 L649.5 1530.2 L647.6 1529.1 L621.7 1513.6 L619.7 1512.3 L617.8 1511 L616 1509.5 L614.2 1508 L612.5 1506.4 L610.8 1504.7 L609.2 1502.9 L607.8 1501.1 L606.3 1499.2 L605 1497.2 L603.7 1495.2 L602.6 1493 L601.5 1490.9 L600.5 1488.7 L599.6 1486.4 L598.8 1484.1 L598 1481.7 L597.4 1479.3 L596.9 1476.9 L596.4 1474.4 L596.1 1471.9 L595.8 1469.3 L595.7 1466.8Z" fill="#fff" stroke="#000" stroke-width="1.6" stroke-linejoin="round" stroke-linecap="round"/>
<path d="M650 1394 L657 1388 L700 1405 L690 1411Z" fill="#fff" stroke="#000" stroke-width="1.5" stroke-linejoin="round" stroke-linecap="round"/>
<ellipse cx="684" cy="1471.7" rx="54.4" ry="68" fill="#fff" stroke="#000" stroke-width="1.8" transform="rotate(34.1 684 1471.7)"/>
<path d="M631.1 1502.2 L630.2 1499.1 L629.5 1495.9 L629 1492.8 L628.7 1489.7 L628.5 1486.6 L628.5 1483.5 L628.6 1480.5 L628.9 1477.5 L629.3 1474.6 L629.8 1471.7 L630.4 1468.9 L631.2 1466.1 L632 1463.5 L632.9 1460.8 L633.9 1458.3 L634.9 1455.8 L636.1 1453.3 L637.3 1450.9 L638.6 1448.5 L639.9 1446.2 L641.3 1444 L642.9 1441.8 L644.4 1439.7 L646.1 1437.6 L647.8 1435.5 L649.6 1433.5 L651.5 1431.5 L653.4 1429.6 L655.5 1427.8 L657.6 1426 L659.8 1424.3 L662.1 1422.6 L664.5 1421 L667 1419.5 L669.6 1418.1 L672.3 1416.7 L675.1 1415.5 L678 1414.4 L680.9 1413.5 L684 1412.6 L687.1 1412 L690.3 1411.5 L693.6 1411.3 L696.9 1411.2 L700.2 1411.4 L703.5 1411.8 L706.7 1412.4 L710 1413.4 L713.1 1414.5 L716.2 1416" fill="none" stroke="#000" stroke-width="1.4" stroke-linecap="round"/>
<ellipse cx="686" cy="1471.7" rx="38.2" ry="51.9" fill="none" stroke="#000" stroke-width="1.7" transform="rotate(34.1 686 1471.7)"/>
<path d="M699.2 1507.9 L697.4 1509.1 L695.6 1510.2 L693.7 1511.3 L691.6 1512.4 L689.6 1513.3 L687.4 1514.2 L685.1 1515 L682.8 1515.6 L680.4 1516.1 L677.9 1516.5 L675.4 1516.7 L672.9 1516.7 L670.3 1516.5 L667.8 1516 L665.3 1515.4 L662.9 1514.5 L660.6 1513.4 L658.4 1512 L656.3 1510.4 L654.5 1508.7 L652.8 1506.7 L651.3 1504.6 L650 1502.4 L648.9 1500.1 L648 1497.7 L647.3 1495.3 L646.7 1492.9 L646.3 1490.5 L646.1 1488.1 L646 1485.7 L646 1483.4 L646.2 1481.1 L646.4 1478.8 L646.7 1476.7 L647.1 1474.5 L647.6 1472.5 L648.1 1470.5 L648.7 1468.5 L649.4 1466.6 L650.1 1464.8 L650.8 1463 L651.6 1461.2 L652.5 1459.5" fill="none" stroke="#000" stroke-width="1.3" stroke-linecap="round"/>
<ellipse cx="616.3" cy="1406.5" rx="6.5" ry="8.5" fill="#fff" stroke="#000" stroke-width="1.4"/>
<path d="M658.2 1450 L659.9 1447.9 L661.6 1445.8 L663.4 1443.8 L665.3 1441.8 L667.4 1439.9 L669.6 1438 L671.9 1436.2 L674.4 1434.5 L677 1432.8 L679.8 1431.3 L682.8 1429.9 L686 1428.7 L689.3 1427.8 L692.8 1427.1 L696.4 1426.7 L700 1426.8 L703.7 1427.2 L707.2 1428.2 L710.6 1429.6 L713.8 1431.5 L716.6 1433.9 L719.1 1436.6 L721.2 1439.6 L722.9 1442.9 L703 1443 L661 1453Z" fill="#fff" stroke="#000" stroke-width="1.4" stroke-linejoin="round" stroke-linecap="round"/>
<line x1="661" y1="1441" x2="674" y2="1450" stroke="#000" stroke-width="2.6" stroke-linecap="round"/>
<text x="671" y="1446.2" font-size="6" text-anchor="middle" font-weight="bold">¼</text>
<text x="690" y="1441.2" font-size="6" text-anchor="middle" font-weight="bold">½</text>
<text x="700" y="1439.2" font-size="6" text-anchor="middle" font-weight="bold">¾</text>
<line x1="666" y1="1436" x2="668" y2="1440" stroke="#000" stroke-width="1.2" stroke-linecap="round"/>
<line x1="684" y1="1432" x2="684" y2="1436" stroke="#000" stroke-width="1.2" stroke-linecap="round"/>
<line x1="699" y1="1432" x2="697" y2="1436" stroke="#000" stroke-width="1.2" stroke-linecap="round"/>
<text x="688.2" y="1459.4" font-size="8" text-anchor="middle" font-weight="bold">TANK</text>
<ellipse cx="684.5" cy="1473.6" rx="8.5" ry="9.5" fill="none" stroke="#000" stroke-width="1.7"/>
<text x="686.5" y="1491.6" font-size="6" text-anchor="middle" font-weight="bold">LLI</text>
<path d="M649.8 1502.1 L651.6 1505.1 L653.8 1507.9 L656.3 1510.4 L659.2 1512.5 L662.3 1514.2 L665.6 1515.5 L669 1516.3 L672.5 1516.7 L676 1516.6 L679.5 1516.3 L682.8 1515.6 L686 1514.7 L689 1513.5 L691.9 1512.2 L694.7 1510.8 L697.2 1509.2 L699.6 1507.5 L701.9 1505.8 L704 1504 L706.1 1502.2 L707.9 1500.3 L709.7 1498.4 L711.4 1496.4 L713 1494.4 L705 1492 L666 1500.5Z" fill="#fff" stroke="#000" stroke-width="1.4" stroke-linejoin="round" stroke-linecap="round"/>
<path d="M712 601.5 C703.3 604.7 674.9 615.1 660 620.6 C645.1 626.1 632.8 631.3 622.5 634.5 C612.2 637.7 604.9 638 598 640 C591.1 642 586.3 643.6 581 646.5 C575.7 649.4 570.7 653.2 566 657.5 C561.3 661.8 557 666.9 553 672.5 C549 678.1 545.1 684.7 542 691 C538.9 697.3 536.3 703.5 534.5 710.5 C532.7 717.5 531.7 725.4 531 733 C530.3 740.6 530.4 748.3 530.5 756 C530.6 763.7 530.8 771.7 531.5 779 C532.2 786.3 532.6 793.2 535 800 C537.4 806.8 540.8 813.7 546 820 C551.2 826.3 557.7 832.5 566 838 C574.3 843.5 591 850.5 596 853" fill="none" stroke="#000" stroke-width="7.5" stroke-linecap="butt" stroke-linejoin="round"/>
<path d="M712 601.5 C703.3 604.7 674.9 615.1 660 620.6 C645.1 626.1 632.8 631.3 622.5 634.5 C612.2 637.7 604.9 638 598 640 C591.1 642 586.3 643.6 581 646.5 C575.7 649.4 570.7 653.2 566 657.5 C561.3 661.8 557 666.9 553 672.5 C549 678.1 545.1 684.7 542 691 C538.9 697.3 536.3 703.5 534.5 710.5 C532.7 717.5 531.7 725.4 531 733 C530.3 740.6 530.4 748.3 530.5 756 C530.6 763.7 530.8 771.7 531.5 779 C532.2 786.3 532.6 793.2 535 800 C537.4 806.8 540.8 813.7 546 820 C551.2 826.3 557.7 832.5 566 838 C574.3 843.5 591 850.5 596 853" fill="none" stroke="#fff" stroke-width="4.5" stroke-linecap="butt" stroke-linejoin="round"/>
<path d="M601 856.5 L700 913.5 L800 971 L828 987.5" fill="none" stroke="#000" stroke-width="7.5" stroke-linecap="butt" stroke-linejoin="round"/>
<path d="M601 856.5 L700 913.5 L800 971 L828 987.5" fill="none" stroke="#fff" stroke-width="4.5" stroke-linecap="butt" stroke-linejoin="round"/>
<line x1="697" y1="604.2" x2="698" y2="610.8" stroke="#000" stroke-width="1.2" stroke-linecap="round"/>
<line x1="700" y1="603.2" x2="701" y2="609.8" stroke="#000" stroke-width="1.2" stroke-linecap="round"/>
<line x1="703" y1="602.3" x2="704" y2="608.9" stroke="#000" stroke-width="1.2" stroke-linecap="round"/>
<line x1="706" y1="601.4" x2="707" y2="607.9" stroke="#000" stroke-width="1.2" stroke-linecap="round"/>
<line x1="709" y1="600.4" x2="710" y2="607" stroke="#000" stroke-width="1.2" stroke-linecap="round"/>
<line x1="712" y1="599.5" x2="713" y2="606" stroke="#000" stroke-width="1.2" stroke-linecap="round"/>
<line x1="715" y1="598.5" x2="716" y2="605.1" stroke="#000" stroke-width="1.2" stroke-linecap="round"/>
<ellipse cx="717.5" cy="599.5" rx="2.2" ry="3.6" fill="#fff" stroke="#000" stroke-width="1.2" transform="rotate(-17 717.5 599.5)"/>
<path d="M823 981.5 L834 987.5 L831 994 L820 988Z" fill="#fff" stroke="#000" stroke-width="1.4" stroke-linejoin="round" stroke-linecap="round"/>
<ellipse cx="844" cy="998" rx="12.5" ry="9.5" fill="#fff" stroke="#000" stroke-width="1.6" transform="rotate(32 844 998)"/>
<line x1="835" y1="995" x2="843" y2="1000" stroke="#000" stroke-width="1.4" stroke-linecap="round"/>
<line x1="843" y1="1000" x2="852" y2="996" stroke="#000" stroke-width="1.4" stroke-linecap="round"/>
<circle cx="806" cy="974" r="1.1" fill="#000"/>
<circle cx="810.5" cy="976.6" r="1.1" fill="#000"/>
<circle cx="815" cy="979.2" r="1.1" fill="#000"/>
<circle cx="819.5" cy="981.8" r="1.1" fill="#000"/>
<path d="M694 643 C685.2 646.1 654.3 656.6 641 661.5 C627.7 666.4 621.9 668.1 614 672.5 C606.1 676.9 599.4 682.3 593.5 688 C587.6 693.7 582.4 700.2 578.5 706.5 C574.6 712.8 571.8 719.2 570 725.5 C568.2 731.8 568.2 739.4 568 744 C567.8 748.6 567.8 750 569 753 C570.2 756 572 759.3 575.5 762 C579 764.7 582.2 765.9 590 769 C597.8 772.1 610.1 775.9 622.5 780.5 C634.9 785.1 638.6 783.9 664.5 796.5 C690.4 809.1 759.1 846.1 778 856" fill="none" stroke="#000" stroke-width="12.5" stroke-linecap="butt" stroke-linejoin="round"/>
<path d="M694 643 C685.2 646.1 654.3 656.6 641 661.5 C627.7 666.4 621.9 668.1 614 672.5 C606.1 676.9 599.4 682.3 593.5 688 C587.6 693.7 582.4 700.2 578.5 706.5 C574.6 712.8 571.8 719.2 570 725.5 C568.2 731.8 568.2 739.4 568 744 C567.8 748.6 567.8 750 569 753 C570.2 756 572 759.3 575.5 762 C579 764.7 582.2 765.9 590 769 C597.8 772.1 610.1 775.9 622.5 780.5 C634.9 785.1 638.6 783.9 664.5 796.5 C690.4 809.1 759.1 846.1 778 856" fill="none" stroke="#fff" stroke-width="9.5" stroke-linecap="butt" stroke-linejoin="round"/>
<path d="M787 866 L912 939.5" fill="none" stroke="#000" stroke-width="12.5" stroke-linecap="butt" stroke-linejoin="round"/>
<path d="M787 866 L912 939.5" fill="none" stroke="#fff" stroke-width="9.5" stroke-linecap="butt" stroke-linejoin="round"/>
<path d="M782.1 851.3 L782.2 851.3 L782.3 851.4 L782.4 851.6 L782.5 851.7 L782.6 851.8 L782.7 852 L782.8 852.1 L782.9 852.3 L782.9 852.5 L783 852.7 L783 853 L783 853.2 L783 853.4 L783 853.7 L783 853.9 L783 854.2 L783 854.5 L782.9 854.8 L782.9 855.1 L782.8 855.4 L782.7 855.6 L782.7 856 L782.6 856.3 L782.5 856.6 L782.3 856.9 L782.2 857.2 L782.1 857.5 L782 857.8 L781.8 858.1 L781.6 858.4 L781.5 858.7 L781.3 859 L781.1 859.3 L781 859.6 L780.8 859.8 L780.6 860.1 L780.4 860.4 L780.2 860.6 L780 860.9 L779.8 861.1 L779.6 861.3 L779.3 861.5 L779.1 861.7 L778.9 861.9 L778.7 862.1 L778.5 862.2 L778.3 862.3 L778.1 862.5 L777.9 862.6 L777.7 862.7 L777.5 862.8 L777.3 862.8 L777.1 862.9 L776.9 862.9 L776.7 862.9 L776.6 862.9 L776.4 862.9 L776.2 862.9 L776.1 862.8 L775.9 862.7" fill="none" stroke="#000" stroke-width="1.4" stroke-linecap="round"/>
<path d="M783.4 871.7 L783.3 871.7 L783.2 871.6 L783.1 871.4 L783 871.3 L782.9 871.2 L782.8 871 L782.7 870.9 L782.6 870.7 L782.6 870.5 L782.5 870.3 L782.5 870 L782.5 869.8 L782.5 869.6 L782.5 869.3 L782.5 869.1 L782.5 868.8 L782.5 868.5 L782.6 868.2 L782.6 867.9 L782.7 867.6 L782.8 867.4 L782.8 867 L782.9 866.7 L783 866.4 L783.2 866.1 L783.3 865.8 L783.4 865.5 L783.5 865.2 L783.7 864.9 L783.9 864.6 L784 864.3 L784.2 864 L784.4 863.7 L784.5 863.4 L784.7 863.2 L784.9 862.9 L785.1 862.6 L785.3 862.4 L785.5 862.1 L785.7 861.9 L785.9 861.7 L786.2 861.5 L786.4 861.3 L786.6 861.1 L786.8 860.9 L787 860.8 L787.2 860.7 L787.4 860.5 L787.6 860.4 L787.8 860.3 L788 860.2 L788.2 860.2 L788.4 860.1 L788.6 860.1 L788.8 860.1 L788.9 860.1 L789.1 860.1 L789.3 860.1 L789.4 860.2 L789.6 860.3" fill="none" stroke="#000" stroke-width="1.4" stroke-linecap="round"/>
<ellipse cx="694" cy="640" rx="4.5" ry="8.5" fill="#fff" stroke="#000" stroke-width="1.4" transform="rotate(-20 694 640)"/>
<line x1="692" y1="636" x2="700" y2="634" stroke="#000" stroke-width="1.1" stroke-linecap="round"/>
<line x1="693" y1="641" x2="701" y2="639" stroke="#000" stroke-width="1.1" stroke-linecap="round"/>
<path d="M700 633 L723 624.5 L729 638 L704 647Z" fill="#fff" stroke="#000" stroke-width="1.4" stroke-linejoin="round" stroke-linecap="round"/>
<path d="M722 623 L740 615.5 L747 631 L728 639Z" fill="#fff" stroke="#000" stroke-width="1.4" stroke-linejoin="round" stroke-linecap="round"/>
<ellipse cx="726" cy="631" rx="4" ry="8" fill="#fff" stroke="#000" stroke-width="1.4" transform="rotate(-20 726 631)"/>
<ellipse cx="752" cy="620" rx="13" ry="18.5" fill="#fff" stroke="#000" stroke-width="1.6" transform="rotate(-22 752 620)"/>
<ellipse cx="756" cy="619" rx="12" ry="17" fill="#fff" stroke="#000" stroke-width="1.5" transform="rotate(-22 756 619)"/>
<ellipse cx="760" cy="618.5" rx="10.5" ry="15" fill="#fff" stroke="#000" stroke-width="1.5" transform="rotate(-22 760 618.5)"/>
<ellipse cx="761.5" cy="617.5" rx="6.5" ry="10" fill="#fff" stroke="#000" stroke-width="1.5" transform="rotate(-22 761.5 617.5)"/>
<path d="M907 934.8 L907.1 933.6 L907.4 932.7 L907.9 932 L908.5 931.5 L909.2 931.2 L910.1 931.2 L911.1 931.4 L912.1 931.8 L926.1 939.8 L927.2 940.5 L928.3 941.4 L929.4 942.5 L930.4 943.7 L931.4 945 L932.3 946.5 L933.1 948 L933.8 949.6 L934.4 951.1 L934.7 952.6 L935 954 L935 955.2 L934.9 956.4 L934.6 957.3 L934.1 958 L933.5 958.5 L932.8 958.8 L931.9 958.8 L930.9 958.6 L929.9 958.2 L915.9 950.2 L914.8 949.5 L913.7 948.6 L912.6 947.5 L911.6 946.3 L910.6 945 L909.7 943.5 L908.9 942 L908.2 940.4 L907.6 938.9 L907.3 937.4 L907 936Z" fill="#fff" stroke="#000" stroke-width="1.5" stroke-linejoin="round" stroke-linecap="round"/>
<ellipse cx="928" cy="949" rx="5" ry="11" fill="#fff" stroke="#000" stroke-width="1.5" transform="rotate(-30 928 949)"/>
<path d="M924 950.2 L923.8 950.2 L923.6 950.2 L923.5 950.2 L923.3 950.2 L923.1 950.1 L922.9 950.1 L922.6 950 L922.4 949.9 L922.2 949.7 L922 949.6 L921.8 949.4 L921.5 949.3 L921.3 949.1 L921.1 948.9 L920.8 948.7 L920.6 948.4 L920.4 948.2 L920.2 948 L919.9 947.7 L919.7 947.4 L919.5 947.1 L919.3 946.9 L919.1 946.6 L918.9 946.3 L918.7 945.9 L918.5 945.6 L918.3 945.3 L918.1 945 L917.9 944.7 L917.8 944.3 L917.6 944 L917.5 943.7 L917.4 943.3" fill="none" stroke="#000" stroke-width="1.2" stroke-linecap="round"/>
<ellipse cx="943" cy="961" rx="17" ry="26" fill="#fff" stroke="#000" stroke-width="1.7" transform="rotate(-28 943 961)"/>
<ellipse cx="946" cy="962.5" rx="13.5" ry="22" fill="#fff" stroke="#000" stroke-width="1.5" transform="rotate(-28 946 962.5)"/>
<path d="M937.5 968 L947.2 949 L966.8 949 L975.8 954 L985.5 973 L975.8 992 L956.2 992 L947.2 987Z" fill="#fff" stroke="#000" stroke-width="1.7" stroke-linejoin="round" stroke-linecap="round"/>
<path d="M985.5 973 L975.8 992.1 L956.2 992.1 L946.5 973 L956.2 953.9 L975.8 953.9Z" fill="#fff" stroke="#000" stroke-width="1.7" stroke-linejoin="round" stroke-linecap="round"/>
<line x1="956.2" y1="992.1" x2="947.2" y2="987.1" stroke="#000" stroke-width="1.4" stroke-linecap="round"/>
<line x1="946.5" y1="973" x2="937.5" y2="968" stroke="#000" stroke-width="1.4" stroke-linecap="round"/>
<line x1="956.2" y1="953.9" x2="947.2" y2="948.9" stroke="#000" stroke-width="1.4" stroke-linecap="round"/>
<ellipse cx="968" cy="974" rx="10.5" ry="13.5" fill="#fff" stroke="#000" stroke-width="1.6" transform="rotate(-20 968 974)"/>
<path d="M967.6 983.8 L967.2 983.7 L966.8 983.5 L966.3 983.3 L965.9 983 L965.5 982.8 L965.1 982.5 L964.7 982.2 L964.4 981.8 L964 981.5 L963.6 981.1 L963.3 980.7 L963 980.3 L962.6 979.8 L962.3 979.4 L962.1 978.9 L961.8 978.4 L961.5 978 L961.3 977.5 L961.1 976.9 L960.9 976.4 L960.7 975.9 L960.6 975.4 L960.4 974.8 L960.3 974.3 L960.2 973.7 L960.2 973.2 L960.1 972.7 L960.1 972.1 L960.1 971.6 L960.1 971.1 L960.2 970.6 L960.2 970 L960.3 969.6 L960.4 969.1 L960.5 968.6 L960.7 968.2 L960.9 967.7 L961.1 967.3 L961.3 966.9 L961.5 966.5 L961.7 966.2 L962 965.8 L962.3 965.5 L962.6 965.2 L962.9 965 L963.2 964.7" fill="none" stroke="#000" stroke-width="1.3" stroke-linecap="round"/>
<path d="M971.6 964.8 L972 965.2 L972.4 965.6 L972.9 966 L973.2 966.4 L973.6 966.9 L974 967.3 L974.3 967.8 L974.7 968.3 L975 968.9 L975.3 969.4 L975.5 970 L975.8 970.5 L976 971.1 L976.2 971.7 L976.4 972.3 L976.5 972.9 L976.6 973.5 L976.7 974.1 L976.8 974.7 L976.9 975.3 L976.9 975.9 L976.9 976.4 L976.9 977 L976.8 977.6 L976.7 978.2 L976.6 978.7" fill="none" stroke="#000" stroke-width="1.2" stroke-linecap="round"/>
<path d="M845 832.9 L845 831.1 L845.2 829.3 L845.5 827.4 L846 825.5 L846.6 823.5 L847.3 821.5 L848.1 819.4 L849.1 817.5 L850.1 815.5 L851.3 813.7 L852.5 811.9 L853.7 810.2 L855 808.7 L856.4 807.3 L857.8 806.1 L859.1 805.1 L860.5 804.2 L861.8 803.5 L863.1 803.1 L864.3 802.8 L865.5 802.8 L866.5 802.9 L876.1 805.2 L877.4 805.7 L903.9 819.5 L930.4 833.2 L948 842.4 L949.5 843.3 L960 851.4 L961.5 852.7 L962.9 854.3 L964.1 856.1 L965.1 858.1 L965.9 860.2 L966.5 862.5 L966.9 864.9 L967 867.3 L967 869.9 L966.7 872.5 L966.2 875 L965.5 877.6 L964.6 880.1 L963.5 882.5 L962.2 884.9 L960.8 887.1 L959.2 889.1 L957.5 891 L955.6 892.7 L953.7 894.1 L951.7 895.3 L949.6 896.3 L947.5 897 L945.4 897.5 L943.4 897.7 L941.3 897.6 L939.3 897.3 L937.5 896.6 L935.7 895.8 L924 889.6 L906.6 879.8 L880.6 865 L854.6 850.3 L853.5 849.5 L852.5 848.6 L851.6 847.4 L846.2 838.4 L845.7 837.2 L845.3 835.9 L845 834.5Z" fill="#fff" stroke="#000" stroke-width="1.7" stroke-linejoin="round" stroke-linecap="round"/>
<path d="M847.1 839.6 L846.7 839.2 L846.4 838.7 L846.1 838.2 L845.8 837.6 L845.6 837 L845.4 836.4 L845.2 835.7 L845.1 835 L845 834.2 L845 833.4 L845 832.6 L845 831.7 L845 830.8 L845.1 829.9 L845.2 829 L845.4 828.1 L845.6 827.1 L845.8 826.1 L846.1 825.1 L846.4 824.1 L846.7 823.1 L847 822.1 L847.4 821.1 L847.8 820.1 L848.3 819.1 L848.8 818.1 L849.3 817.1 L849.8 816.2 L850.3 815.2 L850.9 814.3 L851.5 813.4 L852.1 812.5 L852.7 811.6 L853.3 810.8 L854 810 L854.6 809.2 L855.3 808.5 L855.9 807.8 L856.6 807.1 L857.3 806.5 L858 805.9 L858.7 805.4 L859.3 804.9 L860 804.5 L860.7 804.1 L861.4 803.7 L862 803.4 L862.7 803.2 L863.3 803 L863.9 802.9 L864.5 802.8 L865.1 802.7 L865.7 802.8 L866.2 802.8" fill="none" stroke="#000" stroke-width="1.7" stroke-linecap="round"/>
<path d="M852.8 848.9 L852.3 848.4 L851.9 847.8 L851.5 847.1 L851.1 846.4 L850.8 845.7 L850.5 844.9 L850.3 844.1 L850.1 843.2 L850 842.2 L849.9 841.3 L849.8 840.3 L849.8 839.2 L849.8 838.2 L849.9 837.1 L850 835.9 L850.2 834.8 L850.4 833.6 L850.6 832.5 L850.9 831.3 L851.2 830.1 L851.6 828.9 L852 827.7 L852.5 826.5 L853 825.3 L853.5 824.1 L854 822.9 L854.6 821.7 L855.2 820.6 L855.9 819.4 L856.6 818.3 L857.3 817.2 L858 816.2 L858.7 815.2 L859.5 814.2 L860.3 813.2 L861.1 812.3 L861.9 811.5 L862.7 810.7 L863.6 809.9 L864.4 809.2 L865.3 808.5 L866.1 807.9 L867 807.3 L867.8 806.8 L868.7 806.4 L869.5 806 L870.3 805.7 L871.1 805.4 L871.9 805.2 L872.7 805 L873.5 805 L874.2 805 L874.9 805 L875.6 805.1" fill="none" stroke="#000" stroke-width="1.7" stroke-linecap="round"/>
<path d="M861.4 853.8 L860.9 853.2 L860.4 852.6 L860 852 L859.6 851.3 L859.3 850.5 L859 849.7 L858.8 848.8 L858.5 847.9 L858.4 847 L858.3 846 L858.2 845 L858.2 843.9 L858.2 842.8 L858.2 841.7 L858.3 840.6 L858.5 839.4 L858.7 838.3 L858.9 837.1 L859.2 835.9 L859.5 834.7 L859.9 833.5 L860.3 832.2 L860.8 831 L861.2 829.8 L861.8 828.6 L862.3 827.4 L862.9 826.2 L863.5 825.1 L864.2 823.9 L864.9 822.8 L865.6 821.7 L866.3 820.7 L867.1 819.6 L867.9 818.7 L868.7 817.7 L869.5 816.8 L870.3 815.9 L871.2 815.1 L872 814.3 L872.9 813.6 L873.8 813 L874.6 812.3 L875.5 811.8 L876.4 811.3 L877.2 810.9 L878.1 810.5 L878.9 810.2 L879.8 809.9 L880.6 809.7 L881.4 809.6 L882.2 809.5 L882.9 809.5 L883.7 809.6 L884.4 809.7" fill="none" stroke="#000" stroke-width="1.7" stroke-linecap="round"/>
<path d="M870 858.7 L869.5 858.1 L869 857.5 L868.5 856.8 L868.1 856.1 L867.8 855.3 L867.5 854.5 L867.2 853.6 L867 852.7 L866.8 851.7 L866.7 850.7 L866.6 849.7 L866.5 848.6 L866.5 847.5 L866.6 846.4 L866.7 845.3 L866.8 844.1 L867 842.9 L867.2 841.7 L867.5 840.5 L867.8 839.3 L868.2 838 L868.6 836.8 L869.1 835.6 L869.5 834.4 L870.1 833.1 L870.6 831.9 L871.2 830.8 L871.9 829.6 L872.5 828.4 L873.2 827.3 L873.9 826.2 L874.7 825.2 L875.5 824.1 L876.2 823.1 L877.1 822.2 L877.9 821.3 L878.7 820.4 L879.6 819.6 L880.5 818.8 L881.3 818.1 L882.2 817.4 L883.1 816.8 L884 816.3 L884.9 815.8 L885.8 815.3 L886.7 815 L887.5 814.6 L888.4 814.4 L889.2 814.2 L890.1 814.1 L890.9 814 L891.7 814 L892.4 814.1 L893.2 814.2" fill="none" stroke="#000" stroke-width="1.7" stroke-linecap="round"/>
<path d="M878.6 863.5 L878 863 L877.5 862.3 L877.1 861.6 L876.7 860.9 L876.3 860.1 L875.9 859.3 L875.6 858.4 L875.4 857.5 L875.2 856.5 L875.1 855.5 L875 854.4 L874.9 853.3 L874.9 852.2 L874.9 851.1 L875 849.9 L875.1 848.7 L875.3 847.5 L875.6 846.3 L875.8 845.1 L876.1 843.9 L876.5 842.6 L876.9 841.4 L877.4 840.1 L877.8 838.9 L878.4 837.7 L878.9 836.5 L879.5 835.3 L880.2 834.1 L880.8 832.9 L881.5 831.8 L882.3 830.7 L883 829.6 L883.8 828.6 L884.6 827.6 L885.4 826.7 L886.3 825.7 L887.2 824.9 L888 824.1 L888.9 823.3 L889.8 822.6 L890.7 821.9 L891.6 821.3 L892.5 820.7 L893.4 820.2 L894.3 819.8 L895.2 819.4 L896.1 819.1 L897 818.9 L897.9 818.7 L898.7 818.6 L899.6 818.5 L900.4 818.6 L901.2 818.6 L901.9 818.8" fill="none" stroke="#000" stroke-width="1.7" stroke-linecap="round"/>
<path d="M887.2 868.4 L886.6 867.8 L886.1 867.2 L885.6 866.5 L885.2 865.7 L884.8 864.9 L884.4 864.1 L884.1 863.2 L883.8 862.2 L883.6 861.2 L883.5 860.2 L883.3 859.1 L883.3 858 L883.2 856.9 L883.3 855.8 L883.3 854.6 L883.5 853.4 L883.6 852.2 L883.9 850.9 L884.1 849.7 L884.4 848.4 L884.8 847.2 L885.2 845.9 L885.6 844.7 L886.1 843.4 L886.7 842.2 L887.2 841 L887.8 839.8 L888.5 838.6 L889.2 837.4 L889.9 836.3 L890.6 835.2 L891.4 834.1 L892.2 833.1 L893 832.1 L893.8 831.1 L894.7 830.2 L895.6 829.3 L896.5 828.5 L897.4 827.8 L898.3 827 L899.2 826.4 L900.1 825.8 L901.1 825.2 L902 824.7 L902.9 824.3 L903.8 823.9 L904.7 823.6 L905.6 823.4 L906.5 823.2 L907.4 823.1 L908.3 823.1 L909.1 823.1 L909.9 823.2 L910.7 823.3" fill="none" stroke="#000" stroke-width="1.7" stroke-linecap="round"/>
<path d="M895.8 873.3 L895.2 872.7 L894.6 872 L894.1 871.3 L893.7 870.5 L893.2 869.7 L892.9 868.9 L892.5 867.9 L892.3 867 L892 866 L891.9 864.9 L891.7 863.9 L891.6 862.7 L891.6 861.6 L891.6 860.4 L891.7 859.2 L891.8 858 L892 856.8 L892.2 855.6 L892.4 854.3 L892.7 853 L893.1 851.8 L893.5 850.5 L893.9 849.3 L894.4 848 L895 846.8 L895.5 845.5 L896.1 844.3 L896.8 843.1 L897.5 841.9 L898.2 840.8 L898.9 839.7 L899.7 838.6 L900.5 837.6 L901.4 836.6 L902.2 835.6 L903.1 834.7 L904 833.8 L904.9 833 L905.8 832.2 L906.7 831.5 L907.7 830.8 L908.6 830.2 L909.6 829.7 L910.5 829.2 L911.5 828.8 L912.4 828.4 L913.4 828.1 L914.3 827.9 L915.2 827.7 L916.1 827.6 L917 827.6 L917.8 827.6 L918.7 827.7 L919.5 827.9" fill="none" stroke="#000" stroke-width="1.7" stroke-linecap="round"/>
<path d="M904.3 878.2 L903.7 877.5 L903.2 876.9 L902.6 876.1 L902.2 875.4 L901.7 874.5 L901.3 873.6 L901 872.7 L900.7 871.7 L900.4 870.7 L900.3 869.7 L900.1 868.6 L900 867.4 L900 866.3 L900 865.1 L900 863.9 L900.1 862.7 L900.3 861.4 L900.5 860.2 L900.7 858.9 L901 857.6 L901.4 856.4 L901.8 855.1 L902.2 853.8 L902.7 852.5 L903.3 851.3 L903.8 850.1 L904.5 848.8 L905.1 847.6 L905.8 846.5 L906.5 845.3 L907.3 844.2 L908.1 843.1 L908.9 842.1 L909.7 841 L910.6 840.1 L911.5 839.2 L912.4 838.3 L913.3 837.5 L914.3 836.7 L915.2 836 L916.2 835.3 L917.1 834.7 L918.1 834.2 L919.1 833.7 L920 833.3 L921 832.9 L922 832.6 L922.9 832.4 L923.8 832.2 L924.8 832.1 L925.7 832.1 L926.6 832.2 L927.4 832.3 L928.3 832.4" fill="none" stroke="#000" stroke-width="1.7" stroke-linecap="round"/>
<path d="M912.9 883 L912.3 882.4 L911.7 881.7 L911.2 881 L910.7 880.2 L910.2 879.3 L909.8 878.4 L909.4 877.5 L909.1 876.5 L908.9 875.5 L908.6 874.4 L908.5 873.3 L908.4 872.1 L908.3 871 L908.3 869.8 L908.4 868.6 L908.5 867.3 L908.6 866.1 L908.8 864.8 L909 863.5 L909.3 862.2 L909.7 860.9 L910.1 859.7 L910.5 858.4 L911 857.1 L911.6 855.8 L912.1 854.6 L912.8 853.4 L913.4 852.1 L914.1 851 L914.8 849.8 L915.6 848.7 L916.4 847.6 L917.2 846.5 L918.1 845.5 L919 844.6 L919.9 843.6 L920.8 842.8 L921.7 841.9 L922.7 841.2 L923.7 840.4 L924.6 839.8 L925.6 839.2 L926.6 838.6 L927.6 838.2 L928.6 837.7 L929.6 837.4 L930.6 837.1 L931.5 836.9 L932.5 836.7 L933.4 836.7 L934.4 836.6 L935.3 836.7 L936.2 836.8 L937 837" fill="none" stroke="#000" stroke-width="1.7" stroke-linecap="round"/>
<path d="M921.5 887.9 L920.9 887.3 L920.3 886.6 L919.7 885.8 L919.2 885 L918.7 884.1 L918.3 883.2 L917.9 882.3 L917.6 881.3 L917.3 880.2 L917 879.1 L916.9 878 L916.7 876.9 L916.7 875.7 L916.7 874.5 L916.7 873.2 L916.8 872 L916.9 870.7 L917.1 869.4 L917.4 868.1 L917.7 866.8 L918 865.5 L918.4 864.2 L918.8 862.9 L919.3 861.6 L919.9 860.4 L920.4 859.1 L921.1 857.9 L921.7 856.7 L922.4 855.5 L923.2 854.3 L923.9 853.2 L924.8 852.1 L925.6 851 L926.5 850 L927.4 849 L928.3 848.1 L929.2 847.2 L930.2 846.4 L931.1 845.6 L932.1 844.9 L933.1 844.3 L934.1 843.7 L935.1 843.1 L936.2 842.6 L937.2 842.2 L938.2 841.9 L939.2 841.6 L940.2 841.4 L941.2 841.2 L942.1 841.2 L943.1 841.2 L944 841.2 L944.9 841.3 L945.8 841.5" fill="none" stroke="#000" stroke-width="1.7" stroke-linecap="round"/>
<ellipse cx="947" cy="873" rx="19" ry="25.5" fill="#fff" stroke="#000" stroke-width="1.8" transform="rotate(22 947 873)"/>
<ellipse cx="948" cy="872.5" rx="13.5" ry="17.5" fill="#fff" stroke="#000" stroke-width="1.7" transform="rotate(22 948 872.5)"/>
<path d="M936.9 875.8 L936.9 875.1 L936.9 874.4 L937 873.6 L937.1 872.9 L937.2 872.1 L937.4 871.4 L937.5 870.7 L937.8 869.9 L938 869.2 L938.3 868.5 L938.6 867.8 L938.9 867.1 L939.3 866.4 L939.7 865.8 L940.1 865.1 L940.5 864.5 L940.9 863.9 L941.4 863.3 L941.9 862.8 L942.4 862.3 L942.9 861.8 L943.4 861.3 L944 860.9 L944.5 860.5 L945.1 860.1 L945.7 859.8 L946.3 859.5 L946.8 859.2 L947.4 859 L948 858.8 L948.6 858.7 L949.2 858.6 L949.8 858.5" fill="none" stroke="#000" stroke-width="1.4" stroke-linecap="round"/>
<path d="M933.8 863.6 L934.4 862.6 L935 861.6 L935.7 860.6 L936.4 859.7 L937.1 858.9 L937.9 858 L938.6 857.3 L939.4 856.5 L940.2 855.8 L941.1 855.2 L941.9 854.6 L942.8 854 L943.7 853.6 L944.6 853.1 L945.5 852.8 L946.4 852.4 L947.3 852.2 L948.2 852 L949.1 851.8 L950 851.8 L950.9 851.7 L951.8 851.8 L952.6 851.9 L953.5 852 L954.3 852.3 L955.1 852.5 L955.9 852.9 L956.6 853.3 L957.4 853.7 L958.1 854.2 L958.7 854.8 L959.4 855.4 L960 856.1 L960.5 856.8 L961.1 857.5 L961.6 858.3" fill="none" stroke="#000" stroke-width="1.4" stroke-linecap="round"/>
<path d="M960.2 882.4 L959.6 883.4 L959 884.4 L958.3 885.3 L957.7 886.2 L957 887.1 L956.2 887.9 L955.5 888.6 L954.7 889.4 L953.9 890.1 L953.1 890.7 L952.2 891.3 L951.4 891.8 L950.5 892.3 L949.6 892.8 L948.8 893.1 L947.9 893.5 L947 893.7 L946.1 894 L945.2 894.1 L944.3 894.2" fill="none" stroke="#000" stroke-width="1.4" stroke-linecap="round"/>
<ellipse cx="510.3" cy="692" rx="24.7" ry="25.5" fill="#fff" stroke="#000" stroke-width="1.6"/>
<path d="M495.1 695.2 L494.8 694.1 L494.6 693.1 L494.3 692 L494.2 690.9 L494.1 689.8 L494 688.7 L494 687.6 L494 686.5 L494.1 685.4 L494.3 684.4 L494.5 683.3 L494.7 682.2 L495 681.2 L495.4 680.1 L495.8 679.1 L496.2 678.1 L496.7 677.2 L497.2 676.3 L497.8 675.4 L498.4 674.5 L499.1 673.7 L499.8 672.9 L500.5 672.2 L501.3 671.5 L502.1 670.8 L502.9 670.2 L503.8 669.6 L504.7 669.1 L505.6 668.7 L506.5 668.3" fill="none" stroke="#000" stroke-width="1.4" stroke-linecap="round"/>
<text x="516" y="693" font-size="14" text-anchor="middle" font-weight="normal">C</text>
<path d="M951.3 415.3 L951.5 413.7 L952 412.2 L952.6 410.8 L953.5 409.6 L954.5 408.6 L955.6 407.7 L956.9 407.1 L958.3 406.8 L959.7 406.7 L961.1 406.8 L962.6 407.2 L963.9 407.9 L965.2 408.7 L966.4 409.8 L975.9 418.6 L976.9 419.8 L977.8 421.2 L978.5 422.7 L978.9 424.3 L979.1 425.9 L979.2 427.5 L979 429.1 L978.5 430.6 L977.9 432 L977 433.2 L976 434.2 L974.9 435.1 L973.6 435.7 L972.2 436 L970.8 436.1 L969.4 436 L967.9 435.6 L966.6 434.9 L965.3 434.1 L964.1 433 L954.6 424.2 L953.6 423 L952.7 421.6 L952 420.1 L951.6 418.5 L951.4 416.9Z" fill="#fff" stroke="#000" stroke-width="1.5" stroke-linejoin="round" stroke-linecap="round"/>
<ellipse cx="970" cy="425.8" rx="9" ry="10.5" fill="#fff" stroke="#000" stroke-width="1.5" transform="rotate(-20 970 425.8)"/>
<text x="971" y="429.4" font-size="10" text-anchor="middle" font-weight="normal">C</text>
<path d="M942.8 668.3 L943 666.7 L943.5 665.2 L944.1 663.8 L945 662.6 L946 661.6 L947.1 660.7 L948.4 660.1 L949.8 659.8 L951.2 659.7 L952.6 659.8 L954.1 660.2 L955.4 660.9 L956.7 661.7 L967.7 669.7 L968.9 670.8 L969.9 672 L970.8 673.4 L971.5 674.9 L971.9 676.5 L972.1 678.1 L972.2 679.7 L972 681.3 L971.5 682.8 L970.9 684.2 L970 685.4 L969 686.4 L967.9 687.3 L966.6 687.9 L965.2 688.2 L963.8 688.3 L962.4 688.2 L960.9 687.8 L959.6 687.1 L958.3 686.3 L947.3 678.3 L946.1 677.2 L945.1 676 L944.2 674.6 L943.5 673.1 L943.1 671.5 L942.9 669.9Z" fill="#fff" stroke="#000" stroke-width="1.5" stroke-linejoin="round" stroke-linecap="round"/>
<ellipse cx="963" cy="678" rx="9" ry="10.5" fill="#fff" stroke="#000" stroke-width="1.5" transform="rotate(-20 963 678)"/>
<text x="964" y="681.6" font-size="10" text-anchor="middle" font-weight="normal">C</text>
<ellipse cx="893" cy="382" rx="4.2" ry="5.5" fill="#fff" stroke="#000" stroke-width="1.4" transform="rotate(-30 893 382)"/>
<circle cx="893" cy="382" r="0.9" fill="#000"/>
<ellipse cx="903" cy="388.5" rx="5" ry="9" fill="#fff" stroke="#000" stroke-width="1.5" transform="rotate(-30 903 388.5)"/>
<ellipse cx="905" cy="389.5" rx="4.5" ry="8.5" fill="#fff" stroke="#000" stroke-width="1.4" transform="rotate(-30 905 389.5)"/>
<path d="M910 384 L922 389 L926 404 L915 407Z" fill="#fff" stroke="#000" stroke-width="1.5" stroke-linejoin="round" stroke-linecap="round"/>
<ellipse cx="913" cy="394.5" rx="7.5" ry="12" fill="#fff" stroke="#000" stroke-width="1.6" transform="rotate(-30 913 394.5)"/>
<path d="M915.7 402.7 L915.4 402.7 L915.1 402.6 L914.8 402.5 L914.5 402.4 L914.2 402.3 L913.9 402.2 L913.5 402 L913.2 401.8 L912.9 401.6 L912.5 401.4 L912.2 401.1 L911.9 400.9 L911.5 400.6 L911.2 400.3 L910.9 400 L910.6 399.7 L910.3 399.3 L910 399 L909.7 398.6 L909.4 398.2 L909.2 397.8 L908.9 397.4 L908.7 397 L908.4 396.6 L908.2 396.2 L908 395.7 L907.8 395.3 L907.6 394.9 L907.5 394.4 L907.3 394 L907.2 393.6 L907.1 393.1 L907 392.7 L906.9 392.3 L906.8 391.9 L906.8 391.5 L906.8 391.1 L906.8 390.7 L906.8 390.3 L906.8 389.9 L906.8 389.6 L906.9 389.2 L907 388.9 L907.1 388.6 L907.2 388.3 L907.3 388" fill="none" stroke="#000" stroke-width="1.2" stroke-linecap="round"/>
<path d="M914.3 399.8 L914.1 399.7 L913.9 399.6 L913.7 399.5 L913.5 399.4 L913.3 399.2 L913.1 399.1 L912.9 398.9 L912.7 398.8 L912.5 398.6 L912.2 398.4 L912 398.2 L911.8 398 L911.6 397.8 L911.5 397.5 L911.3 397.3 L911.1 397 L910.9 396.8 L910.7 396.5 L910.6 396.3 L910.4 396 L910.2 395.7 L910.1 395.4 L910 395.2 L909.8 394.9 L909.7 394.6 L909.6 394.3 L909.5 394 L909.4 393.8 L909.3 393.5 L909.2 393.2 L909.2 392.9 L909.1 392.7 L909.1 392.4 L909.1 392.1 L909 391.9 L909 391.6 L909 391.4 L909 391.2 L909.1 391 L909.1 390.8" fill="none" stroke="#000" stroke-width="1.1" stroke-linecap="round"/>
<path d="M920 392 L934 399 L931.5 407 L918 401Z" fill="#fff" stroke="#000" stroke-width="1.5" stroke-linejoin="round" stroke-linecap="round"/>
<ellipse cx="933" cy="403" rx="3.4" ry="4.3" fill="#fff" stroke="#000" stroke-width="1.5" transform="rotate(-30 933 403)"/>
<ellipse cx="888.2" cy="635.5" rx="4.2" ry="5.5" fill="#fff" stroke="#000" stroke-width="1.4" transform="rotate(-30 888.2 635.5)"/>
<circle cx="888.2" cy="635.5" r="0.9" fill="#000"/>
<ellipse cx="898.2" cy="642" rx="5" ry="9" fill="#fff" stroke="#000" stroke-width="1.5" transform="rotate(-30 898.2 642)"/>
<ellipse cx="900.2" cy="643" rx="4.5" ry="8.5" fill="#fff" stroke="#000" stroke-width="1.4" transform="rotate(-30 900.2 643)"/>
<path d="M905.2 637.5 L917.2 642.5 L921.2 657.5 L910.2 660.5Z" fill="#fff" stroke="#000" stroke-width="1.5" stroke-linejoin="round" stroke-linecap="round"/>
<ellipse cx="908.2" cy="648" rx="7.5" ry="12" fill="#fff" stroke="#000" stroke-width="1.6" transform="rotate(-30 908.2 648)"/>
<path d="M910.9 656.2 L910.6 656.2 L910.3 656.1 L910 656 L909.7 655.9 L909.4 655.8 L909.1 655.7 L908.7 655.5 L908.4 655.3 L908.1 655.1 L907.7 654.9 L907.4 654.6 L907.1 654.4 L906.7 654.1 L906.4 653.8 L906.1 653.5 L905.8 653.2 L905.5 652.8 L905.2 652.5 L904.9 652.1 L904.6 651.7 L904.4 651.3 L904.1 650.9 L903.9 650.5 L903.6 650.1 L903.4 649.7 L903.2 649.2 L903 648.8 L902.8 648.4 L902.7 647.9 L902.5 647.5 L902.4 647.1 L902.3 646.6 L902.2 646.2 L902.1 645.8 L902 645.4 L902 645 L902 644.6 L902 644.2 L902 643.8 L902 643.4 L902 643.1 L902.1 642.7 L902.2 642.4 L902.3 642.1 L902.4 641.8 L902.5 641.5" fill="none" stroke="#000" stroke-width="1.2" stroke-linecap="round"/>
<path d="M909.5 653.2 L909.3 653.2 L909.1 653.1 L908.9 653 L908.7 652.9 L908.5 652.7 L908.3 652.6 L908.1 652.4 L907.9 652.3 L907.7 652.1 L907.5 651.9 L907.2 651.7 L907 651.5 L906.8 651.3 L906.7 651 L906.5 650.8 L906.3 650.5 L906.1 650.3 L905.9 650 L905.8 649.8 L905.6 649.5 L905.4 649.2 L905.3 648.9 L905.2 648.7 L905 648.4 L904.9 648.1 L904.8 647.8 L904.7 647.5 L904.6 647.3 L904.5 647 L904.5 646.7 L904.4 646.4 L904.3 646.2 L904.3 645.9 L904.3 645.6 L904.2 645.4 L904.2 645.1 L904.2 644.9 L904.2 644.7 L904.3 644.5 L904.3 644.2" fill="none" stroke="#000" stroke-width="1.1" stroke-linecap="round"/>
<path d="M915.2 645.5 L929.2 652.5 L926.7 660.5 L913.2 654.5Z" fill="#fff" stroke="#000" stroke-width="1.5" stroke-linejoin="round" stroke-linecap="round"/>
<ellipse cx="928.2" cy="656.5" rx="3.4" ry="4.3" fill="#fff" stroke="#000" stroke-width="1.5" transform="rotate(-30 928.2 656.5)"/>
<path d="M738 104 L744 106.5 L742 112 L736 109.5Z" fill="#fff" stroke="#000" stroke-width="1.3" stroke-linejoin="round" stroke-linecap="round"/>
<ellipse cx="737.5" cy="106.8" rx="2" ry="3" fill="#fff" stroke="#000" stroke-width="1.2" transform="rotate(-25 737.5 106.8)"/>
<path d="M744 106 L757 110.5 Q763 113 761 117.5 Q759 121.5 753 119.5 L742 113 Z" fill="#fff" stroke="#000" stroke-width="1.4"/>
<ellipse cx="752" cy="114" rx="4.5" ry="2" fill="none" stroke="#000" stroke-width="1.1" transform="rotate(22 752 114)"/>
<path d="M144 1062.5 C146.3 1060.1 151 1051.9 158 1048 C165 1044.1 176.7 1040.9 186 1039 C195.3 1037.1 204.5 1036.3 214 1036.5 C223.5 1036.7 238.2 1039.4 243 1040" fill="none" stroke="#000" stroke-width="7.5" stroke-linecap="butt" stroke-linejoin="round"/>
<path d="M144 1062.5 C146.3 1060.1 151 1051.9 158 1048 C165 1044.1 176.7 1040.9 186 1039 C195.3 1037.1 204.5 1036.3 214 1036.5 C223.5 1036.7 238.2 1039.4 243 1040" fill="none" stroke="#fff" stroke-width="4.5" stroke-linecap="butt" stroke-linejoin="round"/>
<path d="M242 1034 L275 1042 L276 1054 L242 1046Z" fill="#fff" stroke="#000" stroke-width="1.4" stroke-linejoin="round" stroke-linecap="round"/>
<ellipse cx="143.5" cy="1063" rx="2.6" ry="3" fill="#fff" stroke="#000" stroke-width="1.2" transform="rotate(30 143.5 1063)"/>
<path d="M23.5 1135.4 L361.6 1312.2 L361.6 1335.2 L23.5 1158.4Z" fill="#fff" stroke="#000" stroke-width="1.5" stroke-linejoin="round" stroke-linecap="round"/>
<rect x="43.7" y="1162.3" width="34" height="8" rx="4" fill="none" stroke="#000" stroke-width="1.4" transform="rotate(27.6 60.7 1166.3)"/>
<rect x="89.6" y="1185.3" width="30" height="8" rx="4" fill="none" stroke="#000" stroke-width="1.4" transform="rotate(27.6 104.6 1189.3)"/>
<rect x="136" y="1210.1" width="32" height="8" rx="4" fill="none" stroke="#000" stroke-width="1.4" transform="rotate(27.6 152 1214.1)"/>
<rect x="183.3" y="1234.8" width="32" height="8" rx="4" fill="none" stroke="#000" stroke-width="1.4" transform="rotate(27.6 199.3 1238.8)"/>
<rect x="230.6" y="1259.6" width="32" height="8" rx="4" fill="none" stroke="#000" stroke-width="1.4" transform="rotate(27.6 246.6 1263.6)"/>
<rect x="274.6" y="1282.6" width="32" height="8" rx="4" fill="none" stroke="#000" stroke-width="1.4" transform="rotate(27.6 290.6 1286.6)"/>
<rect x="317.6" y="1305.6" width="34" height="8" rx="4" fill="none" stroke="#000" stroke-width="1.4" transform="rotate(27.6 334.6 1309.6)"/>
<path d="M96.5 1193 L271.3 1284.5 L271.3 1305.5 L96.5 1214Z" fill="#fff" stroke="#000" stroke-width="1.5" stroke-linejoin="round" stroke-linecap="round"/>
<rect x="108.3" y="1214.6" width="34" height="8" rx="4" fill="none" stroke="#000" stroke-width="1.4" transform="rotate(27.6 125.3 1218.6)"/>
<rect x="154.7" y="1238.8" width="34" height="8" rx="4" fill="none" stroke="#000" stroke-width="1.4" transform="rotate(27.6 171.7 1242.8)"/>
<rect x="200.1" y="1262.6" width="34" height="8" rx="4" fill="none" stroke="#000" stroke-width="1.4" transform="rotate(27.6 217.1 1266.6)"/>
<path d="M100 1186 L108 1180 L112 1192 L104 1196Z" fill="#fff" stroke="#000" stroke-width="1.3" stroke-linejoin="round" stroke-linecap="round"/>
<path d="M248 1270 L262 1264 L270 1278 L258 1286Z" fill="#fff" stroke="#000" stroke-width="1.4" stroke-linejoin="round" stroke-linecap="round"/>
<ellipse cx="263" cy="1279" rx="6" ry="7.5" fill="#fff" stroke="#000" stroke-width="1.4" transform="rotate(-25 263 1279)"/>
<ellipse cx="268" cy="1282" rx="4" ry="4.5" fill="#fff" stroke="#000" stroke-width="1.3"/>
<path d="M137.5 1087 C136.6 1092.5 132.2 1109.3 132 1120 C131.8 1130.7 131.8 1141.3 136 1151 C140.2 1160.7 146.8 1169.5 157 1178 C167.2 1186.5 180.5 1194.8 197 1202 C213.5 1209.2 236.3 1215.6 256 1221.5 C275.7 1227.4 298.7 1232.2 315 1237.5 C331.3 1242.8 342.3 1246.6 354 1253 C365.7 1259.4 377.2 1268.2 385 1276 C392.8 1283.8 398 1291.3 400.5 1300 C403 1308.7 401.9 1320.8 400 1328 C398.1 1335.2 394.7 1339.8 389 1343 C383.3 1346.2 373.2 1348.2 366 1347 C358.8 1345.8 357 1341.8 346 1336 C335 1330.2 312.3 1320.5 300 1312 C287.7 1303.5 276.7 1289.5 272 1285" fill="none" stroke="#000" stroke-width="7.0" stroke-linecap="butt" stroke-linejoin="round"/>
<path d="M137.5 1087 C136.6 1092.5 132.2 1109.3 132 1120 C131.8 1130.7 131.8 1141.3 136 1151 C140.2 1160.7 146.8 1169.5 157 1178 C167.2 1186.5 180.5 1194.8 197 1202 C213.5 1209.2 236.3 1215.6 256 1221.5 C275.7 1227.4 298.7 1232.2 315 1237.5 C331.3 1242.8 342.3 1246.6 354 1253 C365.7 1259.4 377.2 1268.2 385 1276 C392.8 1283.8 398 1291.3 400.5 1300 C403 1308.7 401.9 1320.8 400 1328 C398.1 1335.2 394.7 1339.8 389 1343 C383.3 1346.2 373.2 1348.2 366 1347 C358.8 1345.8 357 1341.8 346 1336 C335 1330.2 312.3 1320.5 300 1312 C287.7 1303.5 276.7 1289.5 272 1285" fill="none" stroke="#fff" stroke-width="4" stroke-linecap="butt" stroke-linejoin="round"/>
<ellipse cx="137.8" cy="1087" rx="2.3" ry="2.6" fill="#fff" stroke="#000" stroke-width="1.2"/>
<path d="M104 1472 C108.3 1470.3 119 1464.8 130 1462 C141 1459.2 158.3 1456.2 170 1455 C181.7 1453.8 192.7 1454 200 1455 C207.3 1456 211.7 1460 214 1461" fill="none" stroke="#000" stroke-width="7.5" stroke-linecap="butt" stroke-linejoin="round"/>
<path d="M104 1472 C108.3 1470.3 119 1464.8 130 1462 C141 1459.2 158.3 1456.2 170 1455 C181.7 1453.8 192.7 1454 200 1455 C207.3 1456 211.7 1460 214 1461" fill="none" stroke="#fff" stroke-width="4.5" stroke-linecap="butt" stroke-linejoin="round"/>
<path d="M213 1459 L230 1465 L229 1477 L211 1470Z" fill="#fff" stroke="#000" stroke-width="1.4" stroke-linejoin="round" stroke-linecap="round"/>
<ellipse cx="214" cy="1465" rx="3" ry="6" fill="#fff" stroke="#000" stroke-width="1.3" transform="rotate(-20 214 1465)"/>
<ellipse cx="104" cy="1472.5" rx="2.4" ry="3" fill="#fff" stroke="#000" stroke-width="1.2" transform="rotate(30 104 1472.5)"/>
<path d="M377.9 56.4 L382.1 52.8 L382.1 70.8" fill="none" stroke="#000" stroke-width="2.5" stroke-linejoin="round"/>
<text x="389.5" y="70.8" font-size="26">3</text>
<text x="122.8" y="159.3" font-size="26">6</text>
<text x="518.8" y="124.6" font-size="26">6</text>
<text x="748.8" y="71" font-size="26">5</text>
<text x="410.8" y="303.3" font-size="26">4</text>
<text x="676.8" y="217.3" font-size="26">4</text>
<path d="M742.6 303.9 L746.8 300.3 L746.8 318.3" fill="none" stroke="#000" stroke-width="2.5" stroke-linejoin="round"/>
<text x="960.8" y="366.8" font-size="26">3</text>
<text x="956.3" y="622.9" font-size="26">3</text>
<text x="738.8" y="568.3" font-size="26">2</text>
<path d="M474.4 397.4 L478.6 393.8 L478.6 411.8" fill="none" stroke="#000" stroke-width="2.5" stroke-linejoin="round"/>
<path d="M488.8 397.4 L493 393.8 L493 411.8" fill="none" stroke="#000" stroke-width="2.5" stroke-linejoin="round"/>
<path d="M474 619.6 L478.2 616 L478.2 634" fill="none" stroke="#000" stroke-width="2.5" stroke-linejoin="round"/>
<text x="485.6" y="634" font-size="26">2</text>
<path d="M143.4 393.9 L147.6 390.3 L147.6 408.3" fill="none" stroke="#000" stroke-width="2.5" stroke-linejoin="round"/>
<text x="155" y="408.3" font-size="26">4</text>
<path d="M138.4 540.9 L142.6 537.3 L142.6 555.3" fill="none" stroke="#000" stroke-width="2.5" stroke-linejoin="round"/>
<text x="150" y="555.3" font-size="26">5</text>
<path d="M288.4 913.4 L292.6 909.8 L292.6 927.8" fill="none" stroke="#000" stroke-width="2.5" stroke-linejoin="round"/>
<text x="300" y="927.8" font-size="26">6</text>
<path d="M487.8 759.5 L492 755.9 L492 773.9" fill="none" stroke="#000" stroke-width="2.5" stroke-linejoin="round"/>
<text x="499.4" y="773.9" font-size="26">0</text>
<text x="697.8" y="769.3" font-size="26">7</text>
<text x="610.6" y="930.1" font-size="26">8</text>
<text x="911.2" y="768.8" font-size="26">9</text>
<text x="107.5" y="863.3" font-size="26">2</text>
<text x="122" y="863.3" font-size="26">0</text>
<path d="M471.8 1029.4 L476 1025.8 L476 1043.8" fill="none" stroke="#000" stroke-width="2.5" stroke-linejoin="round"/>
<text x="483.4" y="1043.8" font-size="26">7</text>
<text x="308.5" y="1190.3" font-size="26">2</text>
<text x="323" y="1190.3" font-size="26">2</text>
<text x="307.5" y="1401.3" font-size="26">2</text>
<text x="322" y="1401.3" font-size="26">3</text>
<text x="91.5" y="1303.6" font-size="26">2</text>
<text x="106" y="1303.6" font-size="26">4</text>
<text x="494.4" y="1291.6" font-size="26">2</text>
<text x="508.9" y="1291.6" font-size="26">0</text>
<path d="M659.4 1128.7 L663.6 1125.1 L663.6 1143.1" fill="none" stroke="#000" stroke-width="2.5" stroke-linejoin="round"/>
<text x="671" y="1143.1" font-size="26">8</text>
<text x="771.5" y="1220.7" font-size="26">2</text>
<text x="786" y="1220.7" font-size="26">0</text>
<text x="917.5" y="1305.1" font-size="26">2</text>
<path d="M934.8 1290.7 L939 1287.1 L939 1305.1" fill="none" stroke="#000" stroke-width="2.5" stroke-linejoin="round"/>
<path d="M782.4 1456.5 L786.6 1452.9 L786.6 1470.9" fill="none" stroke="#000" stroke-width="2.5" stroke-linejoin="round"/>
<text x="794" y="1470.9" font-size="26">9</text>
<line x1="387" y1="77" x2="387" y2="103" stroke="#000" stroke-width="1.6" stroke-linecap="round"/>
<line x1="131" y1="166" x2="131" y2="191" stroke="#000" stroke-width="1.6" stroke-linecap="round"/>
<line x1="538" y1="116" x2="571" y2="116" stroke="#000" stroke-width="1.6" stroke-linecap="round"/>
<line x1="755" y1="76" x2="755" y2="107" stroke="#000" stroke-width="1.6" stroke-linecap="round"/>
<line x1="430" y1="294" x2="452" y2="294" stroke="#000" stroke-width="1.6" stroke-linecap="round"/>
<line x1="696" y1="210" x2="726" y2="210" stroke="#000" stroke-width="1.6" stroke-linecap="round"/>
<line x1="968" y1="375" x2="968" y2="407" stroke="#000" stroke-width="1.6" stroke-linecap="round"/>
<line x1="963" y1="630" x2="963" y2="662" stroke="#000" stroke-width="1.6" stroke-linecap="round"/>
<line x1="746" y1="513" x2="746" y2="544" stroke="#000" stroke-width="1.6" stroke-linecap="round"/>
<line x1="486" y1="355" x2="486" y2="390" stroke="#000" stroke-width="1.6" stroke-linecap="round"/>
<line x1="483" y1="574" x2="483" y2="610" stroke="#000" stroke-width="1.6" stroke-linecap="round"/>
<line x1="173" y1="400" x2="210" y2="400" stroke="#000" stroke-width="1.6" stroke-linecap="round"/>
<line x1="168" y1="547" x2="204" y2="547" stroke="#000" stroke-width="1.6" stroke-linecap="round"/>
<line x1="298.6" y1="876" x2="298.6" y2="906" stroke="#000" stroke-width="1.6" stroke-linecap="round"/>
<line x1="497" y1="721" x2="497" y2="750" stroke="#000" stroke-width="1.6" stroke-linecap="round"/>
<line x1="705" y1="773" x2="705" y2="806" stroke="#000" stroke-width="1.6" stroke-linecap="round"/>
<line x1="618" y1="872" x2="618" y2="906" stroke="#000" stroke-width="1.6" stroke-linecap="round"/>
<line x1="918" y1="775" x2="918" y2="812" stroke="#000" stroke-width="1.6" stroke-linecap="round"/>
<line x1="122.7" y1="869" x2="122.7" y2="903" stroke="#000" stroke-width="1.6" stroke-linecap="round"/>
<line x1="483" y1="993" x2="483" y2="1022" stroke="#000" stroke-width="1.6" stroke-linecap="round"/>
<line x1="322.6" y1="1138" x2="322.6" y2="1169" stroke="#000" stroke-width="1.6" stroke-linecap="round"/>
<line x1="322.6" y1="1198" x2="322.6" y2="1230" stroke="#000" stroke-width="1.6" stroke-linecap="round"/>
<line x1="322" y1="1324" x2="322" y2="1373" stroke="#000" stroke-width="1.6" stroke-linecap="round"/>
<line x1="322" y1="1412" x2="322" y2="1450" stroke="#000" stroke-width="1.6" stroke-linecap="round"/>
<line x1="106" y1="1309" x2="106" y2="1341" stroke="#000" stroke-width="1.6" stroke-linecap="round"/>
<line x1="508" y1="1238" x2="508" y2="1271" stroke="#000" stroke-width="1.6" stroke-linecap="round"/>
<line x1="670" y1="1150" x2="670" y2="1183" stroke="#000" stroke-width="1.6" stroke-linecap="round"/>
<line x1="786" y1="1162" x2="786" y2="1198" stroke="#000" stroke-width="1.6" stroke-linecap="round"/>
<line x1="934" y1="1245" x2="934" y2="1283" stroke="#000" stroke-width="1.6" stroke-linecap="round"/>
<line x1="748" y1="1462" x2="778" y2="1462" stroke="#000" stroke-width="1.6" stroke-linecap="round"/>
<line x1="749" y1="262" x2="749" y2="292" stroke="#000" stroke-width="1.6" stroke-linecap="round"/>
<circle cx="745" cy="308.7" r="35.4" fill="none" stroke="#d0302a" stroke-width="1.8"/>
<defs>
<radialGradient id="lg" cx="0.65" cy="0.55" r="0.7">
<stop offset="0" stop-color="#dca3a3"/><stop offset="0.6" stop-color="#c98b8d"/><stop offset="1" stop-color="#bd7c80"/>
</radialGradient>
<clipPath id="lc"><circle cx="967" cy="1499" r="100"/></clipPath>
</defs>
<circle cx="967" cy="1499" r="100" fill="url(#lg)"/>
<g clip-path="url(#lc)" opacity="0.5"><path d="M867 1520 L940 1470 L1000 1440 L1070 1420 L1070 1460 L990 1480 L930 1520 L880 1560 Z" fill="#b87276"/><path d="M1010 1500 L1070 1480 L1070 1560 L1020 1580 Z" fill="#e2b0b0"/><path d="M870 1560 L960 1530 L960 1600 L870 1600 Z" fill="#c48486"/></g>
<path d="M905 1424.5 Q966 1408 1028.5 1427 L1028.5 1512 Q1026 1552 968 1580 Q910 1552 905.5 1512 Z" fill="#5e636b"/>
<path d="M909.5 1449 Q966 1439 1024.5 1449 L1024.5 1511 Q1022 1547 968 1575 Q914 1547 909.5 1511 Z" fill="#dcd9bb"/>
<rect x="950" y="1438" width="32" height="26" fill="#c9545a" clip-path="url(#shc)"/>
<rect x="950" y="1543" width="32" height="40" fill="#c9545a" clip-path="url(#shc)"/>
<defs><clipPath id="shc"><path d="M909.5 1449 Q966 1439 1024.5 1449 L1024.5 1511 Q1022 1547 968 1575 Q914 1547 909.5 1511 Z"/></clipPath></defs>
<defs><path id="tarc" d="M910 1444 Q967 1427 1026 1444"/></defs>
<text font-family="Liberation Sans" font-weight="bold" font-size="15.5" style="fill:#f4f2ee" letter-spacing="0"><textPath href="#tarc" startOffset="50%" text-anchor="middle">DCAUTO.COM</textPath></text>
<path d="M921.7 1459 L952 1459 Q971.5 1459 971.5 1479 L971.5 1502 Q971.5 1522.2 952 1522.2 L921.7 1522.2 Z M936 1473 L936 1508.4 L950 1508.4 Q955.8 1508.4 955.8 1502 L955.8 1479.5 Q955.8 1473 950 1473 Z" fill="#676b74" fill-rule="evenodd" stroke="#e7d5c8" stroke-width="1.2"/>
<path d="M1015.5 1483.5 L999.7 1483.5 L999.7 1479 Q999.7 1473 994 1473 L989 1473 Q983 1473 983 1479 L983 1502 Q983 1508.4 989 1508.4 L994 1508.4 Q999.7 1508.4 999.7 1502 L999.7 1500.5 L1015.5 1500.5 L1015.5 1504 Q1015.5 1522.2 996 1522.2 L987 1522.2 Q968.2 1522.2 968.2 1504 L968.2 1477 Q968.2 1459 987 1459 L996 1459 Q1015.5 1459 1015.5 1477 Z" fill="#676b74" stroke="#e7d5c8" stroke-width="1.2"/>
<text x="968.5" y="1539" font-family="Liberation Sans" font-size="14" text-anchor="middle" style="fill:#5e636b" textLength="89" lengthAdjust="spacingAndGlyphs">AUTO</text>
</svg></body></html>
